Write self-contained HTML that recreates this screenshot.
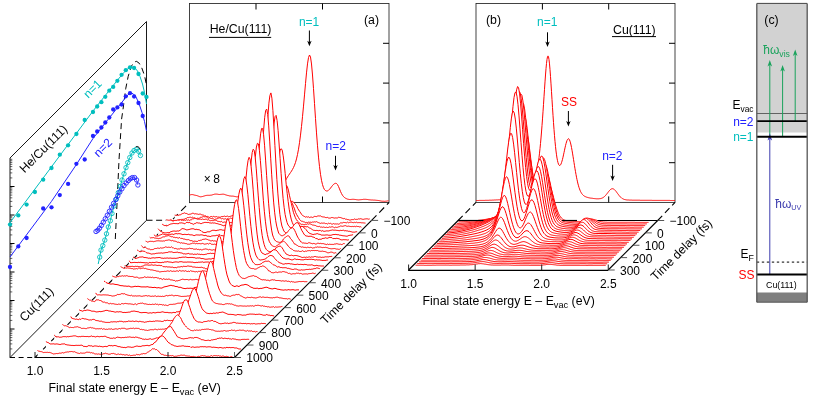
<!DOCTYPE html>
<html><head><meta charset="utf-8"><title>2PPE He/Cu(111)</title>
<style>html,body{margin:0;padding:0;background:#fff;}svg{display:block;will-change:transform;}text{font-family:"Liberation Sans",sans-serif;}</style></head>
<body>
<svg width="815" height="399" viewBox="0 0 815 399" font-family="'Liberation Sans', sans-serif">
<path d="M10 357.5 10 158 146.5 21.5 146.5 220.3 10 357.5 Z" stroke="#1a1a1a" stroke-width="1.0" fill="none"/>
<line x1="10" y1="177.92" x2="12.3" y2="177.92" stroke="#222" stroke-width="0.7"/>
<line x1="10" y1="172.9" x2="12.3" y2="172.9" stroke="#222" stroke-width="0.7"/>
<line x1="10" y1="169.34" x2="12.3" y2="169.34" stroke="#222" stroke-width="0.7"/>
<line x1="10" y1="166.58" x2="12.3" y2="166.58" stroke="#222" stroke-width="0.7"/>
<line x1="10" y1="164.32" x2="12.3" y2="164.32" stroke="#222" stroke-width="0.7"/>
<line x1="10" y1="162.41" x2="12.3" y2="162.41" stroke="#222" stroke-width="0.7"/>
<line x1="10" y1="160.76" x2="12.3" y2="160.76" stroke="#222" stroke-width="0.7"/>
<line x1="10" y1="159.3" x2="12.3" y2="159.3" stroke="#222" stroke-width="0.7"/>
<line x1="10" y1="186.5" x2="14.5" y2="186.5" stroke="#000" stroke-width="1"/>
<line x1="10" y1="206.42" x2="12.3" y2="206.42" stroke="#222" stroke-width="0.7"/>
<line x1="10" y1="201.4" x2="12.3" y2="201.4" stroke="#222" stroke-width="0.7"/>
<line x1="10" y1="197.84" x2="12.3" y2="197.84" stroke="#222" stroke-width="0.7"/>
<line x1="10" y1="195.08" x2="12.3" y2="195.08" stroke="#222" stroke-width="0.7"/>
<line x1="10" y1="192.82" x2="12.3" y2="192.82" stroke="#222" stroke-width="0.7"/>
<line x1="10" y1="190.91" x2="12.3" y2="190.91" stroke="#222" stroke-width="0.7"/>
<line x1="10" y1="189.26" x2="12.3" y2="189.26" stroke="#222" stroke-width="0.7"/>
<line x1="10" y1="187.8" x2="12.3" y2="187.8" stroke="#222" stroke-width="0.7"/>
<line x1="10" y1="215" x2="14.5" y2="215" stroke="#000" stroke-width="1"/>
<line x1="10" y1="234.92" x2="12.3" y2="234.92" stroke="#222" stroke-width="0.7"/>
<line x1="10" y1="229.9" x2="12.3" y2="229.9" stroke="#222" stroke-width="0.7"/>
<line x1="10" y1="226.34" x2="12.3" y2="226.34" stroke="#222" stroke-width="0.7"/>
<line x1="10" y1="223.58" x2="12.3" y2="223.58" stroke="#222" stroke-width="0.7"/>
<line x1="10" y1="221.32" x2="12.3" y2="221.32" stroke="#222" stroke-width="0.7"/>
<line x1="10" y1="219.41" x2="12.3" y2="219.41" stroke="#222" stroke-width="0.7"/>
<line x1="10" y1="217.76" x2="12.3" y2="217.76" stroke="#222" stroke-width="0.7"/>
<line x1="10" y1="216.3" x2="12.3" y2="216.3" stroke="#222" stroke-width="0.7"/>
<line x1="10" y1="243.5" x2="14.5" y2="243.5" stroke="#000" stroke-width="1"/>
<line x1="10" y1="263.42" x2="12.3" y2="263.42" stroke="#222" stroke-width="0.7"/>
<line x1="10" y1="258.4" x2="12.3" y2="258.4" stroke="#222" stroke-width="0.7"/>
<line x1="10" y1="254.84" x2="12.3" y2="254.84" stroke="#222" stroke-width="0.7"/>
<line x1="10" y1="252.08" x2="12.3" y2="252.08" stroke="#222" stroke-width="0.7"/>
<line x1="10" y1="249.82" x2="12.3" y2="249.82" stroke="#222" stroke-width="0.7"/>
<line x1="10" y1="247.91" x2="12.3" y2="247.91" stroke="#222" stroke-width="0.7"/>
<line x1="10" y1="246.26" x2="12.3" y2="246.26" stroke="#222" stroke-width="0.7"/>
<line x1="10" y1="244.8" x2="12.3" y2="244.8" stroke="#222" stroke-width="0.7"/>
<line x1="10" y1="272" x2="14.5" y2="272" stroke="#000" stroke-width="1"/>
<line x1="10" y1="291.92" x2="12.3" y2="291.92" stroke="#222" stroke-width="0.7"/>
<line x1="10" y1="286.9" x2="12.3" y2="286.9" stroke="#222" stroke-width="0.7"/>
<line x1="10" y1="283.34" x2="12.3" y2="283.34" stroke="#222" stroke-width="0.7"/>
<line x1="10" y1="280.58" x2="12.3" y2="280.58" stroke="#222" stroke-width="0.7"/>
<line x1="10" y1="278.32" x2="12.3" y2="278.32" stroke="#222" stroke-width="0.7"/>
<line x1="10" y1="276.41" x2="12.3" y2="276.41" stroke="#222" stroke-width="0.7"/>
<line x1="10" y1="274.76" x2="12.3" y2="274.76" stroke="#222" stroke-width="0.7"/>
<line x1="10" y1="273.3" x2="12.3" y2="273.3" stroke="#222" stroke-width="0.7"/>
<line x1="10" y1="300.5" x2="14.5" y2="300.5" stroke="#000" stroke-width="1"/>
<line x1="10" y1="320.42" x2="12.3" y2="320.42" stroke="#222" stroke-width="0.7"/>
<line x1="10" y1="315.4" x2="12.3" y2="315.4" stroke="#222" stroke-width="0.7"/>
<line x1="10" y1="311.84" x2="12.3" y2="311.84" stroke="#222" stroke-width="0.7"/>
<line x1="10" y1="309.08" x2="12.3" y2="309.08" stroke="#222" stroke-width="0.7"/>
<line x1="10" y1="306.82" x2="12.3" y2="306.82" stroke="#222" stroke-width="0.7"/>
<line x1="10" y1="304.91" x2="12.3" y2="304.91" stroke="#222" stroke-width="0.7"/>
<line x1="10" y1="303.26" x2="12.3" y2="303.26" stroke="#222" stroke-width="0.7"/>
<line x1="10" y1="301.8" x2="12.3" y2="301.8" stroke="#222" stroke-width="0.7"/>
<line x1="10" y1="329" x2="14.5" y2="329" stroke="#000" stroke-width="1"/>
<line x1="10" y1="348.92" x2="12.3" y2="348.92" stroke="#222" stroke-width="0.7"/>
<line x1="10" y1="343.9" x2="12.3" y2="343.9" stroke="#222" stroke-width="0.7"/>
<line x1="10" y1="340.34" x2="12.3" y2="340.34" stroke="#222" stroke-width="0.7"/>
<line x1="10" y1="337.58" x2="12.3" y2="337.58" stroke="#222" stroke-width="0.7"/>
<line x1="10" y1="335.32" x2="12.3" y2="335.32" stroke="#222" stroke-width="0.7"/>
<line x1="10" y1="333.41" x2="12.3" y2="333.41" stroke="#222" stroke-width="0.7"/>
<line x1="10" y1="331.76" x2="12.3" y2="331.76" stroke="#222" stroke-width="0.7"/>
<line x1="10" y1="330.3" x2="12.3" y2="330.3" stroke="#222" stroke-width="0.7"/>
<path d="M115.3 239 117.2 200 119 160 121.6 119 123.2 108 125.7 88.8 128.2 76.3 131.3 66.3 134 62.3 136.3 61.3 138.8 62.8 141.4 66.8 144.5 75.5 146.5 85" stroke="#000" stroke-width="1" fill="none" stroke-dasharray="6 4" stroke-linejoin="round"/>
<path d="M10 222.6 93 111 110 89.5 118 79.5 123 73.5 127 69.5 130 67.6 132.5 67 135 68 137.5 71 140 76.5 142.5 84 144.5 92.5 146.5 104" stroke="#00bebe" stroke-width="1" fill="none" stroke-linejoin="round"/>
<circle cx="10" cy="224.6" r="2.15" fill="#00bebe"/>
<circle cx="18.3" cy="215.4" r="2.15" fill="#00bebe"/>
<circle cx="26.6" cy="204.6" r="2.15" fill="#00bebe"/>
<circle cx="34.9" cy="192" r="2.15" fill="#00bebe"/>
<circle cx="43.2" cy="179.7" r="2.15" fill="#00bebe"/>
<circle cx="51.5" cy="168" r="2.15" fill="#00bebe"/>
<circle cx="59.8" cy="154.7" r="2.15" fill="#00bebe"/>
<circle cx="68.1" cy="145.3" r="2.15" fill="#00bebe"/>
<circle cx="76.4" cy="134" r="2.15" fill="#00bebe"/>
<circle cx="84.7" cy="120" r="2.15" fill="#00bebe"/>
<circle cx="93" cy="112" r="2.15" fill="#00bebe"/>
<circle cx="97.2" cy="106.5" r="2.15" fill="#00bebe"/>
<circle cx="101.4" cy="102.2" r="2.15" fill="#00bebe"/>
<circle cx="105.3" cy="96.8" r="2.15" fill="#00bebe"/>
<circle cx="109.3" cy="90.7" r="2.15" fill="#00bebe"/>
<circle cx="113.2" cy="86.9" r="2.15" fill="#00bebe"/>
<circle cx="117.4" cy="80.8" r="2.15" fill="#00bebe"/>
<circle cx="121.6" cy="74.8" r="2.15" fill="#00bebe"/>
<circle cx="125.8" cy="70.2" r="2.15" fill="#00bebe"/>
<circle cx="130" cy="67.3" r="2.15" fill="#00bebe"/>
<circle cx="134.1" cy="68" r="2.15" fill="#00bebe"/>
<circle cx="138.5" cy="74" r="2.15" fill="#00bebe"/>
<circle cx="142.7" cy="93.5" r="2.15" fill="#00bebe"/>
<circle cx="146.5" cy="97" r="2.15" fill="#00bebe"/>
<path d="M10 257 51.4 201.5 75.4 166 93 138.5 108 119.5 116 109.5 121 103.5 125 98.3 128 94.8 130.5 93.2 133 93.6 136 97 139 103.5 142 112.5 144.5 121.5 146.5 131" stroke="#2222ff" stroke-width="1" fill="none" stroke-linejoin="round"/>
<circle cx="10" cy="267" r="2.15" fill="#2222ff"/>
<circle cx="18.3" cy="246.4" r="2.15" fill="#2222ff"/>
<circle cx="26.6" cy="238" r="2.15" fill="#2222ff"/>
<circle cx="43.2" cy="208.5" r="2.15" fill="#2222ff"/>
<circle cx="51.5" cy="207.3" r="2.15" fill="#2222ff"/>
<circle cx="59.8" cy="195.1" r="2.15" fill="#2222ff"/>
<circle cx="68.1" cy="183.9" r="2.15" fill="#2222ff"/>
<circle cx="76.4" cy="163.8" r="2.15" fill="#2222ff"/>
<circle cx="84.7" cy="159.5" r="2.15" fill="#2222ff"/>
<circle cx="93" cy="136" r="2.15" fill="#2222ff"/>
<circle cx="97.2" cy="131.5" r="2.15" fill="#2222ff"/>
<circle cx="101.4" cy="127.5" r="2.15" fill="#2222ff"/>
<circle cx="105.3" cy="122.5" r="2.15" fill="#2222ff"/>
<circle cx="109.3" cy="117.5" r="2.15" fill="#2222ff"/>
<circle cx="113.2" cy="109.5" r="2.15" fill="#2222ff"/>
<circle cx="117.4" cy="107.4" r="2.15" fill="#2222ff"/>
<circle cx="121.6" cy="104.5" r="2.15" fill="#2222ff"/>
<circle cx="125.8" cy="96.3" r="2.15" fill="#2222ff"/>
<circle cx="130" cy="93.2" r="2.15" fill="#2222ff"/>
<circle cx="134.1" cy="96.5" r="2.15" fill="#2222ff"/>
<circle cx="138.5" cy="103" r="2.15" fill="#2222ff"/>
<circle cx="142.7" cy="116" r="2.15" fill="#2222ff"/>
<path d="M98.2 264 99.7 257.1 101 250.1 102.8 245.6 104.8 240.1 106.5 233.8 108.3 227 110.3 220.8 112 213.5 114 206 116.3 199 118.3 192.6 120.3 186.4 122 180 124 173.8 126 167.6 127.8 162.6 129.8 157.5 132 153 134 150.5 136.3 149.3 138.6 151.3 140.4 155.5" stroke="#00bebe" stroke-width="1" fill="none"/>
<circle cx="99.7" cy="257.1" r="2.2" fill="none" stroke="#00bebe" stroke-width="0.9"/>
<circle cx="101" cy="250.1" r="2.2" fill="none" stroke="#00bebe" stroke-width="0.9"/>
<circle cx="102.8" cy="245.6" r="2.2" fill="none" stroke="#00bebe" stroke-width="0.9"/>
<circle cx="104.8" cy="240.1" r="2.2" fill="none" stroke="#00bebe" stroke-width="0.9"/>
<circle cx="106.5" cy="233.8" r="2.2" fill="none" stroke="#00bebe" stroke-width="0.9"/>
<circle cx="108.3" cy="227" r="2.2" fill="none" stroke="#00bebe" stroke-width="0.9"/>
<circle cx="110.3" cy="220.8" r="2.2" fill="none" stroke="#00bebe" stroke-width="0.9"/>
<circle cx="112" cy="213.5" r="2.2" fill="none" stroke="#00bebe" stroke-width="0.9"/>
<circle cx="114" cy="206" r="2.2" fill="none" stroke="#00bebe" stroke-width="0.9"/>
<circle cx="116.3" cy="199" r="2.2" fill="none" stroke="#00bebe" stroke-width="0.9"/>
<circle cx="118.3" cy="192.6" r="2.2" fill="none" stroke="#00bebe" stroke-width="0.9"/>
<circle cx="120.3" cy="186.4" r="2.2" fill="none" stroke="#00bebe" stroke-width="0.9"/>
<circle cx="122" cy="180" r="2.2" fill="none" stroke="#00bebe" stroke-width="0.9"/>
<circle cx="124" cy="173.8" r="2.2" fill="none" stroke="#00bebe" stroke-width="0.9"/>
<circle cx="126" cy="167.6" r="2.2" fill="none" stroke="#00bebe" stroke-width="0.9"/>
<circle cx="127.8" cy="162.6" r="2.2" fill="none" stroke="#00bebe" stroke-width="0.9"/>
<circle cx="129.8" cy="157.5" r="2.2" fill="none" stroke="#00bebe" stroke-width="0.9"/>
<circle cx="132" cy="153" r="2.2" fill="none" stroke="#00bebe" stroke-width="0.9"/>
<circle cx="134" cy="150.5" r="2.2" fill="none" stroke="#00bebe" stroke-width="0.9"/>
<circle cx="136.3" cy="149.3" r="2.2" fill="none" stroke="#00bebe" stroke-width="0.9"/>
<circle cx="138.6" cy="151.3" r="2.2" fill="none" stroke="#00bebe" stroke-width="0.9"/>
<circle cx="140.4" cy="155.5" r="2.2" fill="none" stroke="#00bebe" stroke-width="0.9"/>
<path d="M96 231.5 97.8 230.2 99.5 228.2 101.4 225.4 103.3 222.2 105.3 218.8 107.3 215.2 109.4 211.3 111.5 207.2 113.6 203.4 115.8 199.6 117.8 195.8 119.8 192.1 121.9 188.8 124 185.6 126.2 183 128.3 180.6 130.3 178.8 132.3 177.6 134.6 177.6 136.6 180 137.9 185" stroke="#2222ff" stroke-width="0.8" fill="none"/>
<circle cx="96" cy="231.5" r="2.2" fill="none" stroke="#2222ff" stroke-width="0.9"/>
<circle cx="97.8" cy="230.2" r="2.2" fill="none" stroke="#2222ff" stroke-width="0.9"/>
<circle cx="99.5" cy="228.2" r="2.2" fill="none" stroke="#2222ff" stroke-width="0.9"/>
<circle cx="101.4" cy="225.4" r="2.2" fill="none" stroke="#2222ff" stroke-width="0.9"/>
<circle cx="103.3" cy="222.2" r="2.2" fill="none" stroke="#2222ff" stroke-width="0.9"/>
<circle cx="105.3" cy="218.8" r="2.2" fill="none" stroke="#2222ff" stroke-width="0.9"/>
<circle cx="107.3" cy="215.2" r="2.2" fill="none" stroke="#2222ff" stroke-width="0.9"/>
<circle cx="109.4" cy="211.3" r="2.2" fill="none" stroke="#2222ff" stroke-width="0.9"/>
<circle cx="111.5" cy="207.2" r="2.2" fill="none" stroke="#2222ff" stroke-width="0.9"/>
<circle cx="113.6" cy="203.4" r="2.2" fill="none" stroke="#2222ff" stroke-width="0.9"/>
<circle cx="115.8" cy="199.6" r="2.2" fill="none" stroke="#2222ff" stroke-width="0.9"/>
<circle cx="117.8" cy="195.8" r="2.2" fill="none" stroke="#2222ff" stroke-width="0.9"/>
<circle cx="119.8" cy="192.1" r="2.2" fill="none" stroke="#2222ff" stroke-width="0.9"/>
<circle cx="121.9" cy="188.8" r="2.2" fill="none" stroke="#2222ff" stroke-width="0.9"/>
<circle cx="124" cy="185.6" r="2.2" fill="none" stroke="#2222ff" stroke-width="0.9"/>
<circle cx="126.2" cy="183" r="2.2" fill="none" stroke="#2222ff" stroke-width="0.9"/>
<circle cx="128.3" cy="180.6" r="2.2" fill="none" stroke="#2222ff" stroke-width="0.9"/>
<circle cx="130.3" cy="178.8" r="2.2" fill="none" stroke="#2222ff" stroke-width="0.9"/>
<circle cx="132.3" cy="177.6" r="2.2" fill="none" stroke="#2222ff" stroke-width="0.9"/>
<circle cx="134.6" cy="177.6" r="2.2" fill="none" stroke="#2222ff" stroke-width="0.9"/>
<circle cx="136.6" cy="180" r="2.2" fill="none" stroke="#2222ff" stroke-width="0.9"/>
<circle cx="137.9" cy="185" r="2.2" fill="none" stroke="#2222ff" stroke-width="0.9"/>
<path d="M135.8 146.9 137.6 146.5 139.2 147.6 140.3 149.6" stroke="#000" stroke-width="1" fill="none"/>
<text x="24.5" y="173.5" font-size="12.3" fill="#000" text-anchor="start" transform="rotate(-45 24.5 173.5)">He/Cu(111)</text>
<text x="24.4" y="322.3" font-size="12.3" fill="#000" text-anchor="start" transform="rotate(-45 24.4 322.3)">Cu(111)</text>
<text x="88.2" y="98.8" font-size="12.0" fill="#00bebe" text-anchor="start" transform="rotate(-45 88.2 98.8)">n=1</text>
<text x="98.5" y="157.7" font-size="12.0" fill="#2222ff" text-anchor="start" transform="rotate(-45 98.5 157.7)">n=2</text>
<rect x="189.5" y="3.5" width="199.5" height="199.0" fill="none" stroke="#222" stroke-width="0.85"/>
<line x1="256" y1="3.5" x2="256" y2="9.5" stroke="#000" stroke-width="1"/>
<line x1="256" y1="202.5" x2="256" y2="196.5" stroke="#000" stroke-width="1"/>
<line x1="322.5" y1="3.5" x2="322.5" y2="9.5" stroke="#000" stroke-width="1"/>
<line x1="322.5" y1="202.5" x2="322.5" y2="196.5" stroke="#000" stroke-width="1"/>
<line x1="383" y1="43.3" x2="389" y2="43.3" stroke="#000" stroke-width="1"/>
<line x1="383" y1="83.1" x2="389" y2="83.1" stroke="#000" stroke-width="1"/>
<line x1="383" y1="122.9" x2="389" y2="122.9" stroke="#000" stroke-width="1"/>
<line x1="383" y1="162.7" x2="389" y2="162.7" stroke="#000" stroke-width="1"/>
<text x="209.7" y="33.2" font-size="12.3" fill="#000" text-anchor="start">He/Cu(111)</text>
<line x1="209" y1="37.4" x2="271.2" y2="37.4" stroke="#000" stroke-width="1"/>
<text x="298.9" y="25.6" font-size="12.0" fill="#00bebe" text-anchor="start">n=1</text>
<line x1="309.4" y1="30.5" x2="309.4" y2="43" stroke="#000" stroke-width="1"/>
<path d="M307.2 40.8 309.4 46.3 311.6 40.8 309.4 42.3 Z" stroke="none" stroke-width="1" fill="#000"/>
<text x="364" y="24.2" font-size="12.3" fill="#000" text-anchor="start">(a)</text>
<text x="325.6" y="150.2" font-size="12.0" fill="#2222ff" text-anchor="start">n=2</text>
<line x1="335.5" y1="155.8" x2="335.5" y2="167.2" stroke="#000" stroke-width="1"/>
<path d="M333.3 165 335.5 170.5 337.7 165 335.5 166.5 Z" stroke="none" stroke-width="1" fill="#000"/>
<text x="203.8" y="183.3" font-size="12" fill="#000" text-anchor="start">×</text>
<text x="213.3" y="183.3" font-size="12" fill="#000" text-anchor="start">8</text>
<path d="M189.5 194.8l1 0 1-.2 1 0 1 .2 1 .3 1 .2 1 .2 1 .3 1 .4 1 .4 1 .2 1-.1 1-.2 1-.3 1-.3 1-.3 1-.2 1-.1 1 0 1 0 1-.1 1-.1 1-.3 1-.3 1-.3 1-.1 1 0 1 .1 1 .2 1 .1 1-.1 1-.1 1-.1 1 0 1 .2 1 .4 1 .3 1 .3 1 .2 1 .3 1 .1 1 .1 1 0 1 .1 1 .2 1 .2 1 .2 1 0 1-.1 1-.3 1-.2 1-.1 1 .2 1 .3 1 .3 1 .2 1 .1 1 0 1 0 1-.1 1 0 1-.1 1-.1 1-.1 1-.2 1-.1 1 0 1 0 1 0 1-.1 1-.1 1-.1 1-.1 1 0 1 0 1 0 1-.1 1-.1 1-.1 1-.3 1-.3 1-.4 1-.5 1-.5 1-.4 1-.5 1-.6 1-.8 1-1 1-1.3 1-1.3 1-1.3 1-1.5 1-1.5 1-1.6 1-1.6 1-1.7 1-1.7 1-1.5 1-1.5 1-1.4 1-1.5 1-1.7 1-1.9 1-2.3 1-2.8 1-3.5 1-4.4 1-5.3 1-6.5 1-7.6 1-8.7 1-9.7 1-10.6 1-11.2 1-11.3 1-10.7 1-9 1-6.3 1-2.6 1 2 1 7 1 11 1 13.6 1 14.9 1 15.1 1 14.3 1 12.9 1 11.3 1 9.5 1 7.7 1 6 1 4.3 1 3.1 1 1.9 1 1 1 .4 1-.1 1-.6 1-1 1-1.2 1-1.3 1-1.3 1-1.1 1-.7 1-.4 1 .2 1 1.1 1 1.9 1 2.4 1 2.5 1 2.2 1 1.7 1 1.3 1 .9 1 .7 1 .5 1 .4 1 .2 1 .2 1 0 1-.1 1-.1 1 0 1 .1 1 .1 1 .2 1 .1 1 .1 1-.1 1-.1 1-.1 1-.1 1-.2 1 0 1 0 1 .1 1 .1 1 .2 1 .1 1 .1 1 .1 1 0 1 .1 1 0 1 .1 1 .1 1 .1 1 .1 1 .2 1 .2 1 .2 1 .1 1 0 1 .1 1-.1 1-.1 1-.2 1-.1" stroke="#ff0000" stroke-width="1" fill="none" stroke-linejoin="round"/>
<line x1="10" y1="357.5" x2="35" y2="357.5" stroke="#000" stroke-width="1.1" stroke-dasharray="5 3.6"/>
<line x1="35" y1="357.5" x2="189.5" y2="202.5" stroke="#000" stroke-width="1.1" stroke-dasharray="7 4.5"/>
<line x1="146.5" y1="220.3" x2="166.5" y2="220.3" stroke="#000" stroke-width="1.1" stroke-dasharray="6 3.6"/>
<path d="M174.7 220.4l0-5.3 1 .2 1 0 1-.1 1 .2 1-.6 1-.1 1-.7 1-.5 1-.2 1-.5 1 .7 1 0 1 .6 1 .4 1-.3 1-.1 1-.4 1-.5 1 .2 1 .6 1-.3 1 .3 1 .1 1 .3 1-.3 1 .1 1 .6 1 .2 1 .2 1 .8 1-.2 1 .9 1-.3 1 .6 1 .4 1-.9 1 0 1 .5 1-.7 1 .6 1-.1 1-.2 1 .6 1-.2 1 .2 1-.1 1-.6 1 0 1-.1 1-.3 1 .5 1-.3 1-.2 1 .7 1-.3 1-.3 1-.3 1-.4 1 .3 1 .4 1-.2 1 .1 1 .1 1-.3 1-.1 1 .3 1 0 1-.1 1 .2 1 .1 1-.5 1 .4 1 .2 1 .2 1-.6 1-.1 1 .1 1-.2 1-.3 1-.9 1 .3 1 .5 1-.1 1-.1 1 .1 1-.4 1 .6 1-.6 1 .6 1-.4 1-.4 1 0 1-.1 1-.2 1-.6 1-.3 1-.1 1-.2 1 0 1-.2 1 .1 1-.1 1-.1 1-.4 1 0 1-.6 1-1.1 1-.1 1-1.7 1-.8 1-1.5 1-1 1-1 1-1.1 1-.6 1-1.2 1-.1 1-.3 1 .9 1 1.2 1 1.2 1 1.4 1 2.3 1 1.6 1 1.5 1 1.4 1 1.7 1 .9 1 .6 1 .5 1 .6 1-.5 1 .5 1-.4 1 .8 1-.5 1 0 1 .4 1-.6 1-.6 1 .2 1 .1 1-.6 1-.1 1 .1 1-.1 1 .8 1 .2 1 .1 1 .1 1 .5 1 0 1-.2 1 .7 1 0 1-.1 1-.5 1 .1 1 .3 1 .2 1-.2 1 .1 1-.1 1-.7 1 .3 1 .1 1 .4 1 .4 1 .3 1-.2 1 .8 1-.1 1 .4 1 .1 1 .4 1-.1 1-.4 1 0 1 0 1-.7 1 .6 1-.2 1 0 1-.5 1 .2 1-.3 1 .3 1 .3 1 0 1-.3 1-.1 1-.1 1 .1 1 .3 1-.3 0 1.5" stroke="none" stroke-width="1" fill="#fff"/>
<path d="M174.7 215.1l1 .2 1 0 1-.1 1 .2 1-.6 1-.1 1-.7 1-.5 1-.2 1-.5 1 .7 1 0 1 .6 1 .4 1-.3 1-.1 1-.4 1-.5 1 .2 1 .6 1-.3 1 .3 1 .1 1 .3 1-.3 1 .1 1 .6 1 .2 1 .2 1 .8 1-.2 1 .9 1-.3 1 .6 1 .4 1-.9 1 0 1 .5 1-.7 1 .6 1-.1 1-.2 1 .6 1-.2 1 .2 1-.1 1-.6 1 0 1-.1 1-.3 1 .5 1-.3 1-.2 1 .7 1-.3 1-.3 1-.3 1-.4 1 .3 1 .4 1-.2 1 .1 1 .1 1-.3 1-.1 1 .3 1 0 1-.1 1 .2 1 .1 1-.5 1 .4 1 .2 1 .2 1-.6 1-.1 1 .1 1-.2 1-.3 1-.9 1 .3 1 .5 1-.1 1-.1 1 .1 1-.4 1 .6 1-.6 1 .6 1-.4 1-.4 1 0 1-.1 1-.2 1-.6 1-.3 1-.1 1-.2 1 0 1-.2 1 .1 1-.1 1-.1 1-.4 1 0 1-.6 1-1.1 1-.1 1-1.7 1-.8 1-1.5 1-1 1-1 1-1.1 1-.6 1-1.2 1-.1 1-.3 1 .9 1 1.2 1 1.2 1 1.4 1 2.3 1 1.6 1 1.5 1 1.4 1 1.7 1 .9 1 .6 1 .5 1 .6 1-.5 1 .5 1-.4 1 .8 1-.5 1 0 1 .4 1-.6 1-.6 1 .2 1 .1 1-.6 1-.1 1 .1 1-.1 1 .8 1 .2 1 .1 1 .1 1 .5 1 0 1-.2 1 .7 1 0 1-.1 1-.5 1 .1 1 .3 1 .2 1-.2 1 .1 1-.1 1-.7 1 .3 1 .1 1 .4 1 .4 1 .3 1-.2 1 .8 1-.1 1 .4 1 .1 1 .4 1-.1 1-.4 1 0 1 0 1-.7 1 .6 1-.2 1 0 1-.5 1 .2 1-.3 1 .3 1 .3 1 0 1-.3 1-.1 1-.1 1 .1 1 .3 1-.3" stroke="#ff0000" stroke-width="1" fill="none" stroke-linejoin="round"/>
<path d="M170.5 224.6l0-5.2 1 .6 1 .5 1 0 1 .1 1 .3 1-.4 1-.2 1-.4 1-.3 1 .5 1-.7 1 0 1-.1 1-.2 1-.6 1-.2 1-.8 1 .1 1-.3 1-.1 1 .5 1-.5 1 .7 1-.1 1 .5 1 .3 1-.4 1 .2 1-.3 1-.8 1 0 1-.4 1-.3 1 .2 1-.1 1 .2 1 .8 1 .6 1-.5 1 .5 1 .2 1 .2 1 .2 1 .8 1-.6 1-.2 1-.3 1-.5 1-.3 1 .3 1 .7 1-.4 1 .6 1 0 1-.3 1 .6 1-.4 1 .1 1-.1 1-.8 1 .3 1 .1 1 .6 1 0 1 .5 1 0 1 .6 1 .2 1 .2 1 0 1 .2 1-.2 1 0 1 .1 1 .4 1-.3 1-.2 1-.4 1-.2 1-.1 1 0 1 .1 1-.1 1-.3 1 0 1-.6 1 .2 1-.2 1 0 1-.2 1 .5 1-.8 1 .1 1 .2 1-.3 1 0 1 .2 1-.2 1 .3 1-.3 1-.3 1 .1 1-.4 1-.6 1-.4 1-1 1-.6 1-.5 1-1.6 1-.9 1-1.1 1-1.6 1-2.2 1-1.8 1-1.4 1-2 1-1.4 1-.4 1-.4 1 .3 1 1.5 1 2.1 1 2.6 1 2.4 1 3.4 1 2 1 1.7 1 1.6 1 1.8 1 1.1 1 .7 1 .1 1 .5 1 .2 1 .6 1-.2 1 .2 1-.5 1 .2 1-.1 1 .2 1-.4 1 .1 1-.3 1 .2 1-.4 1 .6 1 .4 1 .4 1 .4 1-.4 1 .2 1-.1 1 0 1 .5 1-.1 1 .5 1-.8 1 .4 1-.3 1 .7 1 .1 1-.5 1 .4 1-.1 1 .1 1-.1 1 .3 1-.4 1-.9 1 0 1 0 1-.5 1 .1 1 .1 1 .2 1-.7 1 .7 1-.4 1-.2 1 0 1 .3 1 .2 1-.4 1 .3 1-.4 1 .5 1-.1 1 0 1 0 1 .2 1 0 1 .1 1 .1 1 .1 0 1.5" stroke="none" stroke-width="1" fill="#fff"/>
<path d="M170.5 219.4l1 .6 1 .5 1 0 1 .1 1 .3 1-.4 1-.2 1-.4 1-.3 1 .5 1-.7 1 0 1-.1 1-.2 1-.6 1-.2 1-.8 1 .1 1-.3 1-.1 1 .5 1-.5 1 .7 1-.1 1 .5 1 .3 1-.4 1 .2 1-.3 1-.8 1 0 1-.4 1-.3 1 .2 1-.1 1 .2 1 .8 1 .6 1-.5 1 .5 1 .2 1 .2 1 .2 1 .8 1-.6 1-.2 1-.3 1-.5 1-.3 1 .3 1 .7 1-.4 1 .6 1 0 1-.3 1 .6 1-.4 1 .1 1-.1 1-.8 1 .3 1 .1 1 .6 1 0 1 .5 1 0 1 .6 1 .2 1 .2 1 0 1 .2 1-.2 1 0 1 .1 1 .4 1-.3 1-.2 1-.4 1-.2 1-.1 1 0 1 .1 1-.1 1-.3 1 0 1-.6 1 .2 1-.2 1 0 1-.2 1 .5 1-.8 1 .1 1 .2 1-.3 1 0 1 .2 1-.2 1 .3 1-.3 1-.3 1 .1 1-.4 1-.6 1-.4 1-1 1-.6 1-.5 1-1.6 1-.9 1-1.1 1-1.6 1-2.2 1-1.8 1-1.4 1-2 1-1.4 1-.4 1-.4 1 .3 1 1.5 1 2.1 1 2.6 1 2.4 1 3.4 1 2 1 1.7 1 1.6 1 1.8 1 1.1 1 .7 1 .1 1 .5 1 .2 1 .6 1-.2 1 .2 1-.5 1 .2 1-.1 1 .2 1-.4 1 .1 1-.3 1 .2 1-.4 1 .6 1 .4 1 .4 1 .4 1-.4 1 .2 1-.1 1 0 1 .5 1-.1 1 .5 1-.8 1 .4 1-.3 1 .7 1 .1 1-.5 1 .4 1-.1 1 .1 1-.1 1 .3 1-.4 1-.9 1 0 1 0 1-.5 1 .1 1 .1 1 .2 1-.7 1 .7 1-.4 1-.2 1 0 1 .3 1 .2 1-.4 1 .3 1-.4 1 .5 1-.1 1 0 1 0 1 .2 1 0 1 .1 1 .1 1 .1" stroke="#ff0000" stroke-width="1" fill="none" stroke-linejoin="round"/>
<path d="M166.4 228.7l0-8.9 1 .2 1 .2 1 0 1 0 1 .3 1 .4 1 .1 1-.5 1-.1 1 0 1-.3 1 .1 1 0 1-.5 1 .7 1-.3 1 .4 1-.4 1 .3 1-.6 1 .4 1-.4 1 .6 1-.5 1-.1 1-.9 1-.1 1-.4 1 .1 1 .2 1 .5 1 0 1 0 1-.1 1 .4 1-.5 1 .4 1 .1 1-.3 1 0 1 .8 1-.3 1 .6 1 .4 1-.2 1 .1 1 0 1-.4 1 0 1 .3 1 .7 1 .2 1 .1 1 .3 1-.5 1 1 1 0 1-.3 1 .2 1-.1 1 .2 1 .4 1 0 1-.2 1 0 1 .4 1 .1 1-.4 1 0 1-.5 1 .4 1-.1 1 .1 1-.2 1 .3 1 0 1-.5 1-.1 1-.5 1 .2 1-.6 1-.1 1-.5 1 .5 1-.3 1 .6 1 .3 1 .5 1-.5 1-.2 1-.2 1-.2 1-.9 1-.5 1-.7 1 .3 1-.6 1 .1 1-.3 1-.6 1 0 1-.1 1 .3 1-.7 1-.5 1-.4 1-1 1-.4 1-1.6 1-1.6 1-1.9 1-2.6 1-3.6 1-3.6 1-3.8 1-4.2 1-3.2 1-2.9 1-1.6 1 .7 1 1.7 1 3.3 1 5.1 1 4.2 1 4.3 1 4.2 1 4.4 1 2.7 1 2.7 1 1.9 1 1.4 1 .8 1 1.1 1 1.1 1 .4 1-.1 1 .3 1 0 1-.3 1 .1 1-.6 1 .4 1-.4 1 .2 1 .4 1 .6 1 .1 1 .2 1 .2 1 .6 1 .3 1 .2 1-.3 1 .8 1-.1 1 .3 1-.3 1 .3 1 .2 1-.3 1 .3 1-.1 1-.5 1 .3 1-.3 1-.1 1 .1 1 1 1-.7 1 .2 1-.1 1-.4 1-.2 1-.7 1 .1 1 .2 1-.2 1-.3 1-.2 1 .5 1 .2 1-.2 1 .2 1 .2 1 .1 1-.2 1 .2 1-.3 1 .4 1-.5 1 .3 1 0 1 .4 1-.2 1 .5 0 1.5" stroke="none" stroke-width="1" fill="#fff"/>
<path d="M166.4 219.8l1 .2 1 .2 1 0 1 0 1 .3 1 .4 1 .1 1-.5 1-.1 1 0 1-.3 1 .1 1 0 1-.5 1 .7 1-.3 1 .4 1-.4 1 .3 1-.6 1 .4 1-.4 1 .6 1-.5 1-.1 1-.9 1-.1 1-.4 1 .1 1 .2 1 .5 1 0 1 0 1-.1 1 .4 1-.5 1 .4 1 .1 1-.3 1 0 1 .8 1-.3 1 .6 1 .4 1-.2 1 .1 1 0 1-.4 1 0 1 .3 1 .7 1 .2 1 .1 1 .3 1-.5 1 1 1 0 1-.3 1 .2 1-.1 1 .2 1 .4 1 0 1-.2 1 0 1 .4 1 .1 1-.4 1 0 1-.5 1 .4 1-.1 1 .1 1-.2 1 .3 1 0 1-.5 1-.1 1-.5 1 .2 1-.6 1-.1 1-.5 1 .5 1-.3 1 .6 1 .3 1 .5 1-.5 1-.2 1-.2 1-.2 1-.9 1-.5 1-.7 1 .3 1-.6 1 .1 1-.3 1-.6 1 0 1-.1 1 .3 1-.7 1-.5 1-.4 1-1 1-.4 1-1.6 1-1.6 1-1.9 1-2.6 1-3.6 1-3.6 1-3.8 1-4.2 1-3.2 1-2.9 1-1.6 1 .7 1 1.7 1 3.3 1 5.1 1 4.2 1 4.3 1 4.2 1 4.4 1 2.7 1 2.7 1 1.9 1 1.4 1 .8 1 1.1 1 1.1 1 .4 1-.1 1 .3 1 0 1-.3 1 .1 1-.6 1 .4 1-.4 1 .2 1 .4 1 .6 1 .1 1 .2 1 .2 1 .6 1 .3 1 .2 1-.3 1 .8 1-.1 1 .3 1-.3 1 .3 1 .2 1-.3 1 .3 1-.1 1-.5 1 .3 1-.3 1-.1 1 .1 1 1 1-.7 1 .2 1-.1 1-.4 1-.2 1-.7 1 .1 1 .2 1-.2 1-.3 1-.2 1 .5 1 .2 1-.2 1 .2 1 .2 1 .1 1-.2 1 .2 1-.3 1 .4 1-.5 1 .3 1 0 1 .4 1-.2 1 .5" stroke="#ff0000" stroke-width="1" fill="none" stroke-linejoin="round"/>
<path d="M162.2 232.9l0-8.7 1 .6 1 .7 1-.1 1 .5 1-.2 1-.4 1-.6 1-.5 1-.3 1-.1 1-.4 1 .1 1 .1 1 0 1 0 1 .4 1-1.1 1 .1 1-.2 1 .2 1 .1 1 .6 1-.1 1-1.1 1-.2 1 .5 1-.7 1 1 1 .3 1 .2 1 .9 1-.8 1-.1 1-.8 1-.1 1 .4 1-.2 1 .6 1 .2 1-.6 1-.2 1-.4 1-.1 1 0 1 .2 1-.2 1 .4 1 .1 1 .3 1-.4 1 .3 1-.2 1 .2 1 .4 1 .1 1 .3 1 .4 1 .1 1 .4 1 .4 1 .6 1-.4 1 .1 1-.2 1-.4 1 .4 1-.1 1 .6 1-.3 1 0 1 .3 1 .7 1 .1 1-.2 1-.4 1-.3 1 .6 1-.5 1 .2 1 .2 1 .2 1 .1 1 .1 1-.4 1 .1 1-.8 1 .1 1-.7 1 0 1-.1 1 0 1 .1 1-.2 1 .5 1-1 1 0 1-.9 1-.4 1-.5 1-.5 1-.5 1-.7 1-.7 1-1 1-.9 1-1.5 1-1.6 1-2.3 1-2.6 1-4.3 1-5 1-5.9 1-7.8 1-8.2 1-9 1-8 1-7.3 1-4.6 1-1.3 1 1.4 1 5.7 1 8 1 9.8 1 10.7 1 9.1 1 8.1 1 7.7 1 5.4 1 4.5 1 3.2 1 2.2 1 1.5 1 1 1-.2 1 .3 1-.3 1-.3 1 0 1 .1 1 0 1 .2 1-.4 1 .1 1 .4 1-.4 1 .5 1 .9 1 .2 1 .7 1 .7 1 .7 1 .1 1 .3 1-.2 1 0 1 .4 1-.3 1-.2 1 1 1-.8 1 .6 1 .2 1-.1 1-.3 1 0 1 .1 1-.2 1-.4 1-.1 1-.4 1 .2 1 .1 1-.1 1 .2 1 .1 1 .1 1 .3 1-.5 1 .2 1 0 1-.5 1 .8 1-.2 1 .3 1-.1 1 .5 1-.1 1 .3 1 .2 1 .4 1 0 1 .1 1-.2 1-.3 1 .2 0 1" stroke="none" stroke-width="1" fill="#fff"/>
<path d="M162.2 224.2l1 .6 1 .7 1-.1 1 .5 1-.2 1-.4 1-.6 1-.5 1-.3 1-.1 1-.4 1 .1 1 .1 1 0 1 0 1 .4 1-1.1 1 .1 1-.2 1 .2 1 .1 1 .6 1-.1 1-1.1 1-.2 1 .5 1-.7 1 1 1 .3 1 .2 1 .9 1-.8 1-.1 1-.8 1-.1 1 .4 1-.2 1 .6 1 .2 1-.6 1-.2 1-.4 1-.1 1 0 1 .2 1-.2 1 .4 1 .1 1 .3 1-.4 1 .3 1-.2 1 .2 1 .4 1 .1 1 .3 1 .4 1 .1 1 .4 1 .4 1 .6 1-.4 1 .1 1-.2 1-.4 1 .4 1-.1 1 .6 1-.3 1 0 1 .3 1 .7 1 .1 1-.2 1-.4 1-.3 1 .6 1-.5 1 .2 1 .2 1 .2 1 .1 1 .1 1-.4 1 .1 1-.8 1 .1 1-.7 1 0 1-.1 1 0 1 .1 1-.2 1 .5 1-1 1 0 1-.9 1-.4 1-.5 1-.5 1-.5 1-.7 1-.7 1-1 1-.9 1-1.5 1-1.6 1-2.3 1-2.6 1-4.3 1-5 1-5.9 1-7.8 1-8.2 1-9 1-8 1-7.3 1-4.6 1-1.3 1 1.4 1 5.7 1 8 1 9.8 1 10.7 1 9.1 1 8.1 1 7.7 1 5.4 1 4.5 1 3.2 1 2.2 1 1.5 1 1 1-.2 1 .3 1-.3 1-.3 1 0 1 .1 1 0 1 .2 1-.4 1 .1 1 .4 1-.4 1 .5 1 .9 1 .2 1 .7 1 .7 1 .7 1 .1 1 .3 1-.2 1 0 1 .4 1-.3 1-.2 1 1 1-.8 1 .6 1 .2 1-.1 1-.3 1 0 1 .1 1-.2 1-.4 1-.1 1-.4 1 .2 1 .1 1-.1 1 .2 1 .1 1 .1 1 .3 1-.5 1 .2 1 0 1-.5 1 .8 1-.2 1 .3 1-.1 1 .5 1-.1 1 .3 1 .2 1 .4 1 0 1 .1 1-.2 1-.3 1 .2" stroke="#ff0000" stroke-width="1" fill="none" stroke-linejoin="round"/>
<path d="M158.1 237l0-8.3 1 1.1 1 1.1 1 .5 1 .7 1 .3 1 .4 1 .1 1 0 1-.2 1-.1 1 .2 1-.8 1-.3 1-.4 1-.2 1-.1 1 .1 1 .2 1-.5 1 .4 1-.4 1-.5 1-.9 1-.8 1 .1 1 .2 1 .3 1 .6 1 .1 1-.2 1-.2 1-.3 1-.3 1-.1 1-.1 1 .3 1 .6 1-.4 1 .3 1 .2 1-.1 1 .8 1 .3 1 1 1 .6 1 .2 1 .1 1-.2 1-.5 1-.2 1 .3 1-.6 1-.4 1-.7 1 0 1-.1 1 .3 1 .2 1-.5 1 .1 1-.5 1 0 1-.2 1 .5 1 0 1 .2 1-.1 1 .2 1 .3 1 0 1-1 1 .3 1-.5 1 .2 1 .1 1-.1 1-.1 1-.3 1 .4 1 0 1 .3 1 .3 1-.4 1 .4 1-.5 1 .2 1 .4 1 .1 1 .3 1-.2 1-.3 1 0 1 0 1-.4 1-.5 1-.2 1-.6 1-.6 1-.2 1-.9 1-.4 1-1.1 1-.8 1-1.1 1-1.5 1-2 1-2.8 1-4 1-6.2 1-8.2 1-10.5 1-12.3 1-14 1-14.8 1-13.2 1-11 1-6.5 1-1.1 1 5.1 1 9.9 1 13.6 1 14.6 1 14.8 1 13.6 1 11.5 1 8.8 1 7.1 1 4.5 1 3.7 1 2.5 1 1 1 1.7 1-.2 1 .8 1 .2 1 .1 1 0 1-.6 1-.4 1-.4 1-.5 1-.4 1 0 1-.1 1 .6 1 1 1 .6 1 1.1 1 1.5 1 1.1 1 .8 1 .5 1 .4 1 .3 1 .4 1-.4 1 0 1-.2 1-.5 1 .5 1 .3 1 0 1 .7 1 .1 1-.1 1 .2 1-.2 1 0 1-.2 1 .4 1 0 1 .1 1-.1 1-.3 1-.4 1 .1 1-.2 1 0 1 .4 1-.3 1 .6 1 .1 1 .1 1 .3 1 .2 1 0 1 .2 1 .1 1 .2 1-.6 1-.2 1-.3 1 0 1-.3 1-.2 0 2.3" stroke="none" stroke-width="1" fill="#fff"/>
<path d="M158.1 228.7l1 1.1 1 1.1 1 .5 1 .7 1 .3 1 .4 1 .1 1 0 1-.2 1-.1 1 .2 1-.8 1-.3 1-.4 1-.2 1-.1 1 .1 1 .2 1-.5 1 .4 1-.4 1-.5 1-.9 1-.8 1 .1 1 .2 1 .3 1 .6 1 .1 1-.2 1-.2 1-.3 1-.3 1-.1 1-.1 1 .3 1 .6 1-.4 1 .3 1 .2 1-.1 1 .8 1 .3 1 1 1 .6 1 .2 1 .1 1-.2 1-.5 1-.2 1 .3 1-.6 1-.4 1-.7 1 0 1-.1 1 .3 1 .2 1-.5 1 .1 1-.5 1 0 1-.2 1 .5 1 0 1 .2 1-.1 1 .2 1 .3 1 0 1-1 1 .3 1-.5 1 .2 1 .1 1-.1 1-.1 1-.3 1 .4 1 0 1 .3 1 .3 1-.4 1 .4 1-.5 1 .2 1 .4 1 .1 1 .3 1-.2 1-.3 1 0 1 0 1-.4 1-.5 1-.2 1-.6 1-.6 1-.2 1-.9 1-.4 1-1.1 1-.8 1-1.1 1-1.5 1-2 1-2.8 1-4 1-6.2 1-8.2 1-10.5 1-12.3 1-14 1-14.8 1-13.2 1-11 1-6.5 1-1.1 1 5.1 1 9.9 1 13.6 1 14.6 1 14.8 1 13.6 1 11.5 1 8.8 1 7.1 1 4.5 1 3.7 1 2.5 1 1 1 1.7 1-.2 1 .8 1 .2 1 .1 1 0 1-.6 1-.4 1-.4 1-.5 1-.4 1 0 1-.1 1 .6 1 1 1 .6 1 1.1 1 1.5 1 1.1 1 .8 1 .5 1 .4 1 .3 1 .4 1-.4 1 0 1-.2 1-.5 1 .5 1 .3 1 0 1 .7 1 .1 1-.1 1 .2 1-.2 1 0 1-.2 1 .4 1 0 1 .1 1-.1 1-.3 1-.4 1 .1 1-.2 1 0 1 .4 1-.3 1 .6 1 .1 1 .1 1 .3 1 .2 1 0 1 .2 1 .1 1 .2 1-.6 1-.2 1-.3 1 0 1-.3 1-.2" stroke="#ff0000" stroke-width="1" fill="none" stroke-linejoin="round"/>
<path d="M153.9 241.2l0-6.5 1 .9 1 .7 1-.4 1 .2 1-.5 1-.6 1-.2 1-.5 1-.6 1 .7 1 0 1 .6 1-.4 1 .1 1-.6 1 .2 1 .1 1-.4 1 .2 1 .4 1-.9 1 0 1-.1 1 .4 1-.5 1 .3 1 .1 1 .4 1 .4 1-.3 1-.1 1 .2 1 .1 1-.1 1-.3 1 .8 1-.2 1 .1 1 .2 1 .5 1-.1 1-.6 1 0 1 .1 1 0 1 .1 1-.3 1 .1 1 .2 1 .4 1 .1 1-.3 1 .7 1 .3 1-.2 1 .4 1 0 1-.7 1 .1 1-.2 1 .1 1-.2 1-.4 1 .2 1-.5 1-.3 1 1 1 0 1 .2 1 .2 1-.3 1 .3 1-.5 1 .2 1-.6 1 0 1-.3 1 .3 1-.6 1-.3 1 .6 1-.9 1-.1 1 .3 1-.3 1 0 1 .1 1-.1 1-.9 1-.7 1-.7 1-.9 1-.3 1-1.8 1-.8 1-.8 1-.5 1-1 1-.8 1-.7 1-.6 1-.6 1-.9 1-.7 1-1.6 1-2.9 1-4.5 1-7.5 1-9.5 1-12.6 1-15.2 1-17 1-17.5 1-16.7 1-12.9 1-7.7 1-2.6 1 5.2 1 12.3 1 16.5 1 18.4 1 17.8 1 16.6 1 14.2 1 11.4 1 9.2 1 6.6 1 4.9 1 2.7 1 2.3 1 1.3 1 .7 1 .2 1-.9 1-.4 1-.8 1-1.6 1-1.8 1-1.2 1-1.5 1-1.2 1-.7 1-.5 1 .2 1 1.4 1 2 1 2.3 1 2.2 1 1.5 1 1.8 1 1.2 1 .7 1 .2 1 .1 1 .3 1-.3 1 .1 1 .1 1 .8 1 0 1 .5 1 1 1-.2 1 .6 1 .6 1-.7 1 .4 1-.5 1-.6 1 .1 1-.3 1-.4 1 .7 1-.3 1-.5 1-.3 1 .3 1 0 1 1.1 1-.2 1 0 1 .1 1-.4 1 .4 1 .1 1 .5 1 .6 1 .1 1-.1 1-.2 1 .2 1-.1 1 .2 1 .2 1-.4 0 1.5" stroke="none" stroke-width="1" fill="#fff"/>
<path d="M153.9 234.7l1 .9 1 .7 1-.4 1 .2 1-.5 1-.6 1-.2 1-.5 1-.6 1 .7 1 0 1 .6 1-.4 1 .1 1-.6 1 .2 1 .1 1-.4 1 .2 1 .4 1-.9 1 0 1-.1 1 .4 1-.5 1 .3 1 .1 1 .4 1 .4 1-.3 1-.1 1 .2 1 .1 1-.1 1-.3 1 .8 1-.2 1 .1 1 .2 1 .5 1-.1 1-.6 1 0 1 .1 1 0 1 .1 1-.3 1 .1 1 .2 1 .4 1 .1 1-.3 1 .7 1 .3 1-.2 1 .4 1 0 1-.7 1 .1 1-.2 1 .1 1-.2 1-.4 1 .2 1-.5 1-.3 1 1 1 0 1 .2 1 .2 1-.3 1 .3 1-.5 1 .2 1-.6 1 0 1-.3 1 .3 1-.6 1-.3 1 .6 1-.9 1-.1 1 .3 1-.3 1 0 1 .1 1-.1 1-.9 1-.7 1-.7 1-.9 1-.3 1-1.8 1-.8 1-.8 1-.5 1-1 1-.8 1-.7 1-.6 1-.6 1-.9 1-.7 1-1.6 1-2.9 1-4.5 1-7.5 1-9.5 1-12.6 1-15.2 1-17 1-17.5 1-16.7 1-12.9 1-7.7 1-2.6 1 5.2 1 12.3 1 16.5 1 18.4 1 17.8 1 16.6 1 14.2 1 11.4 1 9.2 1 6.6 1 4.9 1 2.7 1 2.3 1 1.3 1 .7 1 .2 1-.9 1-.4 1-.8 1-1.6 1-1.8 1-1.2 1-1.5 1-1.2 1-.7 1-.5 1 .2 1 1.4 1 2 1 2.3 1 2.2 1 1.5 1 1.8 1 1.2 1 .7 1 .2 1 .1 1 .3 1-.3 1 .1 1 .1 1 .8 1 0 1 .5 1 1 1-.2 1 .6 1 .6 1-.7 1 .4 1-.5 1-.6 1 .1 1-.3 1-.4 1 .7 1-.3 1-.5 1-.3 1 .3 1 0 1 1.1 1-.2 1 0 1 .1 1-.4 1 .4 1 .1 1 .5 1 .6 1 .1 1-.1 1-.2 1 .2 1-.1 1 .2 1 .2 1-.4" stroke="#ff0000" stroke-width="1" fill="none" stroke-linejoin="round"/>
<path d="M149.7 245.4l0-8.2 1 .8 1-.3 1 0 1-.1 1 .5 1 0 1 .2 1 .1 1 .3 1-.4 1-.1 1-.5 1-.7 1-.2 1 0 1-.7 1-.1 1-.2 1-.2 1 .4 1 .4 1 .4 1-.1 1 .7 1-.1 1 .4 1-.2 1 .4 1 .2 1-.6 1 1 1-.1 1 .2 1 .5 1 0 1 .4 1 .2 1 0 1-.1 1 .7 1 .4 1-.1 1 .5 1 .3 1-.3 1 .2 1 .1 1 0 1-1 1 .2 1-.4 1-.1 1-.7 1-.1 1-.1 1-.3 1 .4 1 .3 1 .5 1 .2 1 .6 1-.1 1-.3 1 .6 1-.3 1 .3 1 .4 1 .5 1 .2 1 .1 1 .4 1-.3 1-.8 1 .1 1-.4 1 .2 1-.4 1 .2 1-.7 1 0 1-.4 1 0 1 .6 1 .7 1-.3 1-.2 1-.3 1 0 1-.4 1-.6 1-.7 1-.7 1 0 1-.9 1-.9 1-.5 1-.7 1-1.3 1-.4 1-1.3 1-.5 1-.4 1-1.6 1-.5 1-1.7 1-3.2 1-5.3 1-7 1-9.9 1-11.7 1-14.6 1-16.1 1-15.9 1-14.7 1-11.9 1-7 1-1.2 1 5.4 1 11.4 1 15.2 1 17.1 1 16.6 1 15 1 13.1 1 9.9 1 7.9 1 5.4 1 3.8 1 3.3 1 1 1 1.2 1 .3 1 0 1-.6 1-.4 1-1.4 1-.4 1-1.1 1-1.4 1-1 1-1 1-.4 1-.3 1 1 1 1.7 1 2.1 1 2.5 1 2.1 1 1.6 1 1.5 1 1.6 1 .4 1 .9 1-.2 1 .3 1 0 1 .2 1 0 1-.7 1 .1 1 .4 1 .3 1 .3 1-.4 1 .3 1 .4 1-.3 1-.6 1 .1 1 .3 1-.3 1 .4 1-.1 1 .1 1 .4 1 .2 1 .3 1-.6 1 .6 1-.4 1 .2 1 0 1 0 1 0 1-.4 1 0 1-.3 1 .2 1 .3 1 .1 1-.1 1 .4 1-.4 1-.7 1 .2 0 1.7" stroke="none" stroke-width="1" fill="#fff"/>
<path d="M149.7 237.2l1 .8 1-.3 1 0 1-.1 1 .5 1 0 1 .2 1 .1 1 .3 1-.4 1-.1 1-.5 1-.7 1-.2 1 0 1-.7 1-.1 1-.2 1-.2 1 .4 1 .4 1 .4 1-.1 1 .7 1-.1 1 .4 1-.2 1 .4 1 .2 1-.6 1 1 1-.1 1 .2 1 .5 1 0 1 .4 1 .2 1 0 1-.1 1 .7 1 .4 1-.1 1 .5 1 .3 1-.3 1 .2 1 .1 1 0 1-1 1 .2 1-.4 1-.1 1-.7 1-.1 1-.1 1-.3 1 .4 1 .3 1 .5 1 .2 1 .6 1-.1 1-.3 1 .6 1-.3 1 .3 1 .4 1 .5 1 .2 1 .1 1 .4 1-.3 1-.8 1 .1 1-.4 1 .2 1-.4 1 .2 1-.7 1 0 1-.4 1 0 1 .6 1 .7 1-.3 1-.2 1-.3 1 0 1-.4 1-.6 1-.7 1-.7 1 0 1-.9 1-.9 1-.5 1-.7 1-1.3 1-.4 1-1.3 1-.5 1-.4 1-1.6 1-.5 1-1.7 1-3.2 1-5.3 1-7 1-9.9 1-11.7 1-14.6 1-16.1 1-15.9 1-14.7 1-11.9 1-7 1-1.2 1 5.4 1 11.4 1 15.2 1 17.1 1 16.6 1 15 1 13.1 1 9.9 1 7.9 1 5.4 1 3.8 1 3.3 1 1 1 1.2 1 .3 1 0 1-.6 1-.4 1-1.4 1-.4 1-1.1 1-1.4 1-1 1-1 1-.4 1-.3 1 1 1 1.7 1 2.1 1 2.5 1 2.1 1 1.6 1 1.5 1 1.6 1 .4 1 .9 1-.2 1 .3 1 0 1 .2 1 0 1-.7 1 .1 1 .4 1 .3 1 .3 1-.4 1 .3 1 .4 1-.3 1-.6 1 .1 1 .3 1-.3 1 .4 1-.1 1 .1 1 .4 1 .2 1 .3 1-.6 1 .6 1-.4 1 .2 1 0 1 0 1 0 1-.4 1 0 1-.3 1 .2 1 .3 1 .1 1-.1 1 .4 1-.4 1-.7 1 .2" stroke="#ff0000" stroke-width="1" fill="none" stroke-linejoin="round"/>
<path d="M145.6 249.5l0-8.4 1 .4 1 .6 1-.3 1-.4 1-.1 1 .1 1 0 1 .3 1-.3 1-.2 1-.3 1-.1 1 0 1 .1 1 .1 1 0 1 .1 1-.2 1 .1 1-.6 1-.1 1-.1 1-.3 1 .1 1 .4 1 .4 1-.4 1 .6 1 .1 1 .2 1 .4 1 .6 1-.1 1 .4 1 .5 1-.4 1 .5 1-.1 1 .2 1 .3 1 .1 1 .5 1 0 1 0 1-.4 1-.2 1-.5 1 .2 1-.1 1 .6 1-.4 1 .3 1-.1 1 0 1 .2 1-.1 1-.3 1 .4 1 .4 1-.2 1-.2 1-.3 1 .6 1-.8 1 .3 1 .7 1 0 1 .1 1-.3 1 .3 1-.2 1 0 1-.7 1 .4 1-.5 1-.6 1 .3 1-.3 1 0 1-.4 1 .2 1 .3 1-.4 1 .3 1 .7 1 0 1-.2 1 .3 1-.4 1-.1 1-.8 1-.5 1-.2 1-1 1 .2 1-.7 1-.7 1-.5 1-.5 1-.9 1-1 1-.7 1-.3 1-2.3 1-1.4 1-3.2 1-5.3 1-6.6 1-8.5 1-11.1 1-12.8 1-14.1 1-13.4 1-13.5 1-9.5 1-5.4 1 .1 1 6.1 1 11.2 1 14.3 1 15.2 1 14.6 1 13.3 1 11.5 1 8.3 1 7.1 1 4.9 1 2.7 1 2.1 1 1.1 1 .7 1 .3 1 .3 1 .2 1-.2 1-.5 1-1.4 1-1.5 1-.9 1-.7 1-.8 1-.6 1 0 1 1.2 1 1.7 1 1 1 1.5 1 1.4 1 1.6 1-.1 1 1.2 1 .3 1 .8 1 .1 1 .2 1 .5 1-.3 1 .4 1 .1 1 0 1 .3 1-.5 1 .2 1 .2 1-.3 1 .2 1 .6 1-.3 1 .1 1-1 1 .4 1-.4 1 .3 1-.1 1 0 1 .3 1 .2 1-.2 1 .1 1-.2 1 .3 1 .2 1 .5 1 .2 1 .2 1 .1 1-.1 1-.1 1-.1 1 .3 1 .3 1 0 1 .2 1 0 1-1 0 1.2" stroke="none" stroke-width="1" fill="#fff"/>
<path d="M145.6 241.1l1 .4 1 .6 1-.3 1-.4 1-.1 1 .1 1 0 1 .3 1-.3 1-.2 1-.3 1-.1 1 0 1 .1 1 .1 1 0 1 .1 1-.2 1 .1 1-.6 1-.1 1-.1 1-.3 1 .1 1 .4 1 .4 1-.4 1 .6 1 .1 1 .2 1 .4 1 .6 1-.1 1 .4 1 .5 1-.4 1 .5 1-.1 1 .2 1 .3 1 .1 1 .5 1 0 1 0 1-.4 1-.2 1-.5 1 .2 1-.1 1 .6 1-.4 1 .3 1-.1 1 0 1 .2 1-.1 1-.3 1 .4 1 .4 1-.2 1-.2 1-.3 1 .6 1-.8 1 .3 1 .7 1 0 1 .1 1-.3 1 .3 1-.2 1 0 1-.7 1 .4 1-.5 1-.6 1 .3 1-.3 1 0 1-.4 1 .2 1 .3 1-.4 1 .3 1 .7 1 0 1-.2 1 .3 1-.4 1-.1 1-.8 1-.5 1-.2 1-1 1 .2 1-.7 1-.7 1-.5 1-.5 1-.9 1-1 1-.7 1-.3 1-2.3 1-1.4 1-3.2 1-5.3 1-6.6 1-8.5 1-11.1 1-12.8 1-14.1 1-13.4 1-13.5 1-9.5 1-5.4 1 .1 1 6.1 1 11.2 1 14.3 1 15.2 1 14.6 1 13.3 1 11.5 1 8.3 1 7.1 1 4.9 1 2.7 1 2.1 1 1.1 1 .7 1 .3 1 .3 1 .2 1-.2 1-.5 1-1.4 1-1.5 1-.9 1-.7 1-.8 1-.6 1 0 1 1.2 1 1.7 1 1 1 1.5 1 1.4 1 1.6 1-.1 1 1.2 1 .3 1 .8 1 .1 1 .2 1 .5 1-.3 1 .4 1 .1 1 0 1 .3 1-.5 1 .2 1 .2 1-.3 1 .2 1 .6 1-.3 1 .1 1-1 1 .4 1-.4 1 .3 1-.1 1 0 1 .3 1 .2 1-.2 1 .1 1-.2 1 .3 1 .2 1 .5 1 .2 1 .2 1 .1 1-.1 1-.1 1-.1 1 .3 1 .3 1 0 1 .2 1 0 1-1" stroke="#ff0000" stroke-width="1" fill="none" stroke-linejoin="round"/>
<path d="M141.4 253.7l0-8.2 1 1.1 1 1.2 1-.4 1-.1 1 .8 1 .6 1 .3 1 0 1 .7 1-.1 1 0 1-.2 1-.7 1-.2 1 0 1-.4 1 .1 1 .2 1-.6 1 .3 1-.1 1-.2 1-.3 1-.6 1 .2 1 .3 1-.2 1 .1 1 .2 1-.7 1 .9 1 0 1 1 1-.3 1 .3 1 .4 1-.2 1 .1 1-.7 1 .2 1 .3 1 .2 1-.1 1 .1 1-.1 1-.1 1-.2 1-.4 1 .3 1 .1 1-.1 1 .6 1 .1 1 0 1-.3 1 .6 1-.2 1 .5 1-.4 1 .5 1-.1 1-.5 1-.1 1-.3 1 .2 1 .2 1 .6 1-.5 1 .3 1 .3 1 .1 1-.4 1 .2 1 .2 1-.4 1 .2 1-.1 1 .1 1 .2 1 .2 1-.5 1-.1 1-.5 1-.1 1-.7 1 .4 1-.1 1-.6 1 .2 1-.7 1-.3 1-.3 1-1 1-.5 1-.4 1-1.1 1-.7 1-.4 1-.6 1-.1 1-.1 1-.1 1-.6 1-.5 1-2.3 1-3.1 1-4.6 1-6.4 1-8.3 1-10.7 1-12 1-12.8 1-13.1 1-11.4 1-9.2 1-3.7 1 .5 1 6.5 1 10.4 1 12.8 1 13.5 1 13.7 1 11.1 1 9.4 1 7.8 1 5.6 1 4.2 1 3 1 1.5 1 1.8 1 .7 1 .5 1 .3 1 .2 1-.9 1-.6 1-.9 1-.4 1-.7 1-1.3 1-.2 1-.6 1 .4 1 1 1 1.1 1 1.3 1 1.3 1 1 1 1.2 1 .4 1 .5 1 1 1 .3 1 .3 1 0 1 .2 1-.3 1 .5 1 .1 1-.1 1-.7 1 .6 1 .3 1-.5 1 .2 1-.5 1-.1 1-.1 1 .4 1-.5 1 .1 1-.1 1 .1 1-.1 1 .1 1-.1 1 .5 1 .2 1 .1 1 0 1-.2 1 .3 1 .1 1 .2 1 .4 1 .6 1 .1 1-.2 1-.4 1-.1 1 .2 1 .6 1 .2 1-.4 1 .4 0 .6" stroke="none" stroke-width="1" fill="#fff"/>
<path d="M141.4 245.5l1 1.1 1 1.2 1-.4 1-.1 1 .8 1 .6 1 .3 1 0 1 .7 1-.1 1 0 1-.2 1-.7 1-.2 1 0 1-.4 1 .1 1 .2 1-.6 1 .3 1-.1 1-.2 1-.3 1-.6 1 .2 1 .3 1-.2 1 .1 1 .2 1-.7 1 .9 1 0 1 1 1-.3 1 .3 1 .4 1-.2 1 .1 1-.7 1 .2 1 .3 1 .2 1-.1 1 .1 1-.1 1-.1 1-.2 1-.4 1 .3 1 .1 1-.1 1 .6 1 .1 1 0 1-.3 1 .6 1-.2 1 .5 1-.4 1 .5 1-.1 1-.5 1-.1 1-.3 1 .2 1 .2 1 .6 1-.5 1 .3 1 .3 1 .1 1-.4 1 .2 1 .2 1-.4 1 .2 1-.1 1 .1 1 .2 1 .2 1-.5 1-.1 1-.5 1-.1 1-.7 1 .4 1-.1 1-.6 1 .2 1-.7 1-.3 1-.3 1-1 1-.5 1-.4 1-1.1 1-.7 1-.4 1-.6 1-.1 1-.1 1-.1 1-.6 1-.5 1-2.3 1-3.1 1-4.6 1-6.4 1-8.3 1-10.7 1-12 1-12.8 1-13.1 1-11.4 1-9.2 1-3.7 1 .5 1 6.5 1 10.4 1 12.8 1 13.5 1 13.7 1 11.1 1 9.4 1 7.8 1 5.6 1 4.2 1 3 1 1.5 1 1.8 1 .7 1 .5 1 .3 1 .2 1-.9 1-.6 1-.9 1-.4 1-.7 1-1.3 1-.2 1-.6 1 .4 1 1 1 1.1 1 1.3 1 1.3 1 1 1 1.2 1 .4 1 .5 1 1 1 .3 1 .3 1 0 1 .2 1-.3 1 .5 1 .1 1-.1 1-.7 1 .6 1 .3 1-.5 1 .2 1-.5 1-.1 1-.1 1 .4 1-.5 1 .1 1-.1 1 .1 1-.1 1 .1 1-.1 1 .5 1 .2 1 .1 1 0 1-.2 1 .3 1 .1 1 .2 1 .4 1 .6 1 .1 1-.2 1-.4 1-.1 1 .2 1 .6 1 .2 1-.4 1 .4" stroke="#ff0000" stroke-width="1" fill="none" stroke-linejoin="round"/>
<path d="M137.2 257.9l0-7.9 1 .5 1 1 1 .2 1-.2 1-.5 1 .2 1 .1 1 .3 1 1 1 .4 1 0 1 .3 1 .3 1 .5 1-.1 1-.2 1 .1 1-.3 1-.3 1 0 1-.2 1 0 1 0 1-.3 1 .4 1-.2 1-.1 1-.2 1-.2 1 .1 1-.5 1-.3 1 .2 1-.2 1 .2 1 .5 1 0 1-.1 1 0 1-.4 1 .6 1-.1 1 .3 1 .1 1 .2 1 .8 1-.2 1 .3 1-.1 1-.1 1-.5 1 .6 1 .1 1 .1 1-.3 1 .7 1-.3 1 0 1 .3 1-.7 1 .5 1-.2 1 .5 1-.3 1 .2 1 .1 1 0 1-.3 1 0 1-.6 1-.1 1 0 1-.5 1 .4 1-.1 1-.1 1 .6 1-.6 1 .1 1-.5 1 .3 1 .1 1 .1 1-.8 1 .2 1 0 1 0 1-.1 1-.5 1-.2 1 0 1-.6 1-.3 1-.8 1-.6 1-1 1-.1 1-.5 1-.4 1-.6 1-.2 1-.5 1-.6 1-1.7 1-2.2 1-3 1-4.7 1-6.5 1-8.6 1-9.7 1-11.9 1-13 1-12.9 1-10.6 1-8.5 1-3.3 1 1.2 1 6.9 1 10.8 1 13.3 1 13.7 1 12.4 1 11.5 1 9.3 1 7.2 1 5.2 1 4 1 2.8 1 1.8 1 1.1 1 .7 1 .5 1 .1 1-.3 1-.5 1-.4 1-.7 1-.9 1-1.1 1-.6 1-.7 1-.2 1-.2 1 .6 1 1.2 1 1.6 1 2 1 1.1 1 1.5 1 .4 1 .4 1 .6 1 .1 1-.5 1 .3 1 .4 1-.2 1-.1 1 0 1 .2 1 .3 1 .4 1 .2 1 .5 1 .4 1-.1 1-.3 1 .4 1-.5 1 .4 1-.2 1-.5 1 .8 1-.6 1 .1 1 .1 1-.5 1-.2 1 .5 1 0 1 .3 1-.1 1-.1 1 .5 1-.3 1 .1 1-.1 1-.4 1 .1 1-.1 1 .2 1-.4 1 0 1-.2 1 0 0 1.5" stroke="none" stroke-width="1" fill="#fff"/>
<path d="M137.2 250l1 .5 1 1 1 .2 1-.2 1-.5 1 .2 1 .1 1 .3 1 1 1 .4 1 0 1 .3 1 .3 1 .5 1-.1 1-.2 1 .1 1-.3 1-.3 1 0 1-.2 1 0 1 0 1-.3 1 .4 1-.2 1-.1 1-.2 1-.2 1 .1 1-.5 1-.3 1 .2 1-.2 1 .2 1 .5 1 0 1-.1 1 0 1-.4 1 .6 1-.1 1 .3 1 .1 1 .2 1 .8 1-.2 1 .3 1-.1 1-.1 1-.5 1 .6 1 .1 1 .1 1-.3 1 .7 1-.3 1 0 1 .3 1-.7 1 .5 1-.2 1 .5 1-.3 1 .2 1 .1 1 0 1-.3 1 0 1-.6 1-.1 1 0 1-.5 1 .4 1-.1 1-.1 1 .6 1-.6 1 .1 1-.5 1 .3 1 .1 1 .1 1-.8 1 .2 1 0 1 0 1-.1 1-.5 1-.2 1 0 1-.6 1-.3 1-.8 1-.6 1-1 1-.1 1-.5 1-.4 1-.6 1-.2 1-.5 1-.6 1-1.7 1-2.2 1-3 1-4.7 1-6.5 1-8.6 1-9.7 1-11.9 1-13 1-12.9 1-10.6 1-8.5 1-3.3 1 1.2 1 6.9 1 10.8 1 13.3 1 13.7 1 12.4 1 11.5 1 9.3 1 7.2 1 5.2 1 4 1 2.8 1 1.8 1 1.1 1 .7 1 .5 1 .1 1-.3 1-.5 1-.4 1-.7 1-.9 1-1.1 1-.6 1-.7 1-.2 1-.2 1 .6 1 1.2 1 1.6 1 2 1 1.1 1 1.5 1 .4 1 .4 1 .6 1 .1 1-.5 1 .3 1 .4 1-.2 1-.1 1 0 1 .2 1 .3 1 .4 1 .2 1 .5 1 .4 1-.1 1-.3 1 .4 1-.5 1 .4 1-.2 1-.5 1 .8 1-.6 1 .1 1 .1 1-.5 1-.2 1 .5 1 0 1 .3 1-.1 1-.1 1 .5 1-.3 1 .1 1-.1 1-.4 1 .1 1-.1 1 .2 1-.4 1 0 1-.2 1 0" stroke="#ff0000" stroke-width="1" fill="none" stroke-linejoin="round"/>
<path d="M133.1 262l0-4.9 1 .4 1 1 1 0 1-.6 1 0 1-.7 1-.2 1 .1 1-.3 1 .2 1 .6 1-.2 1 .4 1-.2 1 .8 1-.5 1 .6 1-.4 1-.1 1-.3 1 .3 1 0 1-.3 1 0 1-.1 1-.1 1 0 1 .7 1-.2 1 .5 1-.4 1 .1 1 0 1-.3 1 .3 1 0 1-.2 1 .2 1 .1 1 0 1-.1 1 .1 1 .1 1-.4 1 .2 1-.8 1 .3 1-.3 1-.1 1-.3 1 .4 1-.5 1 .3 1 .2 1 .2 1-.1 1-.1 1 .1 1-.2 1 .4 1-.2 1 .4 1 .4 1-.4 1 .2 1-.2 1 .1 1 .6 1-.1 1 .1 1 .3 1 .3 1 0 1 0 1-.2 1-.1 1 0 1 .3 1-.8 1 .1 1 .1 1 0 1-.4 1-.3 1-.3 1 .2 1-.7 1-.1 1 .1 1-.2 1 .2 1-.9 1-.9 1-.2 1 0 1-1.5 1-.3 1-.4 1-.8 1-.6 1-.6 1-.9 1-.7 1-1.7 1-2.1 1-3.5 1-3.8 1-6.5 1-8.8 1-9.5 1-12.1 1-12.1 1-12.1 1-10 1-6.8 1-3 1 1.8 1 7.3 1 10.3 1 12.5 1 13.3 1 12.1 1 10.6 1 8.9 1 7.1 1 4.6 1 3.6 1 2.2 1 1.5 1 .5 1 .4 1 .8 1-.8 1 0 1-.4 1-.7 1-.3 1-.9 1-.7 1-1.2 1 0 1 0 1 .3 1 1 1 1.3 1 1.4 1 1 1 1.4 1 .8 1 1.2 1-.1 1 .7 1 .2 1 0 1-.3 1 .4 1 .2 1 .5 1 .1 1-.2 1-.7 1-.2 1 .8 1-.4 1 .4 1-.2 1 .3 1 .1 1 0 1 .1 1-.2 1-.4 1-.1 1 .3 1 0 1-.3 1 .3 1-.4 1 .4 1-.1 1 .2 1 .6 1-.6 1 .3 1 .1 1-.2 1 .3 1 0 1 .4 1-.1 1 0 1 0 1 0 1-.7 1 .8 0 1.5" stroke="none" stroke-width="1" fill="#fff"/>
<path d="M133.1 257.1l1 .4 1 1 1 0 1-.6 1 0 1-.7 1-.2 1 .1 1-.3 1 .2 1 .6 1-.2 1 .4 1-.2 1 .8 1-.5 1 .6 1-.4 1-.1 1-.3 1 .3 1 0 1-.3 1 0 1-.1 1-.1 1 0 1 .7 1-.2 1 .5 1-.4 1 .1 1 0 1-.3 1 .3 1 0 1-.2 1 .2 1 .1 1 0 1-.1 1 .1 1 .1 1-.4 1 .2 1-.8 1 .3 1-.3 1-.1 1-.3 1 .4 1-.5 1 .3 1 .2 1 .2 1-.1 1-.1 1 .1 1-.2 1 .4 1-.2 1 .4 1 .4 1-.4 1 .2 1-.2 1 .1 1 .6 1-.1 1 .1 1 .3 1 .3 1 0 1 0 1-.2 1-.1 1 0 1 .3 1-.8 1 .1 1 .1 1 0 1-.4 1-.3 1-.3 1 .2 1-.7 1-.1 1 .1 1-.2 1 .2 1-.9 1-.9 1-.2 1 0 1-1.5 1-.3 1-.4 1-.8 1-.6 1-.6 1-.9 1-.7 1-1.7 1-2.1 1-3.5 1-3.8 1-6.5 1-8.8 1-9.5 1-12.1 1-12.1 1-12.1 1-10 1-6.8 1-3 1 1.8 1 7.3 1 10.3 1 12.5 1 13.3 1 12.1 1 10.6 1 8.9 1 7.1 1 4.6 1 3.6 1 2.2 1 1.5 1 .5 1 .4 1 .8 1-.8 1 0 1-.4 1-.7 1-.3 1-.9 1-.7 1-1.2 1 0 1 0 1 .3 1 1 1 1.3 1 1.4 1 1 1 1.4 1 .8 1 1.2 1-.1 1 .7 1 .2 1 0 1-.3 1 .4 1 .2 1 .5 1 .1 1-.2 1-.7 1-.2 1 .8 1-.4 1 .4 1-.2 1 .3 1 .1 1 0 1 .1 1-.2 1-.4 1-.1 1 .3 1 0 1-.3 1 .3 1-.4 1 .4 1-.1 1 .2 1 .6 1-.6 1 .3 1 .1 1-.2 1 .3 1 0 1 .4 1-.1 1 0 1 0 1 0 1-.7 1 .8" stroke="#ff0000" stroke-width="1" fill="none" stroke-linejoin="round"/>
<path d="M128.9 266.2l0-5.5 1 .9 1 1.4 1-.5 1 .1 1-.2 1 0 1 .1 1 0 1 .1 1-.4 1 .4 1-.4 1 .4 1-.1 1 .2 1 0 1 .2 1-.2 1 .4 1 0 1-.9 1 .6 1-.1 1-.4 1 .3 1-.1 1-.3 1-.1 1 .3 1 .2 1-.1 1 .2 1-.2 1-.3 1 .3 1-.8 1 .4 1-.3 1-.2 1 .5 1-.1 1 .2 1 .1 1 .4 1-.7 1 .1 1-.3 1 .2 1 .1 1 .1 1-.6 1 .2 1-.1 1 .4 1 .1 1-.1 1 0 1 .1 1-.3 1 .2 1-.1 1 .1 1 .1 1-.1 1 .5 1 0 1-.1 1-.2 1 .2 1-.5 1 .3 1-.3 1 .1 1-.3 1 .8 1-.6 1 .1 1-.1 1 0 1 .1 1 .2 1-.5 1 .3 1-.9 1 .1 1-.6 1-.3 1 .1 1 .2 1-.1 1 0 1-.4 1-.2 1-.5 1-.3 1-.9 1-.7 1-.4 1-.5 1-1 1-.4 1-.7 1-.8 1 .1 1-2.2 1-2.7 1-3.7 1-5.4 1-7.6 1-8.4 1-9.8 1-10.5 1-10.6 1-8.2 1-6.1 1-2.1 1 2.6 1 6.7 1 8.8 1 11.1 1 10.8 1 9.8 1 8.7 1 7.1 1 5.6 1 4.1 1 3.3 1 1.8 1 1.5 1 1 1 .4 1 .2 1-.4 1 0 1-.4 1-.1 1-.7 1-.7 1-1 1-.7 1-.5 1-.2 1 .3 1 .3 1 1.3 1 1.4 1 1.1 1 .8 1 1 1 .8 1 .5 1 .3 1 .3 1 .7 1-.1 1-.2 1-.4 1 .4 1-.4 1 .1 1 .1 1 .4 1-.3 1 .5 1 0 1 .3 1-.1 1-.2 1-.2 1 .5 1-.2 1-.1 1 .2 1 0 1 .2 1-.5 1 .5 1-.1 1 .6 1-.3 1 .1 1 0 1-.3 1 .5 1 .4 1 .2 1-.3 1-.2 1 .4 1 .2 1-.1 1 .2 1 0 1 0 1 0 0 .2" stroke="none" stroke-width="1" fill="#fff"/>
<path d="M128.9 260.7l1 .9 1 1.4 1-.5 1 .1 1-.2 1 0 1 .1 1 0 1 .1 1-.4 1 .4 1-.4 1 .4 1-.1 1 .2 1 0 1 .2 1-.2 1 .4 1 0 1-.9 1 .6 1-.1 1-.4 1 .3 1-.1 1-.3 1-.1 1 .3 1 .2 1-.1 1 .2 1-.2 1-.3 1 .3 1-.8 1 .4 1-.3 1-.2 1 .5 1-.1 1 .2 1 .1 1 .4 1-.7 1 .1 1-.3 1 .2 1 .1 1 .1 1-.6 1 .2 1-.1 1 .4 1 .1 1-.1 1 0 1 .1 1-.3 1 .2 1-.1 1 .1 1 .1 1-.1 1 .5 1 0 1-.1 1-.2 1 .2 1-.5 1 .3 1-.3 1 .1 1-.3 1 .8 1-.6 1 .1 1-.1 1 0 1 .1 1 .2 1-.5 1 .3 1-.9 1 .1 1-.6 1-.3 1 .1 1 .2 1-.1 1 0 1-.4 1-.2 1-.5 1-.3 1-.9 1-.7 1-.4 1-.5 1-1 1-.4 1-.7 1-.8 1 .1 1-2.2 1-2.7 1-3.7 1-5.4 1-7.6 1-8.4 1-9.8 1-10.5 1-10.6 1-8.2 1-6.1 1-2.1 1 2.6 1 6.7 1 8.8 1 11.1 1 10.8 1 9.8 1 8.7 1 7.1 1 5.6 1 4.1 1 3.3 1 1.8 1 1.5 1 1 1 .4 1 .2 1-.4 1 0 1-.4 1-.1 1-.7 1-.7 1-1 1-.7 1-.5 1-.2 1 .3 1 .3 1 1.3 1 1.4 1 1.1 1 .8 1 1 1 .8 1 .5 1 .3 1 .3 1 .7 1-.1 1-.2 1-.4 1 .4 1-.4 1 .1 1 .1 1 .4 1-.3 1 .5 1 0 1 .3 1-.1 1-.2 1-.2 1 .5 1-.2 1-.1 1 .2 1 0 1 .2 1-.5 1 .5 1-.1 1 .6 1-.3 1 .1 1 0 1-.3 1 .5 1 .4 1 .2 1-.3 1-.2 1 .4 1 .2 1-.1 1 .2 1 0 1 0 1 0" stroke="#ff0000" stroke-width="1" fill="none" stroke-linejoin="round"/>
<path d="M124.8 270.3l0-5.1 1 1 1 .3 1-.1 1 0 1 0 1 0 1 0 1-.1 1 .4 1-.1 1-.4 1 .3 1-.2 1 .4 1 0 1 .2 1-.7 1-.1 1-.4 1-.7 1 0 1-.1 1 .1 1 .2 1-.1 1 0 1-.3 1 .3 1 .2 1-.3 1 .1 1 .3 1 .1 1-.2 1 .1 1 .3 1-.2 1 1 1 .2 1 0 1 .2 1-.3 1 .5 1-.2 1 .1 1 .2 1 0 1-.1 1 .6 1-.1 1-.1 1 .3 1-.9 1 .1 1 0 1-.3 1-.2 1 .4 1-.8 1 .4 1-.1 1 0 1-.5 1 .2 1 .2 1 0 1 .1 1 .7 1-.1 1 0 1 .3 1 .1 1-.1 1 .2 1-.1 1 0 1-.2 1 .5 1 .4 1-.1 1 .9 1-.2 1 .3 1 .2 1-.2 1 0 1 0 1 .3 1-1.3 1-.1 1-1.1 1-.5 1-.6 1-.3 1-.5 1-.8 1 .2 1-1.3 1-.5 1-.7 1-.8 1-.9 1-1 1-1.2 1-2 1-2.5 1-3.7 1-5.6 1-6.5 1-8.5 1-9 1-9.3 1-9.1 1-7.2 1-4.5 1-1.9 1 2.5 1 6.5 1 8.7 1 9.7 1 10.2 1 9.2 1 7.8 1 6.2 1 5.3 1 3.5 1 2.3 1 2 1 1.1 1 .9 1 .7 1-.1 1 .1 1-.2 1-.1 1-.5 1-.5 1-1.1 1-.3 1-.5 1-.4 1 .2 1-.1 1-.1 1 .8 1 .8 1 .8 1 1 1 .5 1 .2 1 .6 1 .8 1 .6 1-.6 1 .6 1 .4 1-.1 1 .3 1-.1 1 0 1 0 1 .3 1 .5 1-.2 1 .5 1 .2 1 .3 1 .2 1-.1 1-.5 1 .2 1 .1 1 .6 1 .3 1 0 1 0 1-.4 1 .4 1-.2 1 0 1-.3 1-.2 1 .1 1-.1 1-.2 1 .3 1-.4 1 0 1-.4 1-.1 1-.1 1-.7 1 .3 1 .3 1 .3 0 1.6" stroke="none" stroke-width="1" fill="#fff"/>
<path d="M124.8 265.2l1 1 1 .3 1-.1 1 0 1 0 1 0 1 0 1-.1 1 .4 1-.1 1-.4 1 .3 1-.2 1 .4 1 0 1 .2 1-.7 1-.1 1-.4 1-.7 1 0 1-.1 1 .1 1 .2 1-.1 1 0 1-.3 1 .3 1 .2 1-.3 1 .1 1 .3 1 .1 1-.2 1 .1 1 .3 1-.2 1 1 1 .2 1 0 1 .2 1-.3 1 .5 1-.2 1 .1 1 .2 1 0 1-.1 1 .6 1-.1 1-.1 1 .3 1-.9 1 .1 1 0 1-.3 1-.2 1 .4 1-.8 1 .4 1-.1 1 0 1-.5 1 .2 1 .2 1 0 1 .1 1 .7 1-.1 1 0 1 .3 1 .1 1-.1 1 .2 1-.1 1 0 1-.2 1 .5 1 .4 1-.1 1 .9 1-.2 1 .3 1 .2 1-.2 1 0 1 0 1 .3 1-1.3 1-.1 1-1.1 1-.5 1-.6 1-.3 1-.5 1-.8 1 .2 1-1.3 1-.5 1-.7 1-.8 1-.9 1-1 1-1.2 1-2 1-2.5 1-3.7 1-5.6 1-6.5 1-8.5 1-9 1-9.3 1-9.1 1-7.2 1-4.5 1-1.9 1 2.5 1 6.5 1 8.7 1 9.7 1 10.2 1 9.2 1 7.8 1 6.2 1 5.3 1 3.5 1 2.3 1 2 1 1.1 1 .9 1 .7 1-.1 1 .1 1-.2 1-.1 1-.5 1-.5 1-1.1 1-.3 1-.5 1-.4 1 .2 1-.1 1-.1 1 .8 1 .8 1 .8 1 1 1 .5 1 .2 1 .6 1 .8 1 .6 1-.6 1 .6 1 .4 1-.1 1 .3 1-.1 1 0 1 0 1 .3 1 .5 1-.2 1 .5 1 .2 1 .3 1 .2 1-.1 1-.5 1 .2 1 .1 1 .6 1 .3 1 0 1 0 1-.4 1 .4 1-.2 1 0 1-.3 1-.2 1 .1 1-.1 1-.2 1 .3 1-.4 1 0 1-.4 1-.1 1-.1 1-.7 1 .3 1 .3 1 .3" stroke="#ff0000" stroke-width="1" fill="none" stroke-linejoin="round"/>
<path d="M120.6 274.5l0-7.9 1 .6 1 .5 1 .5 1 .2 1-.5 1 .2 1-.2 1 .2 1 .1 1 .1 1 .3 1 0 1 .5 1-.2 1-.1 1-.2 1 .3 1-.8 1 .1 1 .5 1-.4 1-.1 1-.1 1 .5 1-.2 1 .5 1 .3 1 .2 1 .1 1 .4 1 0 1 .1 1 .3 1 .2 1 .2 1 .4 1 .1 1 .1 1 .6 1-.1 1-.2 1-.1 1 0 1-.2 1 .1 1-.2 1-.3 1 .2 1 .2 1-.6 1 .5 1 .2 1-.3 1 .2 1 0 1-.4 1 0 1 .5 1-1.1 1 .6 1 .2 1-.3 1 .1 1 .3 1-.5 1 .6 1 .2 1-.3 1 .4 1-1 1 .6 1 .1 1 .1 1 .3 1 .1 1-.3 1 .5 1-.7 1 .1 1-.1 1 0 1-.2 1-.2 1 0 1 .3 1 .3 1-.3 1 .3 1-.1 1 .2 1-.5 1-.6 1-.2 1-.7 1-.5 1-.3 1-.5 1-.8 1-.2 1-.3 1-.6 1-.5 1-1 1-.8 1-1.9 1-2.8 1-3.2 1-5.5 1-6.3 1-7.9 1-8.1 1-9.4 1-8.1 1-6.5 1-3.9 1-.7 1 2.8 1 6 1 8.3 1 9.4 1 9.2 1 8.3 1 6.7 1 5.3 1 4.7 1 2.9 1 1.6 1 1.5 1 1.3 1 .4 1 .3 1 .1 1 0 1 .5 1 0 1-.3 1-.7 1-.5 1-.5 1-.6 1 0 1-.6 1 .3 1 .5 1 .6 1 1 1 1.1 1 1.5 1 0 1 1.1 1 .6 1 .1 1 .1 1-.3 1-.4 1 .1 1 .4 1-.5 1-.1 1 0 1 .1 1-.5 1 0 1 .2 1 .4 1 .1 1 .6 1 .6 1-.2 1 .6 1 .3 1-.4 1-.1 1 .1 1-.1 1-.6 1 .2 1-.1 1 .5 1-.3 1 .3 1 .5 1-.2 1-.1 1 0 1 0 1 .2 1-.4 1-.1 1-.1 1-.1 1-.3 1 .2 1 .3 1-.4 0 1.3" stroke="none" stroke-width="1" fill="#fff"/>
<path d="M120.6 266.6l1 .6 1 .5 1 .5 1 .2 1-.5 1 .2 1-.2 1 .2 1 .1 1 .1 1 .3 1 0 1 .5 1-.2 1-.1 1-.2 1 .3 1-.8 1 .1 1 .5 1-.4 1-.1 1-.1 1 .5 1-.2 1 .5 1 .3 1 .2 1 .1 1 .4 1 0 1 .1 1 .3 1 .2 1 .2 1 .4 1 .1 1 .1 1 .6 1-.1 1-.2 1-.1 1 0 1-.2 1 .1 1-.2 1-.3 1 .2 1 .2 1-.6 1 .5 1 .2 1-.3 1 .2 1 0 1-.4 1 0 1 .5 1-1.1 1 .6 1 .2 1-.3 1 .1 1 .3 1-.5 1 .6 1 .2 1-.3 1 .4 1-1 1 .6 1 .1 1 .1 1 .3 1 .1 1-.3 1 .5 1-.7 1 .1 1-.1 1 0 1-.2 1-.2 1 0 1 .3 1 .3 1-.3 1 .3 1-.1 1 .2 1-.5 1-.6 1-.2 1-.7 1-.5 1-.3 1-.5 1-.8 1-.2 1-.3 1-.6 1-.5 1-1 1-.8 1-1.9 1-2.8 1-3.2 1-5.5 1-6.3 1-7.9 1-8.1 1-9.4 1-8.1 1-6.5 1-3.9 1-.7 1 2.8 1 6 1 8.3 1 9.4 1 9.2 1 8.3 1 6.7 1 5.3 1 4.7 1 2.9 1 1.6 1 1.5 1 1.3 1 .4 1 .3 1 .1 1 0 1 .5 1 0 1-.3 1-.7 1-.5 1-.5 1-.6 1 0 1-.6 1 .3 1 .5 1 .6 1 1 1 1.1 1 1.5 1 0 1 1.1 1 .6 1 .1 1 .1 1-.3 1-.4 1 .1 1 .4 1-.5 1-.1 1 0 1 .1 1-.5 1 0 1 .2 1 .4 1 .1 1 .6 1 .6 1-.2 1 .6 1 .3 1-.4 1-.1 1 .1 1-.1 1-.6 1 .2 1-.1 1 .5 1-.3 1 .3 1 .5 1-.2 1-.1 1 0 1 0 1 .2 1-.4 1-.1 1-.1 1-.1 1-.3 1 .2 1 .3 1-.4" stroke="#ff0000" stroke-width="1" fill="none" stroke-linejoin="round"/>
<path d="M112.3 282.8l0-6.8 1 .5 1 .3 1 .3 1 0 1-.5 1 .1 1-.6 1 .1 1-.1 1-.4 1 .5 1-.4 1 .3 1-.4 1 .1 1 .5 1 0 1 .2 1 0 1-.1 1 .4 1 .4 1 .1 1-.2 1 .1 1 .7 1 .2 1-.2 1-.1 1-.1 1-.1 1-.8 1 .3 1 .4 1-.4 1 .1 1 .1 1-.1 1 .4 1-.5 1 .6 1 0 1-.2 1 0 1 .5 1-.1 1 .9 1-.3 1 .3 1 .8 1-.9 1 .4 1 .3 1-.3 1 .3 1-.3 1 0 1 .7 1 .1 1 .1 1 .4 1-.1 1 .9 1-.4 1 .1 1-.3 1-.2 1-.4 1-.4 1-.4 1 .1 1 .3 1 0 1-.1 1 0 1 .4 1-.1 1-.5 1 .4 1 .1 1-.1 1 0 1-.3 1 0 1 .3 1 0 1-.1 1 .2 1-.3 1-.1 1-.9 1-.6 1-.3 1-.7 1-.4 1-.2 1-.5 1-.2 1 0 1-.3 1 .6 1-1.2 1-.6 1-1.1 1-1.5 1-3 1-3.3 1-4.8 1-5.3 1-7 1-7.4 1-6.6 1-7.2 1-5 1-2.9 1 .2 1 2.6 1 5.6 1 7 1 8.1 1 7.8 1 6.6 1 5.5 1 5.1 1 3.6 1 2.5 1 2 1 1.1 1 .8 1 .7 1 .1 1 .3 1-.3 1-.4 1-.5 1-.6 1-.2 1-.3 1-.2 1-.2 1-.4 1 .6 1 .2 1 .2 1 .5 1 1 1 .4 1 .7 1 .4 1 .4 1-.2 1 .2 1-.1 1 .5 1-.1 1 0 1 .6 1-.5 1-.3 1-.3 1 .3 1-.2 1 .5 1 .2 1 0 1 0 1 .1 1 .1 1 .4 1-.3 1 .1 1 .3 1-.3 1 0 1 .5 1-.2 1 .2 1 .7 1-.7 1 .5 1-.1 1 .4 1 0 1-.2 1-.1 1-.2 1-.2 1 .1 1 0 1-.1 1-.1 1 .3 1 0 1 0 1-.1 0 1.2" stroke="none" stroke-width="1" fill="#fff"/>
<path d="M112.3 276l1 .5 1 .3 1 .3 1 0 1-.5 1 .1 1-.6 1 .1 1-.1 1-.4 1 .5 1-.4 1 .3 1-.4 1 .1 1 .5 1 0 1 .2 1 0 1-.1 1 .4 1 .4 1 .1 1-.2 1 .1 1 .7 1 .2 1-.2 1-.1 1-.1 1-.1 1-.8 1 .3 1 .4 1-.4 1 .1 1 .1 1-.1 1 .4 1-.5 1 .6 1 0 1-.2 1 0 1 .5 1-.1 1 .9 1-.3 1 .3 1 .8 1-.9 1 .4 1 .3 1-.3 1 .3 1-.3 1 0 1 .7 1 .1 1 .1 1 .4 1-.1 1 .9 1-.4 1 .1 1-.3 1-.2 1-.4 1-.4 1-.4 1 .1 1 .3 1 0 1-.1 1 0 1 .4 1-.1 1-.5 1 .4 1 .1 1-.1 1 0 1-.3 1 0 1 .3 1 0 1-.1 1 .2 1-.3 1-.1 1-.9 1-.6 1-.3 1-.7 1-.4 1-.2 1-.5 1-.2 1 0 1-.3 1 .6 1-1.2 1-.6 1-1.1 1-1.5 1-3 1-3.3 1-4.8 1-5.3 1-7 1-7.4 1-6.6 1-7.2 1-5 1-2.9 1 .2 1 2.6 1 5.6 1 7 1 8.1 1 7.8 1 6.6 1 5.5 1 5.1 1 3.6 1 2.5 1 2 1 1.1 1 .8 1 .7 1 .1 1 .3 1-.3 1-.4 1-.5 1-.6 1-.2 1-.3 1-.2 1-.2 1-.4 1 .6 1 .2 1 .2 1 .5 1 1 1 .4 1 .7 1 .4 1 .4 1-.2 1 .2 1-.1 1 .5 1-.1 1 0 1 .6 1-.5 1-.3 1-.3 1 .3 1-.2 1 .5 1 .2 1 0 1 0 1 .1 1 .1 1 .4 1-.3 1 .1 1 .3 1-.3 1 0 1 .5 1-.2 1 .2 1 .7 1-.7 1 .5 1-.1 1 .4 1 0 1-.2 1-.1 1-.2 1-.2 1 .1 1 0 1-.1 1-.1 1 .3 1 0 1 0 1-.1" stroke="#ff0000" stroke-width="1" fill="none" stroke-linejoin="round"/>
<path d="M104 291.1l0-9.9 1 .3 1 1 1 .5 1 .4 1 .2 1 .3 1 .3 1-.3 1 0 1 .2 1 .3 1 .1 1 .1 1 .2 1 .3 1 .4 1 .2 1 0 1 .1 1 .3 1-.1 1 .1 1 .2 1-.1 1-.2 1 .6 1 .4 1-.1 1-.1 1-.2 1-.4 1 .2 1 .2 1-.5 1 .5 1-.1 1 .5 1-.2 1 .2 1-.2 1 .2 1-.1 1-.1 1-.1 1 .6 1-.2 1 .2 1 0 1 .4 1-.4 1 .1 1 .2 1 .4 1-.4 1 .1 1 .3 1 0 1 .1 1-.7 1-.4 1-.3 1-.1 1-.3 1-.2 1-.4 1-.1 1-.5 1 .6 1 .1 1 0 1 .6 1 .1 1 .1 1 .3 1 .6 1-.4 1 .4 1 .4 1 .4 1 .1 1 .2 1 0 1-.5 1 .2 1 0 1-.1 1 0 1 .2 1-.1 1-.3 1-.8 1 .4 1-.7 1-.3 1-.4 1 .2 1-.2 1-.5 1-.4 1-.8 1-.3 1-1.2 1-.8 1-1.4 1-1.8 1-1.8 1-2.6 1-4.3 1-4.8 1-6.1 1-6.7 1-5.8 1-5.6 1-3.8 1-1.9 1 .8 1 3 1 4.9 1 7.1 1 6.9 1 6.4 1 5.6 1 4.6 1 3 1 3.1 1 2.1 1 1.2 1 1.2 1 .2 1 .7 1 .1 1-.4 1-.4 1 .6 1 .2 1-.7 1-.5 1-.3 1 0 1-.2 1-.4 1 .1 1 .3 1 .3 1 .7 1 .8 1 .6 1 .3 1 .4 1 .6 1-.4 1 .5 1-.7 1 .6 1 .3 1-.5 1 .1 1 0 1-.5 1 0 1-.6 1 .1 1-.3 1 .8 1 .2 1 .4 1 .2 1 .2 1 0 1-.5 1 0 1 .2 1 .4 1 .3 1 0 1 .3 1 .3 1 0 1 .2 1 0 1-.3 1 .1 1 .3 1-.6 1 .1 1 .3 1-.2 1 0 1-.2 1 .3 1 .2 1 0 1-.4 1 .3 1-.3 0 1.4" stroke="none" stroke-width="1" fill="#fff"/>
<path d="M104 281.2l1 .3 1 1 1 .5 1 .4 1 .2 1 .3 1 .3 1-.3 1 0 1 .2 1 .3 1 .1 1 .1 1 .2 1 .3 1 .4 1 .2 1 0 1 .1 1 .3 1-.1 1 .1 1 .2 1-.1 1-.2 1 .6 1 .4 1-.1 1-.1 1-.2 1-.4 1 .2 1 .2 1-.5 1 .5 1-.1 1 .5 1-.2 1 .2 1-.2 1 .2 1-.1 1-.1 1-.1 1 .6 1-.2 1 .2 1 0 1 .4 1-.4 1 .1 1 .2 1 .4 1-.4 1 .1 1 .3 1 0 1 .1 1-.7 1-.4 1-.3 1-.1 1-.3 1-.2 1-.4 1-.1 1-.5 1 .6 1 .1 1 0 1 .6 1 .1 1 .1 1 .3 1 .6 1-.4 1 .4 1 .4 1 .4 1 .1 1 .2 1 0 1-.5 1 .2 1 0 1-.1 1 0 1 .2 1-.1 1-.3 1-.8 1 .4 1-.7 1-.3 1-.4 1 .2 1-.2 1-.5 1-.4 1-.8 1-.3 1-1.2 1-.8 1-1.4 1-1.8 1-1.8 1-2.6 1-4.3 1-4.8 1-6.1 1-6.7 1-5.8 1-5.6 1-3.8 1-1.9 1 .8 1 3 1 4.9 1 7.1 1 6.9 1 6.4 1 5.6 1 4.6 1 3 1 3.1 1 2.1 1 1.2 1 1.2 1 .2 1 .7 1 .1 1-.4 1-.4 1 .6 1 .2 1-.7 1-.5 1-.3 1 0 1-.2 1-.4 1 .1 1 .3 1 .3 1 .7 1 .8 1 .6 1 .3 1 .4 1 .6 1-.4 1 .5 1-.7 1 .6 1 .3 1-.5 1 .1 1 0 1-.5 1 0 1-.6 1 .1 1-.3 1 .8 1 .2 1 .4 1 .2 1 .2 1 0 1-.5 1 0 1 .2 1 .4 1 .3 1 0 1 .3 1 .3 1 0 1 .2 1 0 1-.3 1 .1 1 .3 1-.6 1 .1 1 .3 1-.2 1 0 1-.2 1 .3 1 .2 1 0 1-.4 1 .3 1-.3" stroke="#ff0000" stroke-width="1" fill="none" stroke-linejoin="round"/>
<path d="M95.7 299.4l0-6.5 1 1.6 1 .5 1-.2 1 0 1 .2 1 0 1-.1 1-.1 1 .1 1 0 1 .1 1 0 1 .2 1 .3 1 0 1 .4 1 .2 1-.2 1-.1 1-.4 1-.3 1-.8 1 .3 1-.2 1-.2 1-.6 1 .1 1 .2 1-.2 1 .8 1 .2 1 .4 1 .2 1 .2 1 .2 1-.5 1 .9 1-.2 1 .1 1-.2 1 .3 1-.2 1 0 1-.1 1 .3 1 .2 1-.1 1-.3 1 0 1-.3 1 .1 1 .4 1-.4 1 .3 1 .3 1 0 1-.2 1 .2 1-.3 1-.1 1 .7 1-.4 1 0 1 .2 1-.1 1 .2 1-.3 1 .3 1-.3 1-.4 1-.4 1 .5 1-.3 1-.3 1 .1 1-.3 1 .2 1 .6 1-.2 1-.3 1 .2 1-.1 1 .4 1 .2 1 .2 1 .2 1-.1 1 0 1-.1 1 0 1-.1 1-.3 1 .1 1-.2 1 .6 1-.5 1 0 1-.1 1-.4 1-.7 1 0 1-.6 1-1.1 1-1 1-.8 1-1.7 1-2 1-2.9 1-3 1-4 1-5 1-3.9 1-4 1-2.3 1-1.1 1 .8 1 2 1 4.5 1 4.2 1 4.3 1 3.7 1 4.2 1 3 1 2.4 1 1.6 1 1.6 1 .8 1 .7 1 .3 1-.2 1 .5 1 .2 1 0 1 .4 1 0 1-.7 1-.3 1-.2 1 .1 1-.5 1-.3 1 .3 1-.3 1 .6 1 .9 1 .3 1 .6 1 .6 1 .3 1 .4 1-.4 1-.5 1 .3 1 0 1 .1 1-.4 1 .3 1 .3 1 0 1 .2 1-.2 1-.3 1-.3 1-.3 1 0 1 .6 1-.5 1 .1 1 .3 1 0 1-.1 1 0 1 .3 1 .1 1 .1 1 0 1 .1 1-.4 1 .2 1-.4 1-.1 1 0 1 .4 1 .3 1 0 1 .2 1 .2 1 .3 1 0 1 .1 1 0 1 .4 1-.5 1 .2 1 .4 0 .2" stroke="none" stroke-width="1" fill="#fff"/>
<path d="M95.7 292.9l1 1.6 1 .5 1-.2 1 0 1 .2 1 0 1-.1 1-.1 1 .1 1 0 1 .1 1 0 1 .2 1 .3 1 0 1 .4 1 .2 1-.2 1-.1 1-.4 1-.3 1-.8 1 .3 1-.2 1-.2 1-.6 1 .1 1 .2 1-.2 1 .8 1 .2 1 .4 1 .2 1 .2 1 .2 1-.5 1 .9 1-.2 1 .1 1-.2 1 .3 1-.2 1 0 1-.1 1 .3 1 .2 1-.1 1-.3 1 0 1-.3 1 .1 1 .4 1-.4 1 .3 1 .3 1 0 1-.2 1 .2 1-.3 1-.1 1 .7 1-.4 1 0 1 .2 1-.1 1 .2 1-.3 1 .3 1-.3 1-.4 1-.4 1 .5 1-.3 1-.3 1 .1 1-.3 1 .2 1 .6 1-.2 1-.3 1 .2 1-.1 1 .4 1 .2 1 .2 1 .2 1-.1 1 0 1-.1 1 0 1-.1 1-.3 1 .1 1-.2 1 .6 1-.5 1 0 1-.1 1-.4 1-.7 1 0 1-.6 1-1.1 1-1 1-.8 1-1.7 1-2 1-2.9 1-3 1-4 1-5 1-3.9 1-4 1-2.3 1-1.1 1 .8 1 2 1 4.5 1 4.2 1 4.3 1 3.7 1 4.2 1 3 1 2.4 1 1.6 1 1.6 1 .8 1 .7 1 .3 1-.2 1 .5 1 .2 1 0 1 .4 1 0 1-.7 1-.3 1-.2 1 .1 1-.5 1-.3 1 .3 1-.3 1 .6 1 .9 1 .3 1 .6 1 .6 1 .3 1 .4 1-.4 1-.5 1 .3 1 0 1 .1 1-.4 1 .3 1 .3 1 0 1 .2 1-.2 1-.3 1-.3 1-.3 1 0 1 .6 1-.5 1 .1 1 .3 1 0 1-.1 1 0 1 .3 1 .1 1 .1 1 0 1 .1 1-.4 1 .2 1-.4 1-.1 1 0 1 .4 1 .3 1 0 1 .2 1 .2 1 .3 1 0 1 .1 1 0 1 .4 1-.5 1 .2 1 .4" stroke="#ff0000" stroke-width="1" fill="none" stroke-linejoin="round"/>
<path d="M87.4 307.7l0-9.1 1 .6 1 1 1-.1 1 .9 1 .1 1 .2 1 .3 1-.5 1-1.4 1 .2 1-.1 1 .6 1 .1 1 .2 1 1.3 1 .2 1-.2 1 .7 1 .1 1 0 1 .8 1 .2 1-.5 1 .5 1-.1 1 0 1 .3 1 .2 1 .1 1 .2 1-.4 1 .1 1 .3 1-.8 1-.1 1 .3 1-.3 1-.2 1 .2 1 .1 1 .2 1-.1 1 .1 1 .2 1 .1 1 .4 1-.4 1-.4 1 .9 1-.6 1-.5 1-.1 1-.3 1 .1 1-.3 1 .5 1 .4 1-.1 1 .3 1 .2 1 .2 1-.2 1 .2 1 0 1-.3 1 .2 1 0 1-.5 1 .5 1-.2 1 .7 1-.5 1 .1 1 0 1 .5 1-.3 1 .6 1-.3 1 .3 1 .3 1-.4 1-.6 1-.2 1 0 1 0 1-.2 1 0 1-.2 1-.3 1-.4 1-.1 1 0 1-.1 1-.1 1-.5 1 0 1 .1 1-.1 1-.1 1 .2 1 0 1-.3 1-.3 1-1.3 1-.7 1-1.4 1-2.1 1-2.8 1-3.7 1-4.2 1-4.3 1-4.1 1-3.5 1-1.9 1-1.4 1 1 1 2.4 1 3.7 1 3.8 1 4.4 1 3.8 1 3.5 1 2.7 1 2.9 1 2.1 1 .9 1 .8 1 .5 1 .4 1 .1 1 .3 1 .1 1 .1 1 0 1 .4 1 .1 1-.2 1-.5 1-.1 1-.2 1 .3 1-.2 1 .4 1-.2 1 .4 1 .4 1 .5 1 0 1 .6 1 .1 1 .2 1-.2 1-.1 1 .1 1 .1 1 .1 1-.1 1 .1 1 .1 1-.3 1 .1 1 0 1-.2 1 .2 1-.3 1 .5 1-.2 1-.6 1 .1 1-.2 1 0 1 .2 1 .3 1 .2 1-.4 1 .6 1-.1 1 .4 1 0 1 .4 1-.2 1 .4 1 .1 1-.2 1 0 1-.4 1 .9 1-.6 1 .2 1 0 1-.1 1-.1 1 0 1-.3 1-.2 0 1.3" stroke="none" stroke-width="1" fill="#fff"/>
<path d="M87.4 298.6l1 .6 1 1 1-.1 1 .9 1 .1 1 .2 1 .3 1-.5 1-1.4 1 .2 1-.1 1 .6 1 .1 1 .2 1 1.3 1 .2 1-.2 1 .7 1 .1 1 0 1 .8 1 .2 1-.5 1 .5 1-.1 1 0 1 .3 1 .2 1 .1 1 .2 1-.4 1 .1 1 .3 1-.8 1-.1 1 .3 1-.3 1-.2 1 .2 1 .1 1 .2 1-.1 1 .1 1 .2 1 .1 1 .4 1-.4 1-.4 1 .9 1-.6 1-.5 1-.1 1-.3 1 .1 1-.3 1 .5 1 .4 1-.1 1 .3 1 .2 1 .2 1-.2 1 .2 1 0 1-.3 1 .2 1 0 1-.5 1 .5 1-.2 1 .7 1-.5 1 .1 1 0 1 .5 1-.3 1 .6 1-.3 1 .3 1 .3 1-.4 1-.6 1-.2 1 0 1 0 1-.2 1 0 1-.2 1-.3 1-.4 1-.1 1 0 1-.1 1-.1 1-.5 1 0 1 .1 1-.1 1-.1 1 .2 1 0 1-.3 1-.3 1-1.3 1-.7 1-1.4 1-2.1 1-2.8 1-3.7 1-4.2 1-4.3 1-4.1 1-3.5 1-1.9 1-1.4 1 1 1 2.4 1 3.7 1 3.8 1 4.4 1 3.8 1 3.5 1 2.7 1 2.9 1 2.1 1 .9 1 .8 1 .5 1 .4 1 .1 1 .3 1 .1 1 .1 1 0 1 .4 1 .1 1-.2 1-.5 1-.1 1-.2 1 .3 1-.2 1 .4 1-.2 1 .4 1 .4 1 .5 1 0 1 .6 1 .1 1 .2 1-.2 1-.1 1 .1 1 .1 1 .1 1-.1 1 .1 1 .1 1-.3 1 .1 1 0 1-.2 1 .2 1-.3 1 .5 1-.2 1-.6 1 .1 1-.2 1 0 1 .2 1 .3 1 .2 1-.4 1 .6 1-.1 1 .4 1 0 1 .4 1-.2 1 .4 1 .1 1-.2 1 0 1-.4 1 .9 1-.6 1 .2 1 0 1-.1 1-.1 1 0 1-.3 1-.2" stroke="#ff0000" stroke-width="1" fill="none" stroke-linejoin="round"/>
<path d="M79.1 316l0-6.3 1 .8 1 0 1 .7 1-.1 1-.9 1 .4 1-.3 1-.3 1 .1 1 .2 1 .1 1 .6 1 .2 1 0 1 0 1 .3 1 .5 1-.2 1 .1 1-.5 1 .3 1-.1 1-.1 1-.4 1 0 1-.6 1-.1 1-.1 1 .4 1 .4 1-.2 1 .5 1 0 1 .2 1 .2 1 .4 1-.2 1-.4 1 .5 1-.4 1 .1 1 0 1 .4 1 .4 1-.3 1 .3 1-.2 1 0 1-.2 1-.1 1 .1 1-.9 1 0 1-.1 1-.2 1 .3 1 .1 1 .3 1-.1 1 .6 1 .3 1 .2 1 0 1-.2 1 0 1 0 1 0 1 .3 1 .3 1 0 1-.4 1 .4 1-.1 1-.5 1 .2 1 .2 1-.2 1-.3 1-.1 1 .1 1 0 1-.2 1-.4 1 .1 1 .4 1 .1 1 .1 1-.2 1 .3 1 .2 1-.2 1 .3 1-.1 1-.3 1-.2 1 .6 1-1 1-.1 1 .1 1-.4 1-.3 1-.1 1-.5 1-.7 1-.5 1-1.1 1-1.6 1-2.2 1-2.2 1-2.9 1-2.8 1-2.9 1-2.9 1-1.6 1-.6 1 0 1 2.3 1 2.3 1 3.2 1 3.1 1 3.9 1 2.8 1 2.4 1 1.5 1 .9 1 .9 1 .9 1 .5 1 0 1 .5 1-.5 1 .2 1 .2 1-.6 1 0 1 .4 1-.7 1 .1 1 .3 1-.7 1-.1 1 0 1-.4 1 .1 1 .5 1 .4 1 .4 1 .5 1 .4 1 .1 1-.1 1 .1 1 .1 1 0 1 .3 1 .2 1 .2 1-.6 1-.1 1 .2 1 0 1 .1 1 .4 1 0 1-.2 1 .2 1-.2 1-.6 1 0 1-.2 1-.2 1 .2 1-.2 1 .3 1-.3 1 .6 1-.3 1 .1 1-.1 1-.2 1 .2 1 .2 1 .2 1 .6 1-.3 1 .5 1-.9 1 0 1 .7 1-.4 1 .8 1-.2 1 0 1 .3 1 0 0 .2" stroke="none" stroke-width="1" fill="#fff"/>
<path d="M79.1 309.7l1 .8 1 0 1 .7 1-.1 1-.9 1 .4 1-.3 1-.3 1 .1 1 .2 1 .1 1 .6 1 .2 1 0 1 0 1 .3 1 .5 1-.2 1 .1 1-.5 1 .3 1-.1 1-.1 1-.4 1 0 1-.6 1-.1 1-.1 1 .4 1 .4 1-.2 1 .5 1 0 1 .2 1 .2 1 .4 1-.2 1-.4 1 .5 1-.4 1 .1 1 0 1 .4 1 .4 1-.3 1 .3 1-.2 1 0 1-.2 1-.1 1 .1 1-.9 1 0 1-.1 1-.2 1 .3 1 .1 1 .3 1-.1 1 .6 1 .3 1 .2 1 0 1-.2 1 0 1 0 1 0 1 .3 1 .3 1 0 1-.4 1 .4 1-.1 1-.5 1 .2 1 .2 1-.2 1-.3 1-.1 1 .1 1 0 1-.2 1-.4 1 .1 1 .4 1 .1 1 .1 1-.2 1 .3 1 .2 1-.2 1 .3 1-.1 1-.3 1-.2 1 .6 1-1 1-.1 1 .1 1-.4 1-.3 1-.1 1-.5 1-.7 1-.5 1-1.1 1-1.6 1-2.2 1-2.2 1-2.9 1-2.8 1-2.9 1-2.9 1-1.6 1-.6 1 0 1 2.3 1 2.3 1 3.2 1 3.1 1 3.9 1 2.8 1 2.4 1 1.5 1 .9 1 .9 1 .9 1 .5 1 0 1 .5 1-.5 1 .2 1 .2 1-.6 1 0 1 .4 1-.7 1 .1 1 .3 1-.7 1-.1 1 0 1-.4 1 .1 1 .5 1 .4 1 .4 1 .5 1 .4 1 .1 1-.1 1 .1 1 .1 1 0 1 .3 1 .2 1 .2 1-.6 1-.1 1 .2 1 0 1 .1 1 .4 1 0 1-.2 1 .2 1-.2 1-.6 1 0 1-.2 1-.2 1 .2 1-.2 1 .3 1-.3 1 .6 1-.3 1 .1 1-.1 1-.2 1 .2 1 .2 1 .2 1 .6 1-.3 1 .5 1-.9 1 0 1 .7 1-.4 1 .8 1-.2 1 0 1 .3 1 0" stroke="#ff0000" stroke-width="1" fill="none" stroke-linejoin="round"/>
<path d="M70.8 324.3l0-7.8 1 1.8 1 .2 1 .3 1 .2 1 .4 1-.4 1 .5 1 .1 1-.8 1 .7 1-1 1-.1 1 .3 1 .3 1-.1 1 .4 1 .2 1 .5 1 0 1-.2 1 .2 1-.7 1 .1 1 .3 1 .8 1 .1 1 .1 1 .2 1 .4 1-.1 1 0 1 .8 1-.1 1 .3 1 .2 1 0 1 0 1 0 1 0 1-.5 1-.1 1 .2 1-.3 1 .1 1 0 1 .2 1-.5 1 .2 1-.6 1 .3 1-.1 1 .4 1 .3 1-.4 1 .2 1-.3 1 0 1-.6 1 .4 1 0 1 0 1-.3 1 .4 1 .1 1-.4 1 .1 1 .3 1 .3 1-.6 1 .3 1 .3 1 0 1 .2 1 .4 1-.5 1 0 1-.4 1 .1 1-.4 1 .2 1 .1 1-.1 1-.2 1 .2 1-.6 1 .2 1-.1 1 .2 1 0 1 .1 1 .3 1-.1 1-.4 1-.8 1 .6 1-.5 1-.1 1 .4 1-.1 1 .3 1-.4 1 .1 1 .1 1-.9 1-.6 1-1.2 1-1.2 1-1.6 1-2.8 1-2.5 1-3 1-3 1-2.4 1-1.4 1-.1 1 0 1 1.9 1 3 1 2.7 1 3.3 1 2.9 1 2 1 2.4 1 1.4 1 1.3 1 .3 1 1 1-.1 1 0 1 .2 1 .2 1 0 1-.8 1 0 1-.1 1-.1 1-.4 1-.2 1 .4 1-.4 1-.3 1 0 1 1.1 1-.3 1 .3 1 .8 1 .2 1 .8 1 .2 1 .2 1-.1 1-.3 1 0 1-.4 1 .1 1 .3 1-.4 1 .7 1-.5 1-.1 1-.1 1-.4 1-.3 1 .2 1 .3 1 .5 1-.3 1 .3 1 0 1-.1 1 .3 1 .1 1-.2 1 .2 1-.2 1 .5 1-.4 1 .1 1 .1 1 .3 1-.4 1 .3 1-.4 1 .2 1 .4 1-.2 1-.1 1-.1 1 .1 1-.1 1-.5 1 .4 1-.2 1 .1 1 .2 0 .6" stroke="none" stroke-width="1" fill="#fff"/>
<path d="M70.8 316.5l1 1.8 1 .2 1 .3 1 .2 1 .4 1-.4 1 .5 1 .1 1-.8 1 .7 1-1 1-.1 1 .3 1 .3 1-.1 1 .4 1 .2 1 .5 1 0 1-.2 1 .2 1-.7 1 .1 1 .3 1 .8 1 .1 1 .1 1 .2 1 .4 1-.1 1 0 1 .8 1-.1 1 .3 1 .2 1 0 1 0 1 0 1 0 1-.5 1-.1 1 .2 1-.3 1 .1 1 0 1 .2 1-.5 1 .2 1-.6 1 .3 1-.1 1 .4 1 .3 1-.4 1 .2 1-.3 1 0 1-.6 1 .4 1 0 1 0 1-.3 1 .4 1 .1 1-.4 1 .1 1 .3 1 .3 1-.6 1 .3 1 .3 1 0 1 .2 1 .4 1-.5 1 0 1-.4 1 .1 1-.4 1 .2 1 .1 1-.1 1-.2 1 .2 1-.6 1 .2 1-.1 1 .2 1 0 1 .1 1 .3 1-.1 1-.4 1-.8 1 .6 1-.5 1-.1 1 .4 1-.1 1 .3 1-.4 1 .1 1 .1 1-.9 1-.6 1-1.2 1-1.2 1-1.6 1-2.8 1-2.5 1-3 1-3 1-2.4 1-1.4 1-.1 1 0 1 1.9 1 3 1 2.7 1 3.3 1 2.9 1 2 1 2.4 1 1.4 1 1.3 1 .3 1 1 1-.1 1 0 1 .2 1 .2 1 0 1-.8 1 0 1-.1 1-.1 1-.4 1-.2 1 .4 1-.4 1-.3 1 0 1 1.1 1-.3 1 .3 1 .8 1 .2 1 .8 1 .2 1 .2 1-.1 1-.3 1 0 1-.4 1 .1 1 .3 1-.4 1 .7 1-.5 1-.1 1-.1 1-.4 1-.3 1 .2 1 .3 1 .5 1-.3 1 .3 1 0 1-.1 1 .3 1 .1 1-.2 1 .2 1-.2 1 .5 1-.4 1 .1 1 .1 1 .3 1-.4 1 .3 1-.4 1 .2 1 .4 1-.2 1-.1 1-.1 1 .1 1-.1 1-.5 1 .4 1-.2 1 .1 1 .2" stroke="#ff0000" stroke-width="1" fill="none" stroke-linejoin="round"/>
<path d="M62.5 332.6l0-8.3 1 1 1 .5 1-.1 1 .3 1 .4 1 .6 1 .6 1-.3 1 .2 1 0 1 .1 1-.5 1-.1 1-.1 1-.2 1 .5 1 .2 1 .3 1 .7 1 0 1-.1 1 .1 1 .2 1 0 1-.6 1-.1 1-.2 1-.3 1 .5 1-.1 1 .4 1 .1 1 .5 1 0 1-.1 1 .1 1-.1 1 .1 1-.4 1 .9 1-.5 1 .2 1 .4 1-.2 1 .2 1-.4 1 0 1 .1 1-.3 1 .6 1-.1 1-.2 1-.3 1 .1 1 .3 1-.4 1-.3 1 .4 1-.6 1 0 1 0 1 0 1 .4 1 .4 1-.1 1-.2 1-.2 1-.3 1 .1 1 0 1-.3 1 .6 1-.4 1 0 1 .1 1 0 1 .5 1 .6 1-.2 1 .4 1-.1 1 .4 1 .2 1 0 1 .3 1-.3 1-.2 1-.3 1 0 1 0 1 .1 1-.5 1-.1 1 .4 1 .2 1-.6 1 .2 1-.2 1 .1 1-.2 1 .1 1-.1 1-.5 1-.1 1-.8 1-.9 1-1 1-1.5 1-1.4 1-1.3 1-2.5 1-1.3 1-1.5 1-.8 1-.7 1 .4 1 1.4 1 1 1 1.9 1 2.5 1 1.1 1 1.9 1 .9 1 1.2 1 .9 1 1 1 .4 1 .8 1 .3 1 .2 1 0 1-.7 1 .4 1-.4 1 .2 1 .1 1-.3 1 .2 1-.5 1-.3 1 .1 1-.2 1 0 1-.2 1 0 1 0 1 .4 1 0 1 .4 1 0 1 .3 1 .5 1 .4 1 .1 1 .1 1-.1 1 .1 1-.1 1-.2 1 .1 1-.3 1-.3 1 .4 1 .2 1-.2 1 0 1-.4 1 0 1-.5 1 .3 1 .1 1-.2 1 .7 1-.2 1-.3 1 0 1-.3 1 .1 1 .1 1-.1 1 0 1 .5 1 .3 1 .1 1-.7 1 .7 1-.2 1 .2 1-.3 1 .7 1 .1 1-.2 1 .6 1-.4 1 0 0 1" stroke="none" stroke-width="1" fill="#fff"/>
<path d="M62.5 324.3l1 1 1 .5 1-.1 1 .3 1 .4 1 .6 1 .6 1-.3 1 .2 1 0 1 .1 1-.5 1-.1 1-.1 1-.2 1 .5 1 .2 1 .3 1 .7 1 0 1-.1 1 .1 1 .2 1 0 1-.6 1-.1 1-.2 1-.3 1 .5 1-.1 1 .4 1 .1 1 .5 1 0 1-.1 1 .1 1-.1 1 .1 1-.4 1 .9 1-.5 1 .2 1 .4 1-.2 1 .2 1-.4 1 0 1 .1 1-.3 1 .6 1-.1 1-.2 1-.3 1 .1 1 .3 1-.4 1-.3 1 .4 1-.6 1 0 1 0 1 0 1 .4 1 .4 1-.1 1-.2 1-.2 1-.3 1 .1 1 0 1-.3 1 .6 1-.4 1 0 1 .1 1 0 1 .5 1 .6 1-.2 1 .4 1-.1 1 .4 1 .2 1 0 1 .3 1-.3 1-.2 1-.3 1 0 1 0 1 .1 1-.5 1-.1 1 .4 1 .2 1-.6 1 .2 1-.2 1 .1 1-.2 1 .1 1-.1 1-.5 1-.1 1-.8 1-.9 1-1 1-1.5 1-1.4 1-1.3 1-2.5 1-1.3 1-1.5 1-.8 1-.7 1 .4 1 1.4 1 1 1 1.9 1 2.5 1 1.1 1 1.9 1 .9 1 1.2 1 .9 1 1 1 .4 1 .8 1 .3 1 .2 1 0 1-.7 1 .4 1-.4 1 .2 1 .1 1-.3 1 .2 1-.5 1-.3 1 .1 1-.2 1 0 1-.2 1 0 1 0 1 .4 1 0 1 .4 1 0 1 .3 1 .5 1 .4 1 .1 1 .1 1-.1 1 .1 1-.1 1-.2 1 .1 1-.3 1-.3 1 .4 1 .2 1-.2 1 0 1-.4 1 0 1-.5 1 .3 1 .1 1-.2 1 .7 1-.2 1-.3 1 0 1-.3 1 .1 1 .1 1-.1 1 0 1 .5 1 .3 1 .1 1-.7 1 .7 1-.2 1 .2 1-.3 1 .7 1 .1 1-.2 1 .6 1-.4 1 0" stroke="#ff0000" stroke-width="1" fill="none" stroke-linejoin="round"/>
<path d="M54.2 340.9l0-5.8 1 .8 1 1.1 1-.1 1-.2 1 .5 1 0 1 0 1-.3 1-.3 1 .1 1-.2 1 .5 1-.5 1 .3 1-.2 1-.2 1-.1 1-.1 1-.3 1 0 1-.1 1 .4 1 .3 1 .3 1-.3 1 .3 1-.4 1 0 1-.1 1 .2 1 0 1 .1 1-.2 1 .3 1-.1 1 0 1-.8 1 .7 1-.1 1 .1 1 .5 1-.3 1-.4 1 .2 1 .3 1-.2 1-.2 1 .2 1-.1 1-.2 1-.1 1 .6 1 .5 1 .2 1 .3 1 .5 1-.1 1 .3 1-.6 1 .2 1 .2 1-.6 1-.6 1 .2 1 .1 1 .2 1 .2 1-.3 1 .1 1 0 1-.4 1 .3 1-.4 1 .1 1-.3 1 .1 1 .3 1 .1 1-.3 1 .6 1-.7 1 .2 1 0 1 .6 1 0 1 .5 1 0 1 .8 1-.1 1 .5 1-.5 1 .3 1 .1 1-.1 1-.3 1-.4 1 .7 1 0 1-.2 1-.3 1-.3 1-.6 1 .1 1-.1 1-.9 1-.4 1-.9 1-1 1-1.5 1-1.2 1-1.2 1-1.3 1-1.5 1-.8 1-.4 1-.3 1 .3 1 1.6 1 1.6 1 1.4 1 1.8 1 1.6 1 1.8 1 .6 1 .3 1 .4 1 .6 1 .1 1 .3 1-.1 1-.2 1-.2 1 .1 1-.5 1-.1 1-.4 1 .4 1-.2 1 .6 1-.7 1-.1 1-.1 1 .2 1 .3 1 .6 1 .2 1 .9 1 .1 1 .1 1 .4 1 .3 1 0 1-.1 1-.3 1 .4 1 .2 1-.8 1 .1 1-.3 1-.1 1-.3 1 .1 1-.9 1 .1 1-.6 1 .4 1-.6 1 .3 1 .6 1-.5 1 .1 1 .1 1 .4 1-.6 1 .7 1-.2 1 .7 1-.7 1 .1 1 .3 1-.1 1 .6 1 0 1 .2 1 0 1 .2 1-.4 1-.2 1 0 1-.1 1 .1 1 0 1-.1 1-.1 1 .4 0 1.3" stroke="none" stroke-width="1" fill="#fff"/>
<path d="M54.2 335.1l1 .8 1 1.1 1-.1 1-.2 1 .5 1 0 1 0 1-.3 1-.3 1 .1 1-.2 1 .5 1-.5 1 .3 1-.2 1-.2 1-.1 1-.1 1-.3 1 0 1-.1 1 .4 1 .3 1 .3 1-.3 1 .3 1-.4 1 0 1-.1 1 .2 1 0 1 .1 1-.2 1 .3 1-.1 1 0 1-.8 1 .7 1-.1 1 .1 1 .5 1-.3 1-.4 1 .2 1 .3 1-.2 1-.2 1 .2 1-.1 1-.2 1-.1 1 .6 1 .5 1 .2 1 .3 1 .5 1-.1 1 .3 1-.6 1 .2 1 .2 1-.6 1-.6 1 .2 1 .1 1 .2 1 .2 1-.3 1 .1 1 0 1-.4 1 .3 1-.4 1 .1 1-.3 1 .1 1 .3 1 .1 1-.3 1 .6 1-.7 1 .2 1 0 1 .6 1 0 1 .5 1 0 1 .8 1-.1 1 .5 1-.5 1 .3 1 .1 1-.1 1-.3 1-.4 1 .7 1 0 1-.2 1-.3 1-.3 1-.6 1 .1 1-.1 1-.9 1-.4 1-.9 1-1 1-1.5 1-1.2 1-1.2 1-1.3 1-1.5 1-.8 1-.4 1-.3 1 .3 1 1.6 1 1.6 1 1.4 1 1.8 1 1.6 1 1.8 1 .6 1 .3 1 .4 1 .6 1 .1 1 .3 1-.1 1-.2 1-.2 1 .1 1-.5 1-.1 1-.4 1 .4 1-.2 1 .6 1-.7 1-.1 1-.1 1 .2 1 .3 1 .6 1 .2 1 .9 1 .1 1 .1 1 .4 1 .3 1 0 1-.1 1-.3 1 .4 1 .2 1-.8 1 .1 1-.3 1-.1 1-.3 1 .1 1-.9 1 .1 1-.6 1 .4 1-.6 1 .3 1 .6 1-.5 1 .1 1 .1 1 .4 1-.6 1 .7 1-.2 1 .7 1-.7 1 .1 1 .3 1-.1 1 .6 1 0 1 .2 1 0 1 .2 1-.4 1-.2 1 0 1-.1 1 .1 1 0 1-.1 1-.1 1 .4" stroke="#ff0000" stroke-width="1" fill="none" stroke-linejoin="round"/>
<path d="M45.9 349.2l0-7.6 1 .5 1 .5 1 .3 1 1 1 .1 1-.1 1 0 1-.1 1 .4 1-.2 1-.1 1 .2 1 .2 1 .2 1-.1 1-.5 1 .1 1-.1 1 0 1 .9 1-.1 1 .4 1-.1 1 .3 1 0 1 .2 1-.1 1 .2 1-.1 1-.2 1 0 1 .1 1-.1 1 .1 1-.2 1 0 1 .6 1 .8 1-.3 1 .3 1 0 1-.5 1-.7 1 .5 1 0 1-.1 1 .8 1-.5 1-.2 1 .1 1 .1 1 .2 1 .2 1-.5 1 .7 1-.2 1 .5 1-.4 1-.2 1 0 1 .3 1-.6 1-.7 1 .1 1 .3 1-.3 1 .6 1-.6 1 0 1 .2 1 .3 1 .5 1 .2 1-.1 1 .5 1 .2 1 0 1 .3 1-.3 1 .5 1-.7 1-.2 1 0 1 .2 1 0 1 .4 1-.4 1 0 1-.6 1-.2 1-.3 1 .2 1 .3 1-.2 1 .2 1-.5 1-.3 1 .1 1-.1 1-.2 1-.1 1 0 1 .4 1-.3 1-.6 1-.4 1 0 1-1.5 1-.7 1-.5 1-1.6 1-.9 1-1.3 1-.8 1-.9 1-.4 1 .1 1 .9 1 .9 1 1.5 1 1.4 1 1.3 1 .9 1 .3 1 1.2 1 .4 1 .2 1 .5 1 .6 1-.1 1 .5 1-.1 1-.2 1-.1 1 .1 1-.3 1-.1 1 .1 1 .5 1-.2 1 .3 1-.2 1 .3 1-.1 1 1 1-.4 1-.3 1 .4 1 .2 1-.3 1 0 1-.1 1 .2 1-.3 1-.3 1 .2 1-.2 1 .3 1-.3 1 .3 1 .2 1-.3 1 0 1 0 1 .1 1 .4 1 0 1-.2 1 .3 1 0 1 .2 1 .1 1 .2 1-.5 1 .2 1 .2 1 .3 1-.2 1-.3 1 .5 1-1 1 .6 1-.1 1-.2 1 .4 1-.3 1 .1 1 0 1 .5 1-.2 1 .1 1 .6 1 .4 1 0 1 0 0 .2" stroke="none" stroke-width="1" fill="#fff"/>
<path d="M45.9 341.6l1 .5 1 .5 1 .3 1 1 1 .1 1-.1 1 0 1-.1 1 .4 1-.2 1-.1 1 .2 1 .2 1 .2 1-.1 1-.5 1 .1 1-.1 1 0 1 .9 1-.1 1 .4 1-.1 1 .3 1 0 1 .2 1-.1 1 .2 1-.1 1-.2 1 0 1 .1 1-.1 1 .1 1-.2 1 0 1 .6 1 .8 1-.3 1 .3 1 0 1-.5 1-.7 1 .5 1 0 1-.1 1 .8 1-.5 1-.2 1 .1 1 .1 1 .2 1 .2 1-.5 1 .7 1-.2 1 .5 1-.4 1-.2 1 0 1 .3 1-.6 1-.7 1 .1 1 .3 1-.3 1 .6 1-.6 1 0 1 .2 1 .3 1 .5 1 .2 1-.1 1 .5 1 .2 1 0 1 .3 1-.3 1 .5 1-.7 1-.2 1 0 1 .2 1 0 1 .4 1-.4 1 0 1-.6 1-.2 1-.3 1 .2 1 .3 1-.2 1 .2 1-.5 1-.3 1 .1 1-.1 1-.2 1-.1 1 0 1 .4 1-.3 1-.6 1-.4 1 0 1-1.5 1-.7 1-.5 1-1.6 1-.9 1-1.3 1-.8 1-.9 1-.4 1 .1 1 .9 1 .9 1 1.5 1 1.4 1 1.3 1 .9 1 .3 1 1.2 1 .4 1 .2 1 .5 1 .6 1-.1 1 .5 1-.1 1-.2 1-.1 1 .1 1-.3 1-.1 1 .1 1 .5 1-.2 1 .3 1-.2 1 .3 1-.1 1 1 1-.4 1-.3 1 .4 1 .2 1-.3 1 0 1-.1 1 .2 1-.3 1-.3 1 .2 1-.2 1 .3 1-.3 1 .3 1 .2 1-.3 1 0 1 0 1 .1 1 .4 1 0 1-.2 1 .3 1 0 1 .2 1 .1 1 .2 1-.5 1 .2 1 .2 1 .3 1-.2 1-.3 1 .5 1-1 1 .6 1-.1 1-.2 1 .4 1-.3 1 .1 1 0 1 .5 1-.2 1 .1 1 .6 1 .4 1 0 1 0" stroke="#ff0000" stroke-width="1" fill="none" stroke-linejoin="round"/>
<path d="M37.6 357.5l0-7.3 1 1.1 1 0 1 .3 1 .1 1 .4 1 .5 1-.2 1 0 1 0 1-.1 1 .2 1-.1 1 .3 1 .4 1 .5 1 .4 1-.2 1-.1 1-.2 1 .1 1-.2 1-.3 1 .1 1-.2 1-.4 1 .4 1-.4 1-.4 1-.1 1-.2 1 .1 1-.4 1 0 1-.1 1 .2 1 .2 1-.2 1 .6 1 .4 1 .4 1 .2 1 .2 1-.6 1 .2 1 .1 1-.1 1 0 1-.4 1-.5 1 0 1 .1 1 0 1 .6 1-.3 1 .5 1 0 1 .7 1 .2 1-.1 1 .3 1-.3 1 .3 1 .1 1-.1 1-.1 1-.4 1-.1 1-.4 1 .5 1 .1 1 .4 1 0 1-.2 1-.5 1 .1 1-.2 1 .5 1 .2 1 .5 1-.4 1-.2 1 .5 1-.3 1 .2 1 .4 1-.2 1 .4 1 0 1-.3 1 .3 1 .4 1-.4 1 .7 1-.2 1-.1 1-.2 1 0 1 0 1-.9 1 .4 1-.1 1 .3 1-.6 1-.4 1 0 1-.4 1 .2 1-.1 1-.5 1-.9 1-.4 1-.8 1-.5 1-.9 1-.9 1 .2 1-.1 1 .9 1-.2 1 1 1 .7 1 1.3 1 1.2 1 .7 1 0 1 .5 1 .4 1 0 1 .2 1-.2 1 .2 1 .3 1-.2 1 .2 1-.3 1 .6 1 .3 1-.2 1 0 1-.3 1-.2 1 0 1-.5 1-.1 1 .2 1-.1 1 0 1 .6 1 .1 1 .1 1 .1 1 0 1 .6 1-.2 1 .1 1-.2 1 .4 1 .1 1 .2 1-.5 1-.3 1 .2 1-.5 1-.2 1-.2 1 .3 1-.1 1 .3 1 .3 1-.1 1 0 1 .2 1-.5 1-.4 1 .7 1-.6 1-.1 1 .1 1 0 1 .2 1-.3 1 .5 1-.1 1 .4 1-.4 1 .1 1 .5 1 0 1-.3 1 .3 1 .3 1 .4 1-.5 1-.2 1 .5 0 .4" stroke="none" stroke-width="1" fill="#fff"/>
<path d="M37.6 350.2l1 1.1 1 0 1 .3 1 .1 1 .4 1 .5 1-.2 1 0 1 0 1-.1 1 .2 1-.1 1 .3 1 .4 1 .5 1 .4 1-.2 1-.1 1-.2 1 .1 1-.2 1-.3 1 .1 1-.2 1-.4 1 .4 1-.4 1-.4 1-.1 1-.2 1 .1 1-.4 1 0 1-.1 1 .2 1 .2 1-.2 1 .6 1 .4 1 .4 1 .2 1 .2 1-.6 1 .2 1 .1 1-.1 1 0 1-.4 1-.5 1 0 1 .1 1 0 1 .6 1-.3 1 .5 1 0 1 .7 1 .2 1-.1 1 .3 1-.3 1 .3 1 .1 1-.1 1-.1 1-.4 1-.1 1-.4 1 .5 1 .1 1 .4 1 0 1-.2 1-.5 1 .1 1-.2 1 .5 1 .2 1 .5 1-.4 1-.2 1 .5 1-.3 1 .2 1 .4 1-.2 1 .4 1 0 1-.3 1 .3 1 .4 1-.4 1 .7 1-.2 1-.1 1-.2 1 0 1 0 1-.9 1 .4 1-.1 1 .3 1-.6 1-.4 1 0 1-.4 1 .2 1-.1 1-.5 1-.9 1-.4 1-.8 1-.5 1-.9 1-.9 1 .2 1-.1 1 .9 1-.2 1 1 1 .7 1 1.3 1 1.2 1 .7 1 0 1 .5 1 .4 1 0 1 .2 1-.2 1 .2 1 .3 1-.2 1 .2 1-.3 1 .6 1 .3 1-.2 1 0 1-.3 1-.2 1 0 1-.5 1-.1 1 .2 1-.1 1 0 1 .6 1 .1 1 .1 1 .1 1 0 1 .6 1-.2 1 .1 1-.2 1 .4 1 .1 1 .2 1-.5 1-.3 1 .2 1-.5 1-.2 1-.2 1 .3 1-.1 1 .3 1 .3 1-.1 1 0 1 .2 1-.5 1-.4 1 .7 1-.6 1-.1 1 .1 1 0 1 .2 1-.3 1 .5 1-.1 1 .4 1-.4 1 .1 1 .5 1 0 1-.3 1 .3 1 .3 1 .4 1-.5 1-.2 1 .5" stroke="#ff0000" stroke-width="1" fill="none" stroke-linejoin="round"/>
<line x1="34.5" y1="357.5" x2="234.5" y2="357.5" stroke="#000" stroke-width="1.2"/>
<line x1="35" y1="357.5" x2="35" y2="352" stroke="#222" stroke-width="1"/>
<text x="35" y="374.7" font-size="12" fill="#000" text-anchor="middle">1.0</text>
<line x1="101.5" y1="357.5" x2="101.5" y2="352" stroke="#222" stroke-width="1"/>
<text x="101.5" y="374.7" font-size="12" fill="#000" text-anchor="middle">1.5</text>
<line x1="168" y1="357.5" x2="168" y2="352" stroke="#222" stroke-width="1"/>
<text x="168" y="374.7" font-size="12" fill="#000" text-anchor="middle">2.0</text>
<line x1="234.5" y1="357.5" x2="234.5" y2="352" stroke="#666" stroke-width="1"/>
<text x="234.5" y="374.7" font-size="12" fill="#000" text-anchor="middle">2.5</text>
<text x="48.6" y="392" font-size="12.3">Final state energy E – E<tspan dy="2.6" font-size="9.2">vac</tspan><tspan dy="-2.6"> (eV)</tspan></text>
<line x1="234.5" y1="357.5" x2="371.6" y2="220.4" stroke="#000" stroke-width="1.1"/>
<line x1="371.6" y1="220.4" x2="389" y2="202.5" stroke="#000" stroke-width="1.1" stroke-dasharray="7 4"/>
<line x1="234.5" y1="357.5" x2="241" y2="357.5" stroke="#444" stroke-width="0.9"/>
<text x="246.3" y="362.4" font-size="12" fill="#000" text-anchor="start">1000</text>
<line x1="246.96" y1="345.04" x2="253.46" y2="345.04" stroke="#444" stroke-width="0.9"/>
<text x="258.76" y="349.94" font-size="12" fill="#000" text-anchor="start">900</text>
<line x1="259.43" y1="332.57" x2="265.93" y2="332.57" stroke="#444" stroke-width="0.9"/>
<text x="271.23" y="337.47" font-size="12" fill="#000" text-anchor="start">800</text>
<line x1="271.89" y1="320.11" x2="278.39" y2="320.11" stroke="#444" stroke-width="0.9"/>
<text x="283.69" y="325.01" font-size="12" fill="#000" text-anchor="start">700</text>
<line x1="284.35" y1="307.65" x2="290.85" y2="307.65" stroke="#444" stroke-width="0.9"/>
<text x="296.15" y="312.55" font-size="12" fill="#000" text-anchor="start">600</text>
<line x1="296.82" y1="295.18" x2="303.32" y2="295.18" stroke="#444" stroke-width="0.9"/>
<text x="308.62" y="300.08" font-size="12" fill="#000" text-anchor="start">500</text>
<line x1="309.28" y1="282.72" x2="315.78" y2="282.72" stroke="#444" stroke-width="0.9"/>
<text x="321.08" y="287.62" font-size="12" fill="#000" text-anchor="start">400</text>
<line x1="321.75" y1="270.25" x2="328.25" y2="270.25" stroke="#444" stroke-width="0.9"/>
<text x="333.55" y="275.15" font-size="12" fill="#000" text-anchor="start">300</text>
<line x1="334.21" y1="257.79" x2="340.71" y2="257.79" stroke="#444" stroke-width="0.9"/>
<text x="346.01" y="262.69" font-size="12" fill="#000" text-anchor="start">200</text>
<line x1="346.67" y1="245.33" x2="353.17" y2="245.33" stroke="#444" stroke-width="0.9"/>
<text x="358.47" y="250.23" font-size="12" fill="#000" text-anchor="start">100</text>
<line x1="359.14" y1="232.86" x2="365.64" y2="232.86" stroke="#444" stroke-width="0.9"/>
<text x="370.94" y="237.76" font-size="12" fill="#000" text-anchor="start">0</text>
<line x1="371.6" y1="220.4" x2="378.1" y2="220.4" stroke="#444" stroke-width="0.9"/>
<text x="383.4" y="225.3" font-size="12" fill="#000" text-anchor="start">−100</text>
<text x="325.5" y="325" font-size="12.3" fill="#000" text-anchor="start" transform="rotate(-45 325.5 325)">Time delay (fs)</text>
<rect x="476.0" y="3.5" width="199.0" height="198.9" fill="none" stroke="#222" stroke-width="0.85"/>
<line x1="542.4" y1="3.5" x2="542.4" y2="9.5" stroke="#000" stroke-width="1"/>
<line x1="542.4" y1="202.4" x2="542.4" y2="196.4" stroke="#000" stroke-width="1"/>
<line x1="608.7" y1="3.5" x2="608.7" y2="9.5" stroke="#000" stroke-width="1"/>
<line x1="608.7" y1="202.4" x2="608.7" y2="196.4" stroke="#000" stroke-width="1"/>
<line x1="669" y1="43.3" x2="675" y2="43.3" stroke="#000" stroke-width="1"/>
<line x1="669" y1="83.1" x2="675" y2="83.1" stroke="#000" stroke-width="1"/>
<line x1="669" y1="122.9" x2="675" y2="122.9" stroke="#000" stroke-width="1"/>
<line x1="669" y1="162.7" x2="675" y2="162.7" stroke="#000" stroke-width="1"/>
<text x="486" y="24.3" font-size="12.3" fill="#000" text-anchor="start">(b)</text>
<text x="537.1" y="25.9" font-size="12.0" fill="#00bebe" text-anchor="start">n=1</text>
<line x1="547.5" y1="32.3" x2="547.5" y2="43.7" stroke="#000" stroke-width="1"/>
<path d="M545.3 41.5 547.5 47 549.7 41.5 547.5 43 Z" stroke="none" stroke-width="1" fill="#000"/>
<text x="613" y="34.2" font-size="12.3" fill="#000" text-anchor="start">Cu(111)</text>
<line x1="612" y1="36.6" x2="656" y2="36.6" stroke="#000" stroke-width="1"/>
<text x="561" y="106" font-size="12" fill="#ff0000" text-anchor="start">SS</text>
<line x1="568.4" y1="111" x2="568.4" y2="123.2" stroke="#000" stroke-width="1"/>
<path d="M566.2 121 568.4 126.5 570.6 121 568.4 122.5 Z" stroke="none" stroke-width="1" fill="#000"/>
<text x="602.2" y="159.5" font-size="12.0" fill="#2222ff" text-anchor="start">n=2</text>
<line x1="612.6" y1="164.8" x2="612.6" y2="177.7" stroke="#000" stroke-width="1"/>
<path d="M610.4 175.5 612.6 181 614.8 175.5 612.6 177 Z" stroke="none" stroke-width="1" fill="#000"/>
<path d="M476 200.5l.5 0 .5 0 .5 0 .5 0 .5 0 .5 0 .5-.1 .5 0 .5 0 .5 0 .5 0 .5 0 .5 0 .5 0 .5 0 .5 0 .5 0 .5-.1 .5 0 .5 0 .5 0 .5 0 .5 0 .5 0 .5 0 .5-.1 .5 0 .5 0 .5 0 .5 0 .5 0 .5-.1 .5 0 .5 0 .5 0 .5 0 .5-.1 .5 0 .5 0 .5 0 .5-.1 .5 0 .5 0 .5 0 .5-.1 .5 0 .5 0 .5-.1 .5 0 .5 0 .5-.1 .5 0 .5 0 .5-.1 .5 0 .5-.1 .5 0 .5 0 .5-.1 .5 0 .5-.1 .5 0 .5-.1 .5-.1 .5 0 .5-.1 .5 0 .5-.1 .5-.1 .5-.1 .5 0 .5-.1 .5-.1 .5-.1 .5-.1 .5-.1 .5-.1 .5-.1 .5-.1 .5-.1 .5-.1 .5-.2 .5-.1 .5-.1 .5-.2 .5-.1 .5-.2 .5-.2 .5-.1 .5-.2 .5-.2 .5-.2 .5-.3 .5-.2 .5-.3 .5-.2 .5-.3 .5-.3 .5-.3 .5-.4 .5-.3 .5-.4 .5-.4 .5-.4 .5-.5 .5-.5 .5-.6 .5-.6 .5-.6 .5-.7 .5-.8 .5-.9 .5-.9 .5-1.1 .5-1.1 .5-1.3 .5-1.5 .5-1.6 .5-1.8 .5-2 .5-2.2 .5-2.6 .5-2.8 .5-3.1 .5-3.5 .5-3.8 .5-4.3 .5-4.6 .5-5.1 .5-5.5 .5-6 .5-6.4 .5-6.7 .5-7.1 .5-7.4 .5-7.6 .5-7.5 .5-7.4 .5-6.9 .5-6.3 .5-5.3 .5-4 .5-2.6 .5-.9 .5 .9 .5 2.8 .5 4.3 .5 5.7 .5 6.8 .5 7.5 .5 7.8 .5 8 .5 7.9 .5 7.7 .5 7.3 .5 6.8 .5 6.3 .5 5.7 .5 5.1 .5 4.5 .5 3.8 .5 3.3 .5 2.6 .5 2 .5 1.5 .5 .9 .5 .4 .5 0 .5-.6 .5-.9 .5-1.3 .5-1.6 .5-1.8 .5-2.1 .5-2.3 .5-2.3 .5-2.4 .5-2.3 .5-2.2 .5-2 .5-1.7 .5-1.5 .5-1 .5-.6 .5-.2 .5 .4 .5 .8 .5 1.3 .5 1.7 .5 2.1 .5 2.5 .5 2.7 .5 2.9 .5 3.1 .5 3.1 .5 3.2 .5 3.2 .5 3.1 .5 2.9 .5 2.8 .5 2.7 .5 2.4 .5 2.3 .5 2.1 .5 1.8 .5 1.7 .5 1.4 .5 1.3 .5 1.2 .5 .9 .5 .9 .5 .7 .5 .6 .5 .5 .5 .5 .5 .4 .5 .3 .5 .3 .5 .2 .5 .2 .5 .2 .5 .2 .5 .1 .5 .1 .5 .2 .5 .1 .5 .1 .5 .1 .5 .1 .5 0 .5 .1 .5 .1 .5 0 .5 .1 .5 .1 .5 0 .5 .1 .5 0 .5 .1 .5 0 .5 .1 .5 0 .5 0 .5 0 .5 0 .5 0 .5-.1 .5 0 .5-.1 .5-.1 .5-.2 .5-.2 .5-.2 .5-.3 .5-.3 .5-.4 .5-.4 .5-.5 .5-.5 .5-.6 .5-.6 .5-.6 .5-.7 .5-.6 .5-.7 .5-.6 .5-.6 .5-.5 .5-.5 .5-.3 .5-.3 .5-.1 .5-.1 .5 .1 .5 .2 .5 .3 .5 .4 .5 .5 .5 .5 .5 .6 .5 .7 .5 .7 .5 .7 .5 .6 .5 .7 .5 .7 .5 .6 .5 .6 .5 .5 .5 .4 .5 .5 .5 .3 .5 .3 .5 .3 .5 .2 .5 .2 .5 .2 .5 .1 .5 .1 .5 .1 .5 .1 .5 0 .5 .1 .5 0 .5 0 .5 .1 .5 0 .5 0 .5 0 .5 0 .5 0 .5 0 .5 .1 .5 0 .5 0 .5 0 .5 0 .5 0 .5 0 .5 0 .5 0 .5 0 .5 0 .5 0 .5 0 .5 0 .5 0 .5 0 .5 .1 .5 0 .5 0 .5 0 .5 0 .5 0 .5 0 .5 0 .5 0 .5 0 .5 0 .5 0 .5 0 .5 0 .5 0 .5 0 .5 0 .5 0 .5 0 .5 0 .5 0 .5 0 .5 0 .5 .1 .5 0 .5 0 .5 0 .5 0 .5 0 .5 0 .5 0 .5 0 .5 0 .5 0 .5 0 .5 0 .5 0 .5 0 .5 0 .5 0 .5 0 .5 0 .5 0 .5 0 .5 0 .5 0 .5 0 .5 0 .5 0 .5 0 .5 0 .5 0 .5 0 .5 0 .5 0 .5 0 .5 0 .5 0 .5 0 .5 0 .5 .1 .5 0 .5 0 .5 0 .5 0 .5 0 .5 0 .5 0 .5 0 .5 0" stroke="#ff0000" stroke-width="1" fill="none" stroke-linejoin="round"/>
<line x1="408.6" y1="270" x2="458.1" y2="220.5" stroke="#000" stroke-width="1.2"/>
<line x1="458.1" y1="220.5" x2="476" y2="202.4" stroke="#000" stroke-width="1.1" stroke-dasharray="6.5 4"/>
<path d="M458.5 222.9l0-1 1-.1 1 0 1 0 1-.1 1 0 1-.1 1 0 1-.1 1-.1 1-.1 1 0 1-.1 1-.1 1-.1 1-.1 1-.1 1-.1 1-.1 1-.1 1-.2 1-.1 1-.1 1-.1 1-.2 1-.1 1-.2 1-.1 1-.2 1-.1 1-.2 1-.2 1-.2 1-.2 1-.2 1-.2 1-.2 1-.2 1-.2 1-.3 1-.2 1-.2 1-.3 1-.3 1-.2 1-.4 1-.3 1-.4 1-.4 1-.6 1-.6 1-.7 1-.8 1-1 1-1.3 1-1.4 1-1.9 1-2.2 1-2.7 1-3.2 1-3.7 1-4.4 1-4.9 1-5.5 1-6 1-6.2 1-5.9 1-5.2 1-3.7 1-1.7 1 .7 1 2.9 1 4.8 1 6.1 1 6.6 1 6.6 1 6.2 1 5.4 1 4.3 1 3.2 1 1.9 1 .7 1-.4 1-1.5 1-2.2 1-2.7 1-2.9 1-2.7 1-2.2 1-1.3 1-.2 1 1 1 2 1 2.9 1 3.5 1 3.8 1 3.9 1 3.7 1 3.3 1 2.9 1 2.4 1 2 1 1.5 1 1.2 1 .9 1 .6 1 .5 1 .3 1 .3 1 .2 1 .1 1 .1 1 .1 1 .1 1 0 1 .1 1 0 1 .1 1 0 1 0 1 .1 1 0 1 0 1-.1 1-.1 1-.1 1-.2 1-.3 1-.3 1-.3 1-.3 1-.3 1-.2 1-.2 1 0 1 .2 1 .2 1 .3 1 .3 1 .4 1 .3 1 .3 1 .3 1 .3 1 .1 1 .2 1 0 1 .1 1 0 1 .1 1 0 1 0 1 0 1 0 1 0 1 0 1 0 1 0 1 0 1 0 1 0 1 0 1 0 1 0 1 0 1 0 1 0 1 0 1 0 1 0 1 0 1 0 1 0 1 0 1 0 1 0 1 0 1 .1 1 0 1 0 1 0 1 0 1 0 1 0 1 0 1 0 1 0 1 0 1 0 1 0 1 0 0 .5" stroke="none" stroke-width="1" fill="#fff"/>
<path d="M458.5 221.9l1-.1 1 0 1 0 1-.1 1 0 1-.1 1 0 1-.1 1-.1 1-.1 1 0 1-.1 1-.1 1-.1 1-.1 1-.1 1-.1 1-.1 1-.1 1-.2 1-.1 1-.1 1-.1 1-.2 1-.1 1-.2 1-.1 1-.2 1-.1 1-.2 1-.2 1-.2 1-.2 1-.2 1-.2 1-.2 1-.2 1-.2 1-.3 1-.2 1-.2 1-.3 1-.3 1-.2 1-.4 1-.3 1-.4 1-.4 1-.6 1-.6 1-.7 1-.8 1-1 1-1.3 1-1.4 1-1.9 1-2.2 1-2.7 1-3.2 1-3.7 1-4.4 1-4.9 1-5.5 1-6 1-6.2 1-5.9 1-5.2 1-3.7 1-1.7 1 .7 1 2.9 1 4.8 1 6.1 1 6.6 1 6.6 1 6.2 1 5.4 1 4.3 1 3.2 1 1.9 1 .7 1-.4 1-1.5 1-2.2 1-2.7 1-2.9 1-2.7 1-2.2 1-1.3 1-.2 1 1 1 2 1 2.9 1 3.5 1 3.8 1 3.9 1 3.7 1 3.3 1 2.9 1 2.4 1 2 1 1.5 1 1.2 1 .9 1 .6 1 .5 1 .3 1 .3 1 .2 1 .1 1 .1 1 .1 1 .1 1 0 1 .1 1 0 1 .1 1 0 1 0 1 .1 1 0 1 0 1-.1 1-.1 1-.1 1-.2 1-.3 1-.3 1-.3 1-.3 1-.3 1-.2 1-.2 1 0 1 .2 1 .2 1 .3 1 .3 1 .4 1 .3 1 .3 1 .3 1 .3 1 .1 1 .2 1 0 1 .1 1 0 1 .1 1 0 1 0 1 0 1 0 1 0 1 0 1 0 1 0 1 0 1 0 1 0 1 0 1 0 1 0 1 0 1 0 1 0 1 0 1 0 1 0 1 0 1 0 1 0 1 0 1 0 1 0 1 0 1 .1 1 0 1 0 1 0 1 0 1 0 1 0 1 0 1 0 1 0 1 0 1 0 1 0 1 0" stroke="#ff0000" stroke-width="1.0" fill="none" stroke-linejoin="round"/>
<path d="M456.8 224.6l0-1.1 1-.1 1 0 1-.1 1 0 1-.1 1-.1 1 0 1-.1 1-.1 1-.1 1-.1 1-.1 1-.1 1-.1 1-.2 1-.1 1-.1 1-.2 1-.1 1-.2 1-.2 1-.2 1-.1 1-.2 1-.2 1-.2 1-.3 1-.2 1-.2 1-.2 1-.3 1-.2 1-.2 1-.3 1-.2 1-.3 1-.2 1-.3 1-.3 1-.3 1-.3 1-.3 1-.4 1-.4 1-.4 1-.5 1-.5 1-.6 1-.7 1-.8 1-.9 1-1 1-1.3 1-1.6 1-1.9 1-2.4 1-2.8 1-3.4 1-4.1 1-4.7 1-5.6 1-6.3 1-7.1 1-7.6 1-7.9 1-7.6 1-6.6 1-4.8 1-2.1 1 .9 1 3.8 1 6.1 1 7.7 1 8.4 1 8.5 1 7.8 1 6.9 1 5.5 1 4 1 2.4 1 .8 1-.6 1-2 1-3 1-3.6 1-3.8 1-3.6 1-2.8 1-1.8 1-.3 1 1.3 1 2.6 1 3.9 1 4.6 1 5 1 5.1 1 4.9 1 4.4 1 3.8 1 3.2 1 2.6 1 2 1 1.5 1 1.1 1 .9 1 .5 1 .5 1 .3 1 .2 1 .1 1 .2 1 .1 1 .1 1 .1 1 .1 1 .1 1 .1 1 .1 1 0 1 0 1 0 1 0 1-.2 1-.2 1-.2 1-.4 1-.4 1-.5 1-.6 1-.5 1-.5 1-.3 1-.2 1 0 1 .1 1 .4 1 .5 1 .5 1 .6 1 .6 1 .5 1 .4 1 .4 1 .3 1 .2 1 .1 1 .1 1 .1 1 0 1 0 1 .1 1 0 1 0 1 0 1 0 1 0 1 0 1 0 1 0 1 0 1 0 1 0 1 0 1 0 1 0 1 0 1 0 1 0 1 0 1 0 1 .1 1 0 1 0 1 0 1 0 1 0 1 0 1 0 1 0 1 0 1 0 1 0 1 0 1 0 1 0 1 0 1-.1 1 0 1 0 1 0 0 .7" stroke="none" stroke-width="1" fill="#fff"/>
<path d="M456.8 223.5l1-.1 1 0 1-.1 1 0 1-.1 1-.1 1 0 1-.1 1-.1 1-.1 1-.1 1-.1 1-.1 1-.1 1-.2 1-.1 1-.1 1-.2 1-.1 1-.2 1-.2 1-.2 1-.1 1-.2 1-.2 1-.2 1-.3 1-.2 1-.2 1-.2 1-.3 1-.2 1-.2 1-.3 1-.2 1-.3 1-.2 1-.3 1-.3 1-.3 1-.3 1-.3 1-.4 1-.4 1-.4 1-.5 1-.5 1-.6 1-.7 1-.8 1-.9 1-1 1-1.3 1-1.6 1-1.9 1-2.4 1-2.8 1-3.4 1-4.1 1-4.7 1-5.6 1-6.3 1-7.1 1-7.6 1-7.9 1-7.6 1-6.6 1-4.8 1-2.1 1 .9 1 3.8 1 6.1 1 7.7 1 8.4 1 8.5 1 7.8 1 6.9 1 5.5 1 4 1 2.4 1 .8 1-.6 1-2 1-3 1-3.6 1-3.8 1-3.6 1-2.8 1-1.8 1-.3 1 1.3 1 2.6 1 3.9 1 4.6 1 5 1 5.1 1 4.9 1 4.4 1 3.8 1 3.2 1 2.6 1 2 1 1.5 1 1.1 1 .9 1 .5 1 .5 1 .3 1 .2 1 .1 1 .2 1 .1 1 .1 1 .1 1 .1 1 .1 1 .1 1 .1 1 0 1 0 1 0 1 0 1-.2 1-.2 1-.2 1-.4 1-.4 1-.5 1-.6 1-.5 1-.5 1-.3 1-.2 1 0 1 .1 1 .4 1 .5 1 .5 1 .6 1 .6 1 .5 1 .4 1 .4 1 .3 1 .2 1 .1 1 .1 1 .1 1 0 1 0 1 .1 1 0 1 0 1 0 1 0 1 0 1 0 1 0 1 0 1 0 1 0 1 0 1 0 1 0 1 0 1 0 1 0 1 0 1 0 1 0 1 .1 1 0 1 0 1 0 1 0 1 0 1 0 1 0 1 0 1 0 1 0 1 0 1 0 1 0 1 0 1 0 1-.1 1 0 1 0 1 0" stroke="#ff0000" stroke-width="1.0" fill="none" stroke-linejoin="round"/>
<path d="M455.2 226.2l0-1.3 1 0 1 0 1-.1 1 0 1-.1 1-.1 1-.1 1-.1 1-.1 1-.1 1-.1 1-.1 1-.1 1-.2 1-.1 1-.2 1-.2 1-.2 1-.2 1-.2 1-.2 1-.2 1-.2 1-.2 1-.3 1-.2 1-.3 1-.2 1-.3 1-.3 1-.2 1-.3 1-.3 1-.3 1-.3 1-.3 1-.3 1-.4 1-.3 1-.4 1-.3 1-.4 1-.4 1-.5 1-.5 1-.5 1-.6 1-.7 1-.8 1-.9 1-1.1 1-1.3 1-1.6 1-1.9 1-2.3 1-2.7 1-3.4 1-4.1 1-4.9 1-5.8 1-6.6 1-7.6 1-8.5 1-9.1 1-9.5 1-9.1 1-7.9 1-5.7 1-2.5 1 1 1 4.5 1 7.4 1 9.2 1 10 1 10.1 1 9.4 1 8.2 1 6.6 1 4.7 1 2.8 1 .9 1-.9 1-2.5 1-3.7 1-4.4 1-4.7 1-4.3 1-3.5 1-2.1 1-.3 1 1.5 1 3.3 1 4.6 1 5.6 1 6.2 1 6.2 1 5.9 1 5.3 1 4.7 1 3.8 1 3.2 1 2.4 1 1.9 1 1.3 1 1 1 .8 1 .5 1 .4 1 .2 1 .3 1 .1 1 .2 1 .1 1 .2 1 .1 1 .1 1 0 1 .1 1 .1 1 0 1 0 1-.1 1-.2 1-.3 1-.3 1-.6 1-.6 1-.7 1-.8 1-.8 1-.7 1-.5 1-.3 1 0 1 .3 1 .5 1 .7 1 .8 1 .8 1 .8 1 .7 1 .6 1 .5 1 .4 1 .2 1 .2 1 .2 1 0 1 .1 1 0 1 .1 1 0 1 0 1 0 1 0 1 .1 1 0 1 0 1 0 1 0 1 0 1 0 1 0 1 0 1 0 1 0 1 0 1 0 1 0 1 0 1 .1 1 0 1 0 1 0 1 0 1 0 1 0 1 0 1 0 1 0 1 0 1 0 1 0 1 0 1 0 1 0 1 0 1 0 1 0 1 0 0 .6" stroke="none" stroke-width="1" fill="#fff"/>
<path d="M455.2 224.9l1 0 1 0 1-.1 1 0 1-.1 1-.1 1-.1 1-.1 1-.1 1-.1 1-.1 1-.1 1-.1 1-.2 1-.1 1-.2 1-.2 1-.2 1-.2 1-.2 1-.2 1-.2 1-.2 1-.2 1-.3 1-.2 1-.3 1-.2 1-.3 1-.3 1-.2 1-.3 1-.3 1-.3 1-.3 1-.3 1-.3 1-.4 1-.3 1-.4 1-.3 1-.4 1-.4 1-.5 1-.5 1-.5 1-.6 1-.7 1-.8 1-.9 1-1.1 1-1.3 1-1.6 1-1.9 1-2.3 1-2.7 1-3.4 1-4.1 1-4.9 1-5.8 1-6.6 1-7.6 1-8.5 1-9.1 1-9.5 1-9.1 1-7.9 1-5.7 1-2.5 1 1 1 4.5 1 7.4 1 9.2 1 10 1 10.1 1 9.4 1 8.2 1 6.6 1 4.7 1 2.8 1 .9 1-.9 1-2.5 1-3.7 1-4.4 1-4.7 1-4.3 1-3.5 1-2.1 1-.3 1 1.5 1 3.3 1 4.6 1 5.6 1 6.2 1 6.2 1 5.9 1 5.3 1 4.7 1 3.8 1 3.2 1 2.4 1 1.9 1 1.3 1 1 1 .8 1 .5 1 .4 1 .2 1 .3 1 .1 1 .2 1 .1 1 .2 1 .1 1 .1 1 0 1 .1 1 .1 1 0 1 0 1-.1 1-.2 1-.3 1-.3 1-.6 1-.6 1-.7 1-.8 1-.8 1-.7 1-.5 1-.3 1 0 1 .3 1 .5 1 .7 1 .8 1 .8 1 .8 1 .7 1 .6 1 .5 1 .4 1 .2 1 .2 1 .2 1 0 1 .1 1 0 1 .1 1 0 1 0 1 0 1 0 1 .1 1 0 1 0 1 0 1 0 1 0 1 0 1 0 1 0 1 0 1 0 1 0 1 0 1 0 1 0 1 .1 1 0 1 0 1 0 1 0 1 0 1 0 1 0 1 0 1 0 1 0 1 0 1 0 1 0 1 0 1 0 1 0 1 0 1 0 1 0" stroke="#ff0000" stroke-width="1.0" fill="none" stroke-linejoin="round"/>
<path d="M453.6 227.8l0-1.3 1-.1 1 0 1-.1 1 0 1-.1 1-.1 1-.1 1-.1 1-.1 1-.1 1-.2 1-.1 1-.2 1-.1 1-.2 1-.2 1-.2 1-.2 1-.2 1-.3 1-.2 1-.2 1-.3 1-.2 1-.3 1-.2 1-.3 1-.3 1-.3 1-.3 1-.3 1-.4 1-.3 1-.3 1-.4 1-.4 1-.3 1-.4 1-.4 1-.5 1-.4 1-.4 1-.5 1-.5 1-.6 1-.6 1-.7 1-.7 1-.9 1-1.1 1-1.2 1-1.5 1-1.8 1-2.1 1-2.6 1-3.2 1-3.8 1-4.7 1-5.5 1-6.5 1-7.6 1-8.6 1-9.6 1-10.4 1-10.7 1-10.3 1-9 1-6.5 1-2.9 1 1.2 1 5.1 1 8.4 1 10.5 1 11.4 1 11.5 1 10.6 1 9.3 1 7.5 1 5.4 1 3.2 1 1 1-1 1-2.8 1-4.1 1-5 1-5.3 1-4.9 1-3.9 1-2.4 1-.4 1 1.7 1 3.7 1 5.3 1 6.3 1 6.9 1 7 1 6.7 1 6.1 1 5.2 1 4.4 1 3.6 1 2.7 1 2.1 1 1.6 1 1.1 1 .8 1 .6 1 .5 1 .3 1 .3 1 .2 1 .2 1 .1 1 .2 1 .1 1 .1 1 0 1 .1 1 0 1 0 1 0 1-.2 1-.2 1-.3 1-.5 1-.7 1-.9 1-.9 1-1 1-1 1-.9 1-.7 1-.4 1 0 1 .3 1 .6 1 .9 1 1.1 1 1.1 1 1 1 1 1 .8 1 .6 1 .5 1 .3 1 .3 1 .1 1 .2 1 0 1 .1 1 0 1 0 1 0 1 .1 1 0 1 0 1 0 1 .1 1 0 1 0 1 0 1 0 1 0 1 0 1 0 1-.1 1 0 1 0 1 0 1 0 1 0 1 .1 1 0 1 0 1 0 1 0 1 .1 1 0 1 0 1 0 1-.1 1 0 1 0 1 0 1 0 1 0 1 0 1 0 1 0 1 .1 0 .5" stroke="none" stroke-width="1" fill="#fff"/>
<path d="M453.6 226.5l1-.1 1 0 1-.1 1 0 1-.1 1-.1 1-.1 1-.1 1-.1 1-.1 1-.2 1-.1 1-.2 1-.1 1-.2 1-.2 1-.2 1-.2 1-.2 1-.3 1-.2 1-.2 1-.3 1-.2 1-.3 1-.2 1-.3 1-.3 1-.3 1-.3 1-.3 1-.4 1-.3 1-.3 1-.4 1-.4 1-.3 1-.4 1-.4 1-.5 1-.4 1-.4 1-.5 1-.5 1-.6 1-.6 1-.7 1-.7 1-.9 1-1.1 1-1.2 1-1.5 1-1.8 1-2.1 1-2.6 1-3.2 1-3.8 1-4.7 1-5.5 1-6.5 1-7.6 1-8.6 1-9.6 1-10.4 1-10.7 1-10.3 1-9 1-6.5 1-2.9 1 1.2 1 5.1 1 8.4 1 10.5 1 11.4 1 11.5 1 10.6 1 9.3 1 7.5 1 5.4 1 3.2 1 1 1-1 1-2.8 1-4.1 1-5 1-5.3 1-4.9 1-3.9 1-2.4 1-.4 1 1.7 1 3.7 1 5.3 1 6.3 1 6.9 1 7 1 6.7 1 6.1 1 5.2 1 4.4 1 3.6 1 2.7 1 2.1 1 1.6 1 1.1 1 .8 1 .6 1 .5 1 .3 1 .3 1 .2 1 .2 1 .1 1 .2 1 .1 1 .1 1 0 1 .1 1 0 1 0 1 0 1-.2 1-.2 1-.3 1-.5 1-.7 1-.9 1-.9 1-1 1-1 1-.9 1-.7 1-.4 1 0 1 .3 1 .6 1 .9 1 1.1 1 1.1 1 1 1 1 1 .8 1 .6 1 .5 1 .3 1 .3 1 .1 1 .2 1 0 1 .1 1 0 1 0 1 0 1 .1 1 0 1 0 1 0 1 .1 1 0 1 0 1 0 1 0 1 0 1 0 1 0 1-.1 1 0 1 0 1 0 1 0 1 0 1 .1 1 0 1 0 1 0 1 0 1 .1 1 0 1 0 1 0 1-.1 1 0 1 0 1 0 1 0 1 0 1 0 1 0 1 0 1 .1" stroke="#ff0000" stroke-width="1.0" fill="none" stroke-linejoin="round"/>
<path d="M451.9 229.5l0-1.4 1-.1 1 0 1-.1 1-.1 1-.1 1 0 1-.1 1-.1 1-.2 1-.1 1-.2 1-.1 1-.2 1-.2 1-.2 1-.2 1-.2 1-.2 1-.2 1-.3 1-.2 1-.3 1-.2 1-.3 1-.3 1-.3 1-.3 1-.3 1-.3 1-.3 1-.4 1-.3 1-.4 1-.3 1-.4 1-.4 1-.4 1-.4 1-.4 1-.4 1-.5 1-.5 1-.5 1-.6 1-.6 1-.7 1-.8 1-.9 1-1 1-1.1 1-1.4 1-1.6 1-1.9 1-2.3 1-2.8 1-3.4 1-4.1 1-5 1-6 1-7.1 1-8.2 1-9.3 1-10.4 1-11.2 1-11.6 1-11.2 1-9.7 1-7 1-3.1 1 1.2 1 5.6 1 9 1 11.3 1 12.5 1 12.4 1 11.6 1 10.2 1 8.1 1 6 1 3.5 1 1.3 1-1 1-2.8 1-4.2 1-5.2 1-5.5 1-5.1 1-4.1 1-2.5 1-.4 1 1.8 1 3.8 1 5.6 1 6.6 1 7.3 1 7.4 1 7 1 6.3 1 5.6 1 4.6 1 3.7 1 2.9 1 2.2 1 1.6 1 1.2 1 .9 1 .6 1 .5 1 .3 1 .3 1 .2 1 .2 1 .2 1 .1 1 .1 1 .1 1 .1 1 .1 1 0 1 0 1-.1 1-.1 1-.3 1-.4 1-.6 1-.8 1-1 1-1.1 1-1.2 1-1.1 1-1.1 1-.8 1-.4 1-.1 1 .4 1 .7 1 1 1 1.2 1 1.3 1 1.2 1 1.2 1 .9 1 .8 1 .5 1 .4 1 .3 1 .2 1 .1 1 .1 1 0 1 .1 1 0 1 .1 1 0 1 0 1 .1 1 0 1 0 1 0 1 0 1 0 1 0 1 0 1 0 1 0 1 0 1 0 1 0 1 0 1 0 1 0 1 0 1 0 1 0 1 .1 1 0 1 0 1 0 1 0 1 0 1 0 1 0 1 0 1 0 1 0 1 0 1 0 1 0 1 0 1 0 0 .6" stroke="none" stroke-width="1" fill="#fff"/>
<path d="M451.9 228.1l1-.1 1 0 1-.1 1-.1 1-.1 1 0 1-.1 1-.1 1-.2 1-.1 1-.2 1-.1 1-.2 1-.2 1-.2 1-.2 1-.2 1-.2 1-.2 1-.3 1-.2 1-.3 1-.2 1-.3 1-.3 1-.3 1-.3 1-.3 1-.3 1-.3 1-.4 1-.3 1-.4 1-.3 1-.4 1-.4 1-.4 1-.4 1-.4 1-.4 1-.5 1-.5 1-.5 1-.6 1-.6 1-.7 1-.8 1-.9 1-1 1-1.1 1-1.4 1-1.6 1-1.9 1-2.3 1-2.8 1-3.4 1-4.1 1-5 1-6 1-7.1 1-8.2 1-9.3 1-10.4 1-11.2 1-11.6 1-11.2 1-9.7 1-7 1-3.1 1 1.2 1 5.6 1 9 1 11.3 1 12.5 1 12.4 1 11.6 1 10.2 1 8.1 1 6 1 3.5 1 1.3 1-1 1-2.8 1-4.2 1-5.2 1-5.5 1-5.1 1-4.1 1-2.5 1-.4 1 1.8 1 3.8 1 5.6 1 6.6 1 7.3 1 7.4 1 7 1 6.3 1 5.6 1 4.6 1 3.7 1 2.9 1 2.2 1 1.6 1 1.2 1 .9 1 .6 1 .5 1 .3 1 .3 1 .2 1 .2 1 .2 1 .1 1 .1 1 .1 1 .1 1 .1 1 0 1 0 1-.1 1-.1 1-.3 1-.4 1-.6 1-.8 1-1 1-1.1 1-1.2 1-1.1 1-1.1 1-.8 1-.4 1-.1 1 .4 1 .7 1 1 1 1.2 1 1.3 1 1.2 1 1.2 1 .9 1 .8 1 .5 1 .4 1 .3 1 .2 1 .1 1 .1 1 0 1 .1 1 0 1 .1 1 0 1 0 1 .1 1 0 1 0 1 0 1 0 1 0 1 0 1 0 1 0 1 0 1 0 1 0 1 0 1 0 1 0 1 0 1 0 1 0 1 0 1 .1 1 0 1 0 1 0 1 0 1 0 1 0 1 0 1 0 1 0 1 0 1 0 1 0 1 0 1 0 1 0" stroke="#ff0000" stroke-width="1.0" fill="none" stroke-linejoin="round"/>
<path d="M450.3 231.2l0-1.4 1-.1 1-.1 1-.1 1-.1 1-.1 1-.1 1-.1 1-.1 1-.1 1-.1 1-.2 1-.2 1-.1 1-.2 1-.2 1-.2 1-.2 1-.3 1-.2 1-.2 1-.2 1-.3 1-.3 1-.3 1-.3 1-.3 1-.3 1-.4 1-.3 1-.4 1-.3 1-.4 1-.3 1-.4 1-.3 1-.4 1-.4 1-.5 1-.4 1-.5 1-.4 1-.6 1-.5 1-.6 1-.6 1-.7 1-.8 1-.8 1-1 1-1.2 1-1.4 1-1.6 1-2 1-2.4 1-2.9 1-3.6 1-4.3 1-5.2 1-6.2 1-7.3 1-8.4 .9-9.6 1-10.7 1-11.6 1-11.9 1-11.6 1-10 1-7.2 1-3.2 1 1.3 1 5.7 1 9.4 1 11.7 1 12.9 1 12.9 1 12 1 10.5 1 8.6 1 6.3 1 3.9 1 1.5 1-.6 1-2.6 1-4 1-4.9 1-5.3 1-4.9 1-4 1-2.3 1-.4 1 1.8 1 3.8 1 5.4 1 6.5 1 7.2 1 7.1 1 6.9 1 6.2 1 5.4 1 4.5 1 3.6 1 2.9 1 2.1 1 1.6 1 1.1 1 .9 1 .6 1 .4 1 .4 1 .2 1 .3 1 .2 1 .1 1 .1 1 .2 1 .1 1 .1 1 0 1 .1 1 0 1-.1 1-.2 1-.3 1-.4 1-.6 1-.8 1-1 1-1.2 1-1.2 1-1.2 1-1.1 1-.8 1-.5 1 0 1 .3 1 .8 1 1.1 1 1.2 1 1.3 1 1.3 1 1.1 1 .9 1 .8 1 .6 1 .4 1 .2 1 .2 1 .2 1 .1 1 0 1 .1 1 0 1 0 1 0 1 .1 1 0 1 0 1 0 1 0 1 .1 1 0 1 0 1 0 1 0 1 0 1 0 1 0 1 .1 1 0 1 0 1 0 1 0 1 0 1 0 1 0 1 0 1 0 1 .1 1 0 1 0 1 0 1 0 1 0 1 0 1 0 1 0 1-.1 1 0 1 0 1 0 0 .7" stroke="none" stroke-width="1" fill="#fff"/>
<path d="M450.3 229.8l1-.1 1-.1 1-.1 1-.1 1-.1 1-.1 1-.1 1-.1 1-.1 1-.1 1-.2 1-.2 1-.1 1-.2 1-.2 1-.2 1-.2 1-.3 1-.2 1-.2 1-.2 1-.3 1-.3 1-.3 1-.3 1-.3 1-.3 1-.4 1-.3 1-.4 1-.3 1-.4 1-.3 1-.4 1-.3 1-.4 1-.4 1-.5 1-.4 1-.5 1-.4 1-.6 1-.5 1-.6 1-.6 1-.7 1-.8 1-.8 1-1 1-1.2 1-1.4 1-1.6 1-2 1-2.4 1-2.9 1-3.6 1-4.3 1-5.2 1-6.2 1-7.3 1-8.4 .9-9.6 1-10.7 1-11.6 1-11.9 1-11.6 1-10 1-7.2 1-3.2 1 1.3 1 5.7 1 9.4 1 11.7 1 12.9 1 12.9 1 12 1 10.5 1 8.6 1 6.3 1 3.9 1 1.5 1-.6 1-2.6 1-4 1-4.9 1-5.3 1-4.9 1-4 1-2.3 1-.4 1 1.8 1 3.8 1 5.4 1 6.5 1 7.2 1 7.1 1 6.9 1 6.2 1 5.4 1 4.5 1 3.6 1 2.9 1 2.1 1 1.6 1 1.1 1 .9 1 .6 1 .4 1 .4 1 .2 1 .3 1 .2 1 .1 1 .1 1 .2 1 .1 1 .1 1 0 1 .1 1 0 1-.1 1-.2 1-.3 1-.4 1-.6 1-.8 1-1 1-1.2 1-1.2 1-1.2 1-1.1 1-.8 1-.5 1 0 1 .3 1 .8 1 1.1 1 1.2 1 1.3 1 1.3 1 1.1 1 .9 1 .8 1 .6 1 .4 1 .2 1 .2 1 .2 1 .1 1 0 1 .1 1 0 1 0 1 0 1 .1 1 0 1 0 1 0 1 0 1 .1 1 0 1 0 1 0 1 0 1 0 1 0 1 0 1 .1 1 0 1 0 1 0 1 0 1 0 1 0 1 0 1 0 1 0 1 .1 1 0 1 0 1 0 1 0 1 0 1 0 1 0 1 0 1-.1 1 0 1 0 1 0" stroke="#ff0000" stroke-width="1.0" fill="none" stroke-linejoin="round"/>
<path d="M448.6 232.8l0-1.4 1 0 1-.1 1-.1 1-.1 1-.1 1-.1 1-.1 1-.2 1-.1 1-.2 1-.1 1-.2 1-.2 1-.2 1-.2 1-.2 1-.3 1-.2 1-.3 1-.2 1-.3 1-.2 1-.3 1-.3 1-.3 1-.3 1-.3 1-.4 1-.3 1-.4 1-.3 1-.4 1-.4 1-.4 1-.4 1-.4 1-.4 1-.5 1-.5 1-.5 1-.5 1-.5 1-.5 1-.6 1-.7 1-.7 1-.9 1-.9 1-1 1-1.3 1-1.4 1-1.7 1-2.1 1-2.5 1-3.1 1-3.7 1-4.5 1-5.4 1-6.5 1-7.6 1-8.9 1-10.1 1-11.2 1-12.1 1-12.5 1-12.1 1-10.5 1-7.6 1-3.3 1 1.4 1 6 1 9.9 1 12.3 1 13.6 1 13.6 1 12.8 1 11.2 1 9.3 1 7 1 4.6 1 2.2 1 .1 1-1.8 1-3.3 1-4.2 1-4.6 1-4.3 1-3.5 1-2 1-.2 1 1.6 1 3.5 1 5 1 6 1 6.5 1 6.6 1 6.3 1 5.7 1 4.9 1 4.1 1 3.3 1 2.6 1 2 1 1.5 1 1 1 .8 1 .6 1 .4 1 .4 1 .2 1 .2 1 .2 1 .1 1 .2 1 .1 1 .1 1 .1 1 0 1 .1 1 0 1-.1 1-.1 1-.3 1-.4 1-.6 1-.7 1-.9 1-1 1-1.1 1-1.1 1-1 1-.7 1-.4 1 0 1 .3 1 .7 1 1 1 1.1 1 1.2 1 1.1 1 1.1 1 .8 1 .7 1 .6 1 .3 1 .3 1 .1 1 .1 1 .1 1 0 1 .1 1 0 1 0 1 0 1 0 1 .1 1 0 1 0 1 0 1 0 1 0 1 0 1 0 1 .1 1 0 1 0 1 0 1 0 1 0 1 0 1 0 1 0 1 0 1 .1 1 0 1 0 1 0 1 .1 1 0 1 0 1-.1 1 0 1 0 1 0 1 0 1 0 1 0 1 0 1 0 1 0 0 .6" stroke="none" stroke-width="1" fill="#fff"/>
<path d="M448.6 231.4l1 0 1-.1 1-.1 1-.1 1-.1 1-.1 1-.1 1-.2 1-.1 1-.2 1-.1 1-.2 1-.2 1-.2 1-.2 1-.2 1-.3 1-.2 1-.3 1-.2 1-.3 1-.2 1-.3 1-.3 1-.3 1-.3 1-.3 1-.4 1-.3 1-.4 1-.3 1-.4 1-.4 1-.4 1-.4 1-.4 1-.4 1-.5 1-.5 1-.5 1-.5 1-.5 1-.5 1-.6 1-.7 1-.7 1-.9 1-.9 1-1 1-1.3 1-1.4 1-1.7 1-2.1 1-2.5 1-3.1 1-3.7 1-4.5 1-5.4 1-6.5 1-7.6 1-8.9 1-10.1 1-11.2 1-12.1 1-12.5 1-12.1 1-10.5 1-7.6 1-3.3 1 1.4 1 6 1 9.9 1 12.3 1 13.6 1 13.6 1 12.8 1 11.2 1 9.3 1 7 1 4.6 1 2.2 1 .1 1-1.8 1-3.3 1-4.2 1-4.6 1-4.3 1-3.5 1-2 1-.2 1 1.6 1 3.5 1 5 1 6 1 6.5 1 6.6 1 6.3 1 5.7 1 4.9 1 4.1 1 3.3 1 2.6 1 2 1 1.5 1 1 1 .8 1 .6 1 .4 1 .4 1 .2 1 .2 1 .2 1 .1 1 .2 1 .1 1 .1 1 .1 1 0 1 .1 1 0 1-.1 1-.1 1-.3 1-.4 1-.6 1-.7 1-.9 1-1 1-1.1 1-1.1 1-1 1-.7 1-.4 1 0 1 .3 1 .7 1 1 1 1.1 1 1.2 1 1.1 1 1.1 1 .8 1 .7 1 .6 1 .3 1 .3 1 .1 1 .1 1 .1 1 0 1 .1 1 0 1 0 1 0 1 0 1 .1 1 0 1 0 1 0 1 0 1 0 1 0 1 0 1 .1 1 0 1 0 1 0 1 0 1 0 1 0 1 0 1 0 1 0 1 .1 1 0 1 0 1 0 1 .1 1 0 1 0 1-.1 1 0 1 0 1 0 1 0 1 0 1 0 1 0 1 0 1 0" stroke="#ff0000" stroke-width="1.0" fill="none" stroke-linejoin="round"/>
<path d="M447 234.4l0-1.3 1-.1 1-.1 1-.1 1-.1 1-.1 1-.1 1-.1 1-.2 1-.1 1-.2 1-.2 1-.2 1-.1 1-.2 1-.2 1-.3 1-.2 1-.2 1-.3 1-.2 1-.3 1-.2 1-.3 1-.3 1-.3 1-.3 1-.3 1-.4 1-.3 1-.3 1-.4 1-.4 1-.3 1-.4 1-.4 1-.4 1-.5 1-.4 1-.5 1-.5 1-.5 1-.5 1-.6 1-.6 1-.7 1-.8 1-.9 1-.9 1-1.2 1-1.3 1-1.5 1-1.9 1-2.2 1-2.8 1-3.3 1-4.1 1-4.9 1-5.9 1-7 1-8.1 1-9.4 1-10.5 1-11.5 1-12.1 1-12.1 1-11 1-8.7 1-5 1-.5 1 4.2 1 8.3 1 11.3 1 13 1 13.5 1 13 1 11.9 1 10.1 1 8.1 1 5.9 1 3.6 1 1.4 1-.6 1-2.2 1-3.6 1-4.4 1-4.6 1-4.4 1-3.4 1-2.1 1-.3 1 1.6 1 3.3 1 4.8 1 5.7 1 6.3 1 6.3 1 6 1 5.5 1 4.8 1 3.9 1 3.3 1 2.5 1 1.9 1 1.4 1 1 1 .8 1 .5 1 .4 1 .4 1 .2 1 .2 1 .2 1 .1 1 .2 1 .1 1 .1 1 .1 1 0 1 0 1 0 1 0 1-.2 1-.2 1-.3 1-.5 1-.7 1-.8 1-.9 1-1 1-.9 1-.9 1-.6 1-.4 1 0 1 .3 1 .6 1 .8 1 1.1 1 1 1 1 1 1 1 .7 1 .6 1 .5 1 .3 1 .3 1 .1 1 .1 1 0 1 .1 1 0 1 0 1 0 1 0 1 0 1 0 1 0 1 0 1 0 1 0 1 .1 1 0 1 0 1 0 1 .1 1 0 1 0 1 0 1 .1 1 0 1 0 1 0 1 0 1 0 1 0 1 0 1 0 1 0 1 0 1 0 1 0 1 0 1 .1 1 0 1 0 1 0 1 0 1 0 1 0 1-.1 0 .6" stroke="none" stroke-width="1" fill="#fff"/>
<path d="M447 233.1l1-.1 1-.1 1-.1 1-.1 1-.1 1-.1 1-.1 1-.2 1-.1 1-.2 1-.2 1-.2 1-.1 1-.2 1-.2 1-.3 1-.2 1-.2 1-.3 1-.2 1-.3 1-.2 1-.3 1-.3 1-.3 1-.3 1-.3 1-.4 1-.3 1-.3 1-.4 1-.4 1-.3 1-.4 1-.4 1-.4 1-.5 1-.4 1-.5 1-.5 1-.5 1-.5 1-.6 1-.6 1-.7 1-.8 1-.9 1-.9 1-1.2 1-1.3 1-1.5 1-1.9 1-2.2 1-2.8 1-3.3 1-4.1 1-4.9 1-5.9 1-7 1-8.1 1-9.4 1-10.5 1-11.5 1-12.1 1-12.1 1-11 1-8.7 1-5 1-.5 1 4.2 1 8.3 1 11.3 1 13 1 13.5 1 13 1 11.9 1 10.1 1 8.1 1 5.9 1 3.6 1 1.4 1-.6 1-2.2 1-3.6 1-4.4 1-4.6 1-4.4 1-3.4 1-2.1 1-.3 1 1.6 1 3.3 1 4.8 1 5.7 1 6.3 1 6.3 1 6 1 5.5 1 4.8 1 3.9 1 3.3 1 2.5 1 1.9 1 1.4 1 1 1 .8 1 .5 1 .4 1 .4 1 .2 1 .2 1 .2 1 .1 1 .2 1 .1 1 .1 1 .1 1 0 1 0 1 0 1 0 1-.2 1-.2 1-.3 1-.5 1-.7 1-.8 1-.9 1-1 1-.9 1-.9 1-.6 1-.4 1 0 1 .3 1 .6 1 .8 1 1.1 1 1 1 1 1 1 1 .7 1 .6 1 .5 1 .3 1 .3 1 .1 1 .1 1 0 1 .1 1 0 1 0 1 0 1 0 1 0 1 0 1 0 1 0 1 0 1 0 1 .1 1 0 1 0 1 0 1 .1 1 0 1 0 1 0 1 .1 1 0 1 0 1 0 1 0 1 0 1 0 1 0 1 0 1 0 1 0 1 0 1 0 1 0 1 .1 1 0 1 0 1 0 1 0 1 0 1 0 1-.1" stroke="#ff0000" stroke-width="1.0" fill="none" stroke-linejoin="round"/>
<path d="M445.3 236.1l0-1.4 1 0 1-.1 1-.1 1-.1 1-.1 1-.1 1-.1 1-.1 1-.2 1-.1 1-.2 1-.2 1-.2 1-.1 1-.2 1-.2 1-.2 1-.2 1-.2 1-.2 1-.2 1-.3 1-.2 1-.3 1-.2 1-.3 1-.2 1-.3 1-.3 1-.3 1-.3 1-.3 1-.4 1-.3 1-.4 1-.4 1-.4 1-.3 1-.5 1-.4 1-.5 1-.5 1-.5 1-.6 1-.6 1-.8 1-.8 1-.9 1-1.1 1-1.3 1-1.5 1-1.8 1-2.3 1-2.7 1-3.3 1-4 1-4.8 1-5.7 1-6.7 1-7.8 1-8.8 1-9.7 1-10.5 1-10.7 1-10.1 1-8.6 1-5.8 1-2 1 2 1 6 1 9 1 10.9 1 11.9 1 11.7 1 11 1 9.8 1 8 1 6.2 1 4.2 1 2.3 1 .4 1-1.2 1-2.6 1-3.7 1-4.2 1-4.5 1-4.1 1-3.2 1-1.9 1-.3 1 1.3 1 3 1 4.3 1 5.2 1 5.7 1 5.7 1 5.4 1 5 1 4.3 1 3.6 1 2.9 1 2.2 1 1.7 1 1.3 1 .9 1 .7 1 .5 1 .3 1 .3 1 .2 1 .2 1 .2 1 .1 1 .2 1 .1 1 0 1 .1 1 .1 1 0 1 0 1 0 1-.2 1-.1 1-.4 1-.4 1-.6 1-.7 1-.8 1-.9 1-.9 1-.8 1-.6 1-.3 1-.1 1 .3 1 .5 1 .7 1 .9 1 1 1 .9 1 .9 1 .7 1 .6 1 .4 1 .3 1 .2 1 .2 1 .1 1 0 1 .1 1 0 1 0 1 .1 1 0 1 0 1-.1 1 0 1 0 1 0 1 0 1 0 1 .1 1 0 1 0 1 0 1 .1 1 0 1 0 1 0 1 0 1 0 1 0 1 0 1 0 1 0 1 0 1 0 1 0 1 0 1 0 1 0 1 0 1 0 1 0 1 0 1 0 1 0 1 .1 1 0 1 0 0 .5" stroke="none" stroke-width="1" fill="#fff"/>
<path d="M445.3 234.7l1 0 1-.1 1-.1 1-.1 1-.1 1-.1 1-.1 1-.1 1-.2 1-.1 1-.2 1-.2 1-.2 1-.1 1-.2 1-.2 1-.2 1-.2 1-.2 1-.2 1-.2 1-.3 1-.2 1-.3 1-.2 1-.3 1-.2 1-.3 1-.3 1-.3 1-.3 1-.3 1-.4 1-.3 1-.4 1-.4 1-.4 1-.3 1-.5 1-.4 1-.5 1-.5 1-.5 1-.6 1-.6 1-.8 1-.8 1-.9 1-1.1 1-1.3 1-1.5 1-1.8 1-2.3 1-2.7 1-3.3 1-4 1-4.8 1-5.7 1-6.7 1-7.8 1-8.8 1-9.7 1-10.5 1-10.7 1-10.1 1-8.6 1-5.8 1-2 1 2 1 6 1 9 1 10.9 1 11.9 1 11.7 1 11 1 9.8 1 8 1 6.2 1 4.2 1 2.3 1 .4 1-1.2 1-2.6 1-3.7 1-4.2 1-4.5 1-4.1 1-3.2 1-1.9 1-.3 1 1.3 1 3 1 4.3 1 5.2 1 5.7 1 5.7 1 5.4 1 5 1 4.3 1 3.6 1 2.9 1 2.2 1 1.7 1 1.3 1 .9 1 .7 1 .5 1 .3 1 .3 1 .2 1 .2 1 .2 1 .1 1 .2 1 .1 1 0 1 .1 1 .1 1 0 1 0 1 0 1-.2 1-.1 1-.4 1-.4 1-.6 1-.7 1-.8 1-.9 1-.9 1-.8 1-.6 1-.3 1-.1 1 .3 1 .5 1 .7 1 .9 1 1 1 .9 1 .9 1 .7 1 .6 1 .4 1 .3 1 .2 1 .2 1 .1 1 0 1 .1 1 0 1 0 1 .1 1 0 1 0 1-.1 1 0 1 0 1 0 1 0 1 0 1 .1 1 0 1 0 1 0 1 .1 1 0 1 0 1 0 1 0 1 0 1 0 1 0 1 0 1 0 1 0 1 0 1 0 1 0 1 0 1 0 1 0 1 0 1 0 1 0 1 0 1 0 1 .1 1 0 1 0" stroke="#ff0000" stroke-width="1.0" fill="none" stroke-linejoin="round"/>
<path d="M443.6 237.8l0-1.3 1-.1 1-.1 1 0 1-.1 1-.1 1-.1 1-.1 1-.1 1-.1 1-.1 1-.1 1-.2 1-.1 1-.2 1-.1 1-.2 1-.2 1-.2 1-.1 1-.2 1-.2 1-.2 1-.2 1-.2 1-.2 1-.3 1-.2 1-.2 1-.3 1-.3 1-.3 1-.3 1-.3 1-.3 1-.3 1-.3 1-.3 1-.3 1-.3 1-.4 1-.4 1-.4 1-.5 1-.5 1-.6 1-.6 1-.8 1-.8 1-1 1-1.2 1-1.4 1-1.8 1-2.1 1-2.5 1-3.2 1-3.7 1-4.5 1-5.3 1-6.1 1-7.1 1-7.8 1-8.6 1-8.9 1-8.8 1-7.8 1-5.8 1-3.1 1 .4 1 3.7 1 6.7 1 8.6 1 9.7 1 10 1 9.6 1 8.7 1 7.5 1 6 1 4.4 1 2.9 1 1.2 1-.2 1-1.5 1-2.5 1-3.4 1-3.9 1-4 1-3.6 1-2.8 1-1.8 1-.3 1 1.2 1 2.5 1 3.7 1 4.4 1 4.8 1 4.9 1 4.7 1 4.2 1 3.7 1 3.1 1 2.5 1 1.9 1 1.5 1 1.1 1 .7 1 .6 1 .5 1 .3 1 .2 1 .2 1 .1 1 .2 1 .1 1 .1 1 0 1 .1 1 .1 1 0 1 0 1 0 1 0 1-.1 1-.2 1-.3 1-.4 1.1-.5 1-.6 1-.7 1-.8 1-.8 1-.7 1-.6 1-.3 1 0 1 .2 1 .5 1 .7 1 .8 1 .8 1 .8 1 .8 1 .6 1 .5 1 .4 1 .2 1 .2 1 .1 1 .1 1 0 1 .1 1 0 1 0 1 0 1 .1 1 0 1 0 1 0 1 0 1 0 1 0 1 0 1 0 1 .1 1 0 1 0 1 0 1 0 1 0 1 0 1 0 1 .1 1 0 1 0 1 0 1 0 1 0 1 0 1 0 1 0 1 0 1 0 1 0 1 0 1 0 1 0 1 0 1 .1 1 0 1 0 1 0 0 .5" stroke="none" stroke-width="1" fill="#fff"/>
<path d="M443.6 236.5l1-.1 1-.1 1 0 1-.1 1-.1 1-.1 1-.1 1-.1 1-.1 1-.1 1-.1 1-.2 1-.1 1-.2 1-.1 1-.2 1-.2 1-.2 1-.1 1-.2 1-.2 1-.2 1-.2 1-.2 1-.2 1-.3 1-.2 1-.2 1-.3 1-.3 1-.3 1-.3 1-.3 1-.3 1-.3 1-.3 1-.3 1-.3 1-.3 1-.4 1-.4 1-.4 1-.5 1-.5 1-.6 1-.6 1-.8 1-.8 1-1 1-1.2 1-1.4 1-1.8 1-2.1 1-2.5 1-3.2 1-3.7 1-4.5 1-5.3 1-6.1 1-7.1 1-7.8 1-8.6 1-8.9 1-8.8 1-7.8 1-5.8 1-3.1 1 .4 1 3.7 1 6.7 1 8.6 1 9.7 1 10 1 9.6 1 8.7 1 7.5 1 6 1 4.4 1 2.9 1 1.2 1-.2 1-1.5 1-2.5 1-3.4 1-3.9 1-4 1-3.6 1-2.8 1-1.8 1-.3 1 1.2 1 2.5 1 3.7 1 4.4 1 4.8 1 4.9 1 4.7 1 4.2 1 3.7 1 3.1 1 2.5 1 1.9 1 1.5 1 1.1 1 .7 1 .6 1 .5 1 .3 1 .2 1 .2 1 .1 1 .2 1 .1 1 .1 1 0 1 .1 1 .1 1 0 1 0 1 0 1 0 1-.1 1-.2 1-.3 1-.4 1.1-.5 1-.6 1-.7 1-.8 1-.8 1-.7 1-.6 1-.3 1 0 1 .2 1 .5 1 .7 1 .8 1 .8 1 .8 1 .8 1 .6 1 .5 1 .4 1 .2 1 .2 1 .1 1 .1 1 0 1 .1 1 0 1 0 1 0 1 .1 1 0 1 0 1 0 1 0 1 0 1 0 1 0 1 0 1 .1 1 0 1 0 1 0 1 0 1 0 1 0 1 0 1 .1 1 0 1 0 1 0 1 0 1 0 1 0 1 0 1 0 1 0 1 0 1 0 1 0 1 0 1 0 1 0 1 .1 1 0 1 0 1 0" stroke="#ff0000" stroke-width="1.0" fill="none" stroke-linejoin="round"/>
<path d="M442 239.4l0-1.1 1-.1 1 0 1-.1 1-.1 1 0 1-.1 1-.1 1-.1 1 0 1-.1 1-.2 1-.1 1-.1 1-.1 1-.2 1-.1 1-.1 1-.2 1-.2 1-.1 1-.2 1-.2 1-.1 1-.2 1-.2 1-.2 1-.2 1-.2 1-.2 1-.2 1-.2 1-.2 1-.2 1-.2 1-.3 1-.2 1-.3 1-.3 1-.3 1-.3 1-.3 1-.4 1-.4 1-.4 1-.5 1-.5 1-.6 1-.8 1-.8 1-1 1-1.3 1-1.5 1-1.8 1-2.3 1-2.7 1-3.3 1-3.9 1-4.6 1-5.2 1-6 1-6.5 1-6.9 1-7 1-6.5 1-5.3 1-3.3 1-.8 1 1.9 1 4.4 1 6.2 1 7.4 1 7.9 1 7.7 1 7.2 1 6.4 1 5.3 1 4.1 1 3 1 1.7 1 .5 1-.6 1-1.5 1-2.4 1-2.9 1-3.3 1-3.3 1-3 1-2.4 1-1.4 1-.3 1 .9 1 2 1 2.9 1 3.6 1 3.9 1 4 1 3.8 1 3.4 1 3 1 2.5 1 2 1 1.5 1 1.2 1 .9 1 .7 1 .4 1 .4 1 .2 1 .2 1 .1 1 .2 1 .1 1 .1 1 .1 1 0 1 .1 1 0 1 0 1 0 1 0 1-.1 1-.1 1-.1 1-.3 1-.3 1-.5 1-.6 1-.7 1-.7 1-.7 1-.6 1-.5 1-.2 1-.1 1 .3 1 .4 1 .6 1 .7 1 .7 1 .7 1 .7 1 .5 1 .5 1 .3 1 .3 1 .2 1 .1 1 .1 1 0 1 .1 1 0 1 0 1 0 1 0 1 .1 1 0 1 0 1 0 1 0 1 0 1 .1 1 0 1 0 1 0 1 0 1 0 1 0 1 0 1 0 1 0 1 0 1 0 1 0 1 0 1 0 1 0 1-.1 1 0 1 .1 1 0 1 0 1 0 1 0 1 0 1 0 1 0 1 0 1 0 1 0 1 0 0 .5" stroke="none" stroke-width="1" fill="#fff"/>
<path d="M442 238.3l1-.1 1 0 1-.1 1-.1 1 0 1-.1 1-.1 1-.1 1 0 1-.1 1-.2 1-.1 1-.1 1-.1 1-.2 1-.1 1-.1 1-.2 1-.2 1-.1 1-.2 1-.2 1-.1 1-.2 1-.2 1-.2 1-.2 1-.2 1-.2 1-.2 1-.2 1-.2 1-.2 1-.2 1-.3 1-.2 1-.3 1-.3 1-.3 1-.3 1-.3 1-.4 1-.4 1-.4 1-.5 1-.5 1-.6 1-.8 1-.8 1-1 1-1.3 1-1.5 1-1.8 1-2.3 1-2.7 1-3.3 1-3.9 1-4.6 1-5.2 1-6 1-6.5 1-6.9 1-7 1-6.5 1-5.3 1-3.3 1-.8 1 1.9 1 4.4 1 6.2 1 7.4 1 7.9 1 7.7 1 7.2 1 6.4 1 5.3 1 4.1 1 3 1 1.7 1 .5 1-.6 1-1.5 1-2.4 1-2.9 1-3.3 1-3.3 1-3 1-2.4 1-1.4 1-.3 1 .9 1 2 1 2.9 1 3.6 1 3.9 1 4 1 3.8 1 3.4 1 3 1 2.5 1 2 1 1.5 1 1.2 1 .9 1 .7 1 .4 1 .4 1 .2 1 .2 1 .1 1 .2 1 .1 1 .1 1 .1 1 0 1 .1 1 0 1 0 1 0 1 0 1-.1 1-.1 1-.1 1-.3 1-.3 1-.5 1-.6 1-.7 1-.7 1-.7 1-.6 1-.5 1-.2 1-.1 1 .3 1 .4 1 .6 1 .7 1 .7 1 .7 1 .7 1 .5 1 .5 1 .3 1 .3 1 .2 1 .1 1 .1 1 0 1 .1 1 0 1 0 1 0 1 0 1 .1 1 0 1 0 1 0 1 0 1 0 1 .1 1 0 1 0 1 0 1 0 1 0 1 0 1 0 1 0 1 0 1 0 1 0 1 0 1 0 1 0 1 0 1-.1 1 0 1 .1 1 0 1 0 1 0 1 0 1 0 1 0 1 0 1 0 1 0 1 0 1 0" stroke="#ff0000" stroke-width="1.0" fill="none" stroke-linejoin="round"/>
<path d="M440.4 241l0-1 1 0 1-.1 1 0 1-.1 1-.1 1 0 1-.1 1-.1 1 0 1-.1 1-.1 1-.1 1-.1 1 0 1-.1 1-.1 1-.1 1-.1 1-.2 1-.1 1-.1 1-.1 1-.2 1-.1 1-.1 1-.2 1-.1 1-.2 1-.2 1-.1 1-.2 1-.2 1-.2 1-.2 1-.2 1-.2 1-.2 1-.2 1-.3 1-.2 1-.3 1-.3 1-.3 1-.3 1-.4 1-.5 1-.5 1-.7 1-.7 1-.9 1-1.2 1-1.3 1-1.6 1-2 1-2.4 1-2.8 1-3.4 1-3.8 1-4.4 1-5 1-5.3 1-5.4 1-5.3 1-4.6 1-3.3 1-1.5 1 .7 1 2.7 1 4.4 1 5.5 1 6.1 1 6.1 1 5.9 1 5.4 1 4.6 1 3.7 1 2.9 1 1.9 1 1.1 1 .2 1-.6 1-1.2 1-1.8 1-2.2 1-2.4 1-2.4 1-2.2 1-1.8 1-1 1-.3 1 .7 1 1.5 1 2.2 1 2.6 1 2.8 1 2.9 1 2.8 1 2.5 1 2.2 1 1.8 1 1.4 1 1.2 1 .8 1 .6 1 .5 1 .3 1 .3 1 .2 1 .1 1 .1 1 .1 1 .1 1 .1 1 0 1 .1 1 0 1 0 1 0 1 0 1 0 1 0 1-.1 1-.1 1-.2 1-.4 1-.4 1-.5 1-.6 1-.7 1-.6 1-.6 1-.5 1-.3 1 0 1 .2 1 .4 1 .5 1 .7 1 .7 1 .6 1 .6 1 .5 1 .4 1 .3 1 .3 1 .1 1 .1 1 .1 1 0 1 .1 1 0 1 0 1 0 1 0 1 0 1 0 1 0 1 0 1 0 1 0 1 0 1 0 1 0 1 0 1 0 1 0 1 0 1 0 1 0 1 0 1 .1 1 0 1 0 1 0 1 0 1 0 1 0 1 0 1 0 1 0 1 0 1 0 1 0 1-.1 1 0 1 0 1 0 1 0 1 0 1 0 0 .5" stroke="none" stroke-width="1" fill="#fff"/>
<path d="M440.4 240l1 0 1-.1 1 0 1-.1 1-.1 1 0 1-.1 1-.1 1 0 1-.1 1-.1 1-.1 1-.1 1 0 1-.1 1-.1 1-.1 1-.1 1-.2 1-.1 1-.1 1-.1 1-.2 1-.1 1-.1 1-.2 1-.1 1-.2 1-.2 1-.1 1-.2 1-.2 1-.2 1-.2 1-.2 1-.2 1-.2 1-.2 1-.3 1-.2 1-.3 1-.3 1-.3 1-.3 1-.4 1-.5 1-.5 1-.7 1-.7 1-.9 1-1.2 1-1.3 1-1.6 1-2 1-2.4 1-2.8 1-3.4 1-3.8 1-4.4 1-5 1-5.3 1-5.4 1-5.3 1-4.6 1-3.3 1-1.5 1 .7 1 2.7 1 4.4 1 5.5 1 6.1 1 6.1 1 5.9 1 5.4 1 4.6 1 3.7 1 2.9 1 1.9 1 1.1 1 .2 1-.6 1-1.2 1-1.8 1-2.2 1-2.4 1-2.4 1-2.2 1-1.8 1-1 1-.3 1 .7 1 1.5 1 2.2 1 2.6 1 2.8 1 2.9 1 2.8 1 2.5 1 2.2 1 1.8 1 1.4 1 1.2 1 .8 1 .6 1 .5 1 .3 1 .3 1 .2 1 .1 1 .1 1 .1 1 .1 1 .1 1 0 1 .1 1 0 1 0 1 0 1 0 1 0 1 0 1-.1 1-.1 1-.2 1-.4 1-.4 1-.5 1-.6 1-.7 1-.6 1-.6 1-.5 1-.3 1 0 1 .2 1 .4 1 .5 1 .7 1 .7 1 .6 1 .6 1 .5 1 .4 1 .3 1 .3 1 .1 1 .1 1 .1 1 0 1 .1 1 0 1 0 1 0 1 0 1 0 1 0 1 0 1 0 1 0 1 0 1 0 1 0 1 0 1 0 1 0 1 0 1 0 1 0 1 0 1 0 1 .1 1 0 1 0 1 0 1 0 1 0 1 0 1 0 1 0 1 0 1 0 1 0 1 0 1-.1 1 0 1 0 1 0 1 0 1 0 1 0" stroke="#ff0000" stroke-width="1.0" fill="none" stroke-linejoin="round"/>
<path d="M438.7 242.7l0-.9 1-.1 1 0 1 0 1 0 1-.1 1 0 1-.1 1 0 1-.1 1-.1 1 0 1-.1 1-.1 1-.1 1-.1 1 0 1-.1 1-.1 1-.1 1-.1 1-.1 1-.1 1-.1 1-.1 1-.1 1-.1 1-.1 1-.1 1-.2 1-.1 1-.1 1-.2 1-.1 1-.1 1-.2 1-.1 1-.2 1-.1 1-.2 1-.2 1-.2 1-.2 1-.3 1-.2 1-.3 1-.4 1-.4 1-.5 1-.6 1-.7 1-.9 1-1.1 1-1.4 1-1.6 1-2 1-2.3 1-2.6 1-3.1 1-3.5 1-3.8 1-4 1-4 1-3.6 1-2.9 1-1.6 1-.2 1 1.4 1 2.8 1 3.8 1 4.3 1 4.6 1 4.5 1 4.1 1 3.7 1 3.1 1 2.5 1 1.8 1 1.2 1 .6 1 0 1-.4 1-.9 1-1.2 1-1.5 1-1.7 1-1.6 1-1.5 1-1.2 1-.7 1-.1 1 .4 1 1 1 1.5 1 1.7 1 1.9 1 2 1 1.8 1 1.7 1 1.5 1 1.2 1 .9 1 .8 1 .6 1 .4 1 .3 1 .2 1 .2 1 .1 1 .1 1 .1 1 .1 1 0 1 0 1 .1 1 0 1 0 1 0 1 .1 1 0 1 0 1-.1 1-.1 1-.1 1-.2 1-.3 1-.4 1-.5 1-.5 1-.6 1-.6 1-.5 1-.4 1-.2 1 0 1 .1 1 .4 1 .4 1 .6 1 .6 1 .6 1 .5 1 .5 1 .3 1 .3 1 .2 1 .2 1 .1 1 0 1 .1 1 0 1 0 1 0 1 0 1 0 1 0 1 0 1 0 1 0 1 0 1 0 1 .1 1 0 1 0 1 0 1 0 1 0 1-.1 1 0 1 0 1 0 1 0 1 0 1 0 1 0 1 0 1 0 1 0 1 0 1 .1 1 0 1 0 1 0 1 .1 1 0 1 0 1-.1 1 0 1 0 1 0 1 0 0 .4" stroke="none" stroke-width="1" fill="#fff"/>
<path d="M438.7 241.8l1-.1 1 0 1 0 1 0 1-.1 1 0 1-.1 1 0 1-.1 1-.1 1 0 1-.1 1-.1 1-.1 1-.1 1 0 1-.1 1-.1 1-.1 1-.1 1-.1 1-.1 1-.1 1-.1 1-.1 1-.1 1-.1 1-.1 1-.2 1-.1 1-.1 1-.2 1-.1 1-.1 1-.2 1-.1 1-.2 1-.1 1-.2 1-.2 1-.2 1-.2 1-.3 1-.2 1-.3 1-.4 1-.4 1-.5 1-.6 1-.7 1-.9 1-1.1 1-1.4 1-1.6 1-2 1-2.3 1-2.6 1-3.1 1-3.5 1-3.8 1-4 1-4 1-3.6 1-2.9 1-1.6 1-.2 1 1.4 1 2.8 1 3.8 1 4.3 1 4.6 1 4.5 1 4.1 1 3.7 1 3.1 1 2.5 1 1.8 1 1.2 1 .6 1 0 1-.4 1-.9 1-1.2 1-1.5 1-1.7 1-1.6 1-1.5 1-1.2 1-.7 1-.1 1 .4 1 1 1 1.5 1 1.7 1 1.9 1 2 1 1.8 1 1.7 1 1.5 1 1.2 1 .9 1 .8 1 .6 1 .4 1 .3 1 .2 1 .2 1 .1 1 .1 1 .1 1 .1 1 0 1 0 1 .1 1 0 1 0 1 0 1 .1 1 0 1 0 1-.1 1-.1 1-.1 1-.2 1-.3 1-.4 1-.5 1-.5 1-.6 1-.6 1-.5 1-.4 1-.2 1 0 1 .1 1 .4 1 .4 1 .6 1 .6 1 .6 1 .5 1 .5 1 .3 1 .3 1 .2 1 .2 1 .1 1 0 1 .1 1 0 1 0 1 0 1 0 1 0 1 0 1 0 1 0 1 0 1 0 1 0 1 .1 1 0 1 0 1 0 1 0 1 0 1-.1 1 0 1 0 1 0 1 0 1 0 1 0 1 0 1 0 1 0 1 0 1 0 1 .1 1 0 1 0 1 0 1 .1 1 0 1 0 1-.1 1 0 1 0 1 0 1 0" stroke="#ff0000" stroke-width="1.0" fill="none" stroke-linejoin="round"/>
<path d="M437 244.4l0-1 1 0 1 0 1-.1 1 0 1 0 1 0 1-.1 1 0 1 0 1-.1 1 0 1 0 1-.1 1-.1 1 0 1-.1 1-.1 1 0 1-.1 1-.1 1-.1 1-.1 1-.1 1 0 1-.1 1-.1 1-.1 1 0 1-.1 1-.2 1-.1 1-.1 1-.1 1-.1 1-.1 1-.1 1-.2 1-.1 1-.1 1-.1 1-.2 1-.1 1-.2 1-.3 1-.2 1-.3 1-.4 1-.4 1-.5 1-.6 1-.7 1-.9 1-1.1 1-1.3 1-1.5 1-1.9 1-2.2 1-2.4 1-2.8 1-3 1-3.2 1-3.1 1-2.9 1-2.2 1-1.2 1-.1 1 1.2 1 2.3 1 3 1 3.5 1 3.7 1 3.5 1 3.3 1 2.9 1 2.4 1 2 1 1.4 1 1 1 .6 1 .1 1-.2 1-.5 1-.8 1-1 1-1.1 1-1.1 1-1 1-.8 1-.4 1-.1 1 .3 1 .7 1 1 1 1.2 1 1.3 1 1.3 1 1.3 1 1.1 1 1 1 .9 1 .6 1 .6 1 .4 1 .3 1 .2 1 .1 1 .1 1 .1 1 .1 1 .1 1 .1 1 0 1 .1 1 0 1 0 1 0 1 0 1 0 1 0 1 0 1 0 1-.1 1-.2 1-.2 1-.3 1-.3 1-.5 1-.5 1-.5 1-.6 1-.4 1-.4 1-.2 1-.1 1 .2 1 .3 1 .5 1 .5 1 .6 1 .5 1 .5 1 .4 1 .4 1 .2 1 .2 1 .1 1 .1 1 0 1 0 1 .1 1-.1 1 0 1 0 1 0 1 0 1 0 1 0 1 0 1 0 1 .1 1 0 1 0 1 0 1 0 1 0 1 0 1 0 1 0 1 0 1 0 1 0 1 0 1 0 1 0 1 0 1 0 1 0 1 0 1 0 1 .1 1 0 1 0 1 0 1 0 1-.1 1 0 1 0 1 0 1 0 1 0 0 .5" stroke="none" stroke-width="1" fill="#fff"/>
<path d="M437 243.4l1 0 1 0 1-.1 1 0 1 0 1 0 1-.1 1 0 1 0 1-.1 1 0 1 0 1-.1 1-.1 1 0 1-.1 1-.1 1 0 1-.1 1-.1 1-.1 1-.1 1-.1 1 0 1-.1 1-.1 1-.1 1 0 1-.1 1-.2 1-.1 1-.1 1-.1 1-.1 1-.1 1-.1 1-.2 1-.1 1-.1 1-.1 1-.2 1-.1 1-.2 1-.3 1-.2 1-.3 1-.4 1-.4 1-.5 1-.6 1-.7 1-.9 1-1.1 1-1.3 1-1.5 1-1.9 1-2.2 1-2.4 1-2.8 1-3 1-3.2 1-3.1 1-2.9 1-2.2 1-1.2 1-.1 1 1.2 1 2.3 1 3 1 3.5 1 3.7 1 3.5 1 3.3 1 2.9 1 2.4 1 2 1 1.4 1 1 1 .6 1 .1 1-.2 1-.5 1-.8 1-1 1-1.1 1-1.1 1-1 1-.8 1-.4 1-.1 1 .3 1 .7 1 1 1 1.2 1 1.3 1 1.3 1 1.3 1 1.1 1 1 1 .9 1 .6 1 .6 1 .4 1 .3 1 .2 1 .1 1 .1 1 .1 1 .1 1 .1 1 .1 1 0 1 .1 1 0 1 0 1 0 1 0 1 0 1 0 1 0 1 0 1-.1 1-.2 1-.2 1-.3 1-.3 1-.5 1-.5 1-.5 1-.6 1-.4 1-.4 1-.2 1-.1 1 .2 1 .3 1 .5 1 .5 1 .6 1 .5 1 .5 1 .4 1 .4 1 .2 1 .2 1 .1 1 .1 1 0 1 0 1 .1 1-.1 1 0 1 0 1 0 1 0 1 0 1 0 1 0 1 0 1 .1 1 0 1 0 1 0 1 0 1 0 1 0 1 0 1 0 1 0 1 0 1 0 1 0 1 0 1 0 1 0 1 0 1 0 1 0 1 0 1 .1 1 0 1 0 1 0 1 0 1-.1 1 0 1 0 1 0 1 0 1 0" stroke="#ff0000" stroke-width="1.0" fill="none" stroke-linejoin="round"/>
<path d="M435.4 246l0-.8 1-.1 1 0 1 0 1 0 1-.1 1 0 1 0 1 0 1 0 1-.1 1 0 1 0 1-.1 1 0 1-.1 1 0 1-.1 1 0 1 0 1-.1 1-.1 1 0 1-.1 1-.1 1 0 1-.1 1-.1 1 0 1-.1 1-.1 1 0 1-.1 1-.1 1-.1 1-.1 1-.1 1 0 1-.1 1-.1 1-.2 1-.1 1-.1 1-.2 1-.2 1-.2 1-.3 1-.2 1-.4 1-.3 1-.5 1-.5 1-.7 1-.8 1-1 1-1.1 1-1.4 1-1.7 1-1.9 1-2.1 1-2.3 1-2.4 1-2.4 1-2.2 1-1.7 1-.9 1 .1 1 .9 1 1.8 1 2.3 1 2.7 1 2.8 1 2.7 1 2.5 1 2.2 1 1.9 1 1.5 1 1.1 1 .8 1 .4 1 .2 1-.1 1-.4 1-.5 1-.6 1-.7 1-.7 1-.7 1-.5 1-.3 1 0 1 .2 1 .5 1 .6 1 .8 1 .9 1 .9 1 .8 1 .8 1 .7 1 .5 1 .5 1 .4 1 .2 1 .2 1 .2 1 .1 1 .1 1 0 1 0 1 .1 1 0 1 0 1 0 1 0 1 .1 1 0 1 0 1 0 1 0 1 0 1 0 1-.1 1-.1 1-.2 1-.3 1-.3 1-.4 1-.4 1-.5 1-.4 1-.5 1-.3 1-.2 1 0 1 .2 1 .2 1 .4 1 .5 1 .4 1 .5 1 .4 1 .3 1 .3 1 .3 1 .2 1 .1 1 .1 1 0 1 0 1 0 1 0 1 0 1 0 1 0 1 0 1 0 1 0 1 0 1 0 1 0 1 0 1 .1 1 0 1 0 1 0 1 0 1 0 1 0 1 0 1 0 1 0 1-.1 1 0 1 0 1 0 1 0 1 .1 1 0 1 0 1 0 1 0 1 0 1 0 1 0 1 0 1 0 1 0 1 0 1 0 1 0 0 .4" stroke="none" stroke-width="1" fill="#fff"/>
<path d="M435.4 245.2l1-.1 1 0 1 0 1 0 1-.1 1 0 1 0 1 0 1 0 1-.1 1 0 1 0 1-.1 1 0 1-.1 1 0 1-.1 1 0 1 0 1-.1 1-.1 1 0 1-.1 1-.1 1 0 1-.1 1-.1 1 0 1-.1 1-.1 1 0 1-.1 1-.1 1-.1 1-.1 1-.1 1 0 1-.1 1-.1 1-.2 1-.1 1-.1 1-.2 1-.2 1-.2 1-.3 1-.2 1-.4 1-.3 1-.5 1-.5 1-.7 1-.8 1-1 1-1.1 1-1.4 1-1.7 1-1.9 1-2.1 1-2.3 1-2.4 1-2.4 1-2.2 1-1.7 1-.9 1 .1 1 .9 1 1.8 1 2.3 1 2.7 1 2.8 1 2.7 1 2.5 1 2.2 1 1.9 1 1.5 1 1.1 1 .8 1 .4 1 .2 1-.1 1-.4 1-.5 1-.6 1-.7 1-.7 1-.7 1-.5 1-.3 1 0 1 .2 1 .5 1 .6 1 .8 1 .9 1 .9 1 .8 1 .8 1 .7 1 .5 1 .5 1 .4 1 .2 1 .2 1 .2 1 .1 1 .1 1 0 1 0 1 .1 1 0 1 0 1 0 1 0 1 .1 1 0 1 0 1 0 1 0 1 0 1 0 1-.1 1-.1 1-.2 1-.3 1-.3 1-.4 1-.4 1-.5 1-.4 1-.5 1-.3 1-.2 1 0 1 .2 1 .2 1 .4 1 .5 1 .4 1 .5 1 .4 1 .3 1 .3 1 .3 1 .2 1 .1 1 .1 1 0 1 0 1 0 1 0 1 0 1 0 1 0 1 0 1 0 1 0 1 0 1 0 1 0 1 0 1 .1 1 0 1 0 1 0 1 0 1 0 1 0 1 0 1 0 1 0 1-.1 1 0 1 0 1 0 1 0 1 .1 1 0 1 0 1 0 1 0 1 0 1 0 1 0 1 0 1 0 1 0 1 0 1 0 1 0" stroke="#ff0000" stroke-width="1.0" fill="none" stroke-linejoin="round"/>
<path d="M433.8 247.6l0-.7 1 0 1 0 1 0 1 0 1-.1 1 0 1 0 1 0 1-.1 1 0 1 0 1-.1 1 0 1 0 1 0 1 0 1 0 1-.1 1 0 1 0 1-.1 1 0 1-.1 1 0 1-.1 1-.1 1 0 1-.1 1 0 1-.1 1 0 1-.1 1 0 1-.1 1 0 1-.1 1 0 1-.1 1-.1 1 0 1-.1 1-.1 1-.1 1-.1 1-.1 1-.2 1-.2 1-.2 1-.2 1-.4 1-.3 1-.5 1-.6 1-.6 1-.9 1-.9 1-1.1 1-1.3 1-1.4 1-1.6 1-1.6 1-1.6 1-1.5 1-1.1 1-.5 1 0 1 .6 1 1.2 1 1.6 1 1.8 1 1.9 1 1.9 1 1.6 1 1.5 1 1.3 1 1 1 .8 1 .5 1 .3 1 .2 1-.1 1-.2 1-.3 1-.3 1-.5 1-.4 1-.4 1-.3 1-.2 1-.1 1 .2 1 .3 1 .4 1 .5 1 .5 1 .6 1 .5 1 .5 1 .4 1 .3 1 .3 1 .3 1 .1 1 .2 1 .1 1 .1 1 0 1 .1 1 0 1 0 1 0 1 0 1 .1 1 0 1 0 1-.1 1 0 1 0 1 0 1 0 1-.1 1 0 1-.1 1-.2 1-.2 1-.3 1-.4 1-.4 1-.4 1-.4 1-.3 1-.3 1-.1 1 0 1 .1 1 .2 1 .4 1 .4 1 .4 1 .4 1 .4 1 .3 1 .2 1 .2 1 .1 1 .1 1 .1 1 0 1 0 1 0 1 .1 1 0 1 0 1 0 1 .1 1 0 1 0 1 0 1 0 1 0 1 0 1 0 1 0 1-.1 1 .1 1 0 1 0 1 0 1 .1 1 0 1 0 1 0 1-.1 1 0 1 0 1 0 1 0 1 0 1 0 1 0 1 0 1 0 1 0 1 0 1 0 1 0 1 0 1 0 1 0 1 0 0 .3" stroke="none" stroke-width="1" fill="#fff"/>
<path d="M433.8 246.9l1 0 1 0 1 0 1 0 1-.1 1 0 1 0 1 0 1-.1 1 0 1 0 1-.1 1 0 1 0 1 0 1 0 1 0 1-.1 1 0 1 0 1-.1 1 0 1-.1 1 0 1-.1 1-.1 1 0 1-.1 1 0 1-.1 1 0 1-.1 1 0 1-.1 1 0 1-.1 1 0 1-.1 1-.1 1 0 1-.1 1-.1 1-.1 1-.1 1-.1 1-.2 1-.2 1-.2 1-.2 1-.4 1-.3 1-.5 1-.6 1-.6 1-.9 1-.9 1-1.1 1-1.3 1-1.4 1-1.6 1-1.6 1-1.6 1-1.5 1-1.1 1-.5 1 0 1 .6 1 1.2 1 1.6 1 1.8 1 1.9 1 1.9 1 1.6 1 1.5 1 1.3 1 1 1 .8 1 .5 1 .3 1 .2 1-.1 1-.2 1-.3 1-.3 1-.5 1-.4 1-.4 1-.3 1-.2 1-.1 1 .2 1 .3 1 .4 1 .5 1 .5 1 .6 1 .5 1 .5 1 .4 1 .3 1 .3 1 .3 1 .1 1 .2 1 .1 1 .1 1 0 1 .1 1 0 1 0 1 0 1 0 1 .1 1 0 1 0 1-.1 1 0 1 0 1 0 1 0 1-.1 1 0 1-.1 1-.2 1-.2 1-.3 1-.4 1-.4 1-.4 1-.4 1-.3 1-.3 1-.1 1 0 1 .1 1 .2 1 .4 1 .4 1 .4 1 .4 1 .4 1 .3 1 .2 1 .2 1 .1 1 .1 1 .1 1 0 1 0 1 0 1 .1 1 0 1 0 1 0 1 .1 1 0 1 0 1 0 1 0 1 0 1 0 1 0 1 0 1-.1 1 .1 1 0 1 0 1 0 1 .1 1 0 1 0 1 0 1-.1 1 0 1 0 1 0 1 0 1 0 1 0 1 0 1 0 1 0 1 0 1 0 1 0 1 0 1 0 1 0 1 0 1 0" stroke="#ff0000" stroke-width="1.0" fill="none" stroke-linejoin="round"/>
<path d="M432.1 249.3l0-.8 1 0 1 0 1 0 1 0 1 0 1 0 1 0 1 0 1 0 1 0 1 0 1 0 1-.1 1 0 1 0 1 0 1-.1 1 0 1 0 1-.1 1 0 1 0 1 0 1-.1 1 0 1 0 1-.1 1 0 1 0 1-.1 1 0 1 0 1-.1 1 0 1 0 1 0 1-.1 1 0 1-.1 1 0 1-.1 1 0 1-.1 1-.1 1-.1 1-.1 1-.1 1-.2 1-.1 1-.3 1-.2 1-.4 1-.4 1-.5 1-.6 1-.7 1-.8 1-1 1-1 1-1.2 1-1.2 1-1.2 1-1 1-.8 1-.4 1 .1 1 .5 1 .9 1 1.2 1 1.3 1 1.4 1 1.3 1 1.2 1 1.1 1 .9 1 .7 1 .6 1 .4 1 .2 1 .1 1 0 1-.1 1-.2 1-.3 1-.3 1-.3 1-.2 1-.2 1-.1 1 0 1 0 1 .2 1 .3 1 .4 1 .3 1 .4 1 .3 1 .3 1 .3 1 .2 1 .2 1 .2 1 .1 1 .1 1 .1 1 .1 1 0 1 0 1 0 1 0 1 0 1 0 1 0 1 0 1 0 1 0 1 .1 1 0 1 0 1-.1 1 0 1-.1 1-.1 1-.1 1-.2 1-.3 1-.3 1-.4 1-.3 1-.4 1-.3 1-.3 1-.1 1-.1 1 .2 1 .2 1 .3 1 .4 1 .4 1 .3 1 .4 1 .3 1 .2 1 .1 1 .1 1 .1 1 .1 1 0 1 0 1 0 1 0 1 0 1 0 1 0 1 .1 1 0 1 0 1 0 1 0 1 0 1 0 1 0 1 0 1 0 1 0 1 0 1 .1 1 0 1 0 1 0 1 0 1 0 1 0 1 0 1 0 1-.1 1 0 1 0 1 0 1 0 1 0 1 0 1 0 1 0 1 0 1 0 1 0 1 0 1 0 1 0 0 .4" stroke="none" stroke-width="1" fill="#fff"/>
<path d="M432.1 248.5l1 0 1 0 1 0 1 0 1 0 1 0 1 0 1 0 1 0 1 0 1 0 1 0 1-.1 1 0 1 0 1 0 1-.1 1 0 1 0 1-.1 1 0 1 0 1 0 1-.1 1 0 1 0 1-.1 1 0 1 0 1-.1 1 0 1 0 1-.1 1 0 1 0 1 0 1-.1 1 0 1-.1 1 0 1-.1 1 0 1-.1 1-.1 1-.1 1-.1 1-.1 1-.2 1-.1 1-.3 1-.2 1-.4 1-.4 1-.5 1-.6 1-.7 1-.8 1-1 1-1 1-1.2 1-1.2 1-1.2 1-1 1-.8 1-.4 1 .1 1 .5 1 .9 1 1.2 1 1.3 1 1.4 1 1.3 1 1.2 1 1.1 1 .9 1 .7 1 .6 1 .4 1 .2 1 .1 1 0 1-.1 1-.2 1-.3 1-.3 1-.3 1-.2 1-.2 1-.1 1 0 1 0 1 .2 1 .3 1 .4 1 .3 1 .4 1 .3 1 .3 1 .3 1 .2 1 .2 1 .2 1 .1 1 .1 1 .1 1 .1 1 0 1 0 1 0 1 0 1 0 1 0 1 0 1 0 1 0 1 0 1 .1 1 0 1 0 1-.1 1 0 1-.1 1-.1 1-.1 1-.2 1-.3 1-.3 1-.4 1-.3 1-.4 1-.3 1-.3 1-.1 1-.1 1 .2 1 .2 1 .3 1 .4 1 .4 1 .3 1 .4 1 .3 1 .2 1 .1 1 .1 1 .1 1 .1 1 0 1 0 1 0 1 0 1 0 1 0 1 0 1 .1 1 0 1 0 1 0 1 0 1 0 1 0 1 0 1 0 1 0 1 0 1 0 1 .1 1 0 1 0 1 0 1 0 1 0 1 0 1 0 1 0 1-.1 1 0 1 0 1 0 1 0 1 0 1 0 1 0 1 0 1 0 1 0 1 0 1 0 1 0 1 0" stroke="#ff0000" stroke-width="1.0" fill="none" stroke-linejoin="round"/>
<path d="M430.4 251l0-.8 1 0 1 0 1 0 1 .1 1 0 1 0 1 0 1 0 1-.1 1 0 1 0 1 0 1 0 1 0 1-.1 1 0 1 0 1 0 1-.1 1 0 1 0 1 0 1 0 1 0 1-.1 1 0 1 0 1 0 1 0 1-.1 1 0 1 0 1-.1 1 0 1 0 1-.1 1 0 1-.1 1 0 1-.1 1 0 1 0 1-.1 1 0 1-.1 1-.1 1-.1 1-.1 1-.2 1-.1 1-.3 1-.2 1-.4 1-.3 1-.5 1-.5 1-.6 1-.7 1-.8 1-.9 1-.9 1-.8 1-.8 1-.6 1-.3 1 .1 1 .4 1 .7 1 .8 1 1.1 1 1 1 1 1 .9 1 .9 1 .7 1 .5 1 .4 1 .4 1 .1 1 .1 1 0 1-.1 1-.1 1-.2 1-.2 1-.2 1-.2 1-.1 1-.1 1 0 1 .1 1 .1 1 .3 1 .2 1 .3 1 .2 1 .3 1 .2 1 .2 1 .1 1 .2 1 .1 1 .1 1 0 1 .1 1 0 1 0 1 0 1 0 1 0 1 0 1 0 1 0 1 0 1 0 1 0 1 0 1 0 1 0 1 0 1 0 1-.1 1-.1 1-.1 1-.2 1-.2 1-.3 1-.4 1-.3 1-.3 1-.3 1-.2 1-.2 1 0 1 .1 1 .2 1 .3 1 .4 1 .3 1 .4 1 .3 1 .2 1 .2 1 .2 1 .1 1 .1 1 0 1 0 1 0 1 .1 1 0 1 0 1 0 1 0 1 0 1 0 1 0 1 0 1 0 1 0 1 0 1 0 1 0 1 0 1-.1 1 0 1 0 1 0 1 0 1 0 1 0 1 0 1 0 1 0 1 0 1 .1 1 0 1 0 1 0 1 0 1 0 1 0 1 .1 1 0 1 0 1 0 1 0 1 0 1 0 1 0 0 .3" stroke="none" stroke-width="1" fill="#fff"/>
<path d="M430.4 250.2l1 0 1 0 1 0 1 .1 1 0 1 0 1 0 1 0 1-.1 1 0 1 0 1 0 1 0 1 0 1-.1 1 0 1 0 1 0 1-.1 1 0 1 0 1 0 1 0 1 0 1-.1 1 0 1 0 1 0 1 0 1-.1 1 0 1 0 1-.1 1 0 1 0 1-.1 1 0 1-.1 1 0 1-.1 1 0 1 0 1-.1 1 0 1-.1 1-.1 1-.1 1-.1 1-.2 1-.1 1-.3 1-.2 1-.4 1-.3 1-.5 1-.5 1-.6 1-.7 1-.8 1-.9 1-.9 1-.8 1-.8 1-.6 1-.3 1 .1 1 .4 1 .7 1 .8 1 1.1 1 1 1 1 1 .9 1 .9 1 .7 1 .5 1 .4 1 .4 1 .1 1 .1 1 0 1-.1 1-.1 1-.2 1-.2 1-.2 1-.2 1-.1 1-.1 1 0 1 .1 1 .1 1 .3 1 .2 1 .3 1 .2 1 .3 1 .2 1 .2 1 .1 1 .2 1 .1 1 .1 1 0 1 .1 1 0 1 0 1 0 1 0 1 0 1 0 1 0 1 0 1 0 1 0 1 0 1 0 1 0 1 0 1 0 1 0 1-.1 1-.1 1-.1 1-.2 1-.2 1-.3 1-.4 1-.3 1-.3 1-.3 1-.2 1-.2 1 0 1 .1 1 .2 1 .3 1 .4 1 .3 1 .4 1 .3 1 .2 1 .2 1 .2 1 .1 1 .1 1 0 1 0 1 0 1 .1 1 0 1 0 1 0 1 0 1 0 1 0 1 0 1 0 1 0 1 0 1 0 1 0 1 0 1 0 1-.1 1 0 1 0 1 0 1 0 1 0 1 0 1 0 1 0 1 0 1 0 1 .1 1 0 1 0 1 0 1 0 1 0 1 0 1 .1 1 0 1 0 1 0 1 0 1 0 1 0 1 0" stroke="#ff0000" stroke-width="1.0" fill="none" stroke-linejoin="round"/>
<path d="M428.8 252.6l0-.7 1 0 1 0 1 0 1 0 1 0 1 0 1 0 1 0 1 0 1 0 1-.1 1 0 1 0 1 0 1 0 1 0 1 0 1 0 1 0 1 0 1 0 1 0 1 0 1 0 1 0 1-.1 1 0 1 0 1-.1 1 0 1-.1 1 0 1 0 1 0 1 0 1-.1 1 0 1 0 1 0 1 0 1-.1 1 0 1 0 1-.1 1 0 1-.1 1-.1 1-.1 1-.1 1-.1 1-.2 1-.2 1-.2 1-.3 1-.4 1-.4 1-.5 1-.5 1-.6 1-.7 1-.7 1-.6 1-.6 1-.4 1-.2 1 0 1 .4 1 .5 1 .7 1 .7 1 .8 1 .8 1 .7 1 .6 1 .5 1 .4 1 .3 1 .3 1 .1 1 .1 1 0 1 0 1-.1 1-.1 1-.2 1-.1 1-.1 1-.1 1-.1 1 0 1 0 1 .1 1 .1 1 .2 1 .2 1 .2 1 .2 1 .2 1 .1 1 .1 1 .1 1 .1 1 .1 1 0 1 0 1 0 1 0 1 0 1 0 1 0 1 0 1 0 1 .1 1 0 1 0 1 0 1 .1 1 0 1 0 1-.1 1 0 1 0 1-.1 1-.1 1-.2 1-.2 1-.3 1-.3 1-.3 1-.3 1-.3 1-.2 1-.1 1 0 1 .1 1 .1 1 .3 1 .3 1 .3 1 .3 1 .3 1 .2 1 .2 1 .1 1 .1 1 .1 1 0 1 .1 1 0 1 0 1 0 1 0 1 0 1 0 1 0 1 0 1 0 1 0 1 0 1 0 1 0 1 0 1 0 1 0 1 0 1 0 1 0 1 0 1 0 1 0 1 0 1 0 1 0 1 0 1 0 1 0 1 0 1 0 1 0 1 0 1 0 1 0 1 0 1 0 1 0 1 0 1 0 1 0 1-.1 1 0 0 .5" stroke="none" stroke-width="1" fill="#fff"/>
<path d="M428.8 251.9l1 0 1 0 1 0 1 0 1 0 1 0 1 0 1 0 1 0 1 0 1-.1 1 0 1 0 1 0 1 0 1 0 1 0 1 0 1 0 1 0 1 0 1 0 1 0 1 0 1 0 1-.1 1 0 1 0 1-.1 1 0 1-.1 1 0 1 0 1 0 1 0 1-.1 1 0 1 0 1 0 1 0 1-.1 1 0 1 0 1-.1 1 0 1-.1 1-.1 1-.1 1-.1 1-.1 1-.2 1-.2 1-.2 1-.3 1-.4 1-.4 1-.5 1-.5 1-.6 1-.7 1-.7 1-.6 1-.6 1-.4 1-.2 1 0 1 .4 1 .5 1 .7 1 .7 1 .8 1 .8 1 .7 1 .6 1 .5 1 .4 1 .3 1 .3 1 .1 1 .1 1 0 1 0 1-.1 1-.1 1-.2 1-.1 1-.1 1-.1 1-.1 1 0 1 0 1 .1 1 .1 1 .2 1 .2 1 .2 1 .2 1 .2 1 .1 1 .1 1 .1 1 .1 1 .1 1 0 1 0 1 0 1 0 1 0 1 0 1 0 1 0 1 0 1 .1 1 0 1 0 1 0 1 .1 1 0 1 0 1-.1 1 0 1 0 1-.1 1-.1 1-.2 1-.2 1-.3 1-.3 1-.3 1-.3 1-.3 1-.2 1-.1 1 0 1 .1 1 .1 1 .3 1 .3 1 .3 1 .3 1 .3 1 .2 1 .2 1 .1 1 .1 1 .1 1 0 1 .1 1 0 1 0 1 0 1 0 1 0 1 0 1 0 1 0 1 0 1 0 1 0 1 0 1 0 1 0 1 0 1 0 1 0 1 0 1 0 1 0 1 0 1 0 1 0 1 0 1 0 1 0 1 0 1 0 1 0 1 0 1 0 1 0 1 0 1 0 1 0 1 0 1 0 1 0 1 0 1 0 1-.1 1 0" stroke="#ff0000" stroke-width="1.0" fill="none" stroke-linejoin="round"/>
<path d="M427.2 254.2l0-.7 1 0 1 0 1 0 1 .1 1 0 1 0 1 0 1 0 1 0 1 0 1-.1 1 0 1 0 1 0 1 0 1 0 1 0 1 0 1 0 1 0 1 0 1 0 1 0 1 0 1 0 1 0 1 0 1 0 1-.1 1 0 1 0 1 0 1 0 1 0 1 0 1 0 1-.1 1 0 1 0 1-.1 1 0 1 0 1-.1 1 0 1-.1 1 0 1-.1 1-.1 1-.1 1-.1 1-.1 1-.1 1-.2 1-.3 1-.2 1-.4 1-.4 1-.4 1-.5 1-.5 1-.6 1-.5 1-.5 1-.3 1-.2 1 .1 1 .3 1 .4 1 .6 1 .6 1 .6 1 .6 1 .6 1 .5 1 .4 1 .3 1 .3 1 .1 1 .1 1 .1 1 0 1-.1 1-.1 1-.1 1-.1 1-.1 1-.1 1 0 1 0 1 0 1 0 1 .1 1 .1 1 .2 1 .1 1 .1 1 .2 1 .1 1 .1 1 .1 1 0 1 .1 1 0 1 .1 1 0 1 0 1 0 1 0 1 .1 1 0 1 0 1 0 1 .1 1 0 1 0 1 0 1 0 1 0 1 0 1-.1 1 0 1-.1 1 0 1-.2 1-.1 1-.2 1-.2 1-.3 1-.3 1-.2 1-.3 1-.2 1-.1 1 0 1 0 1 .2 1 .2 1 .2 1 .3 1 .3 1 .3 1 .2 1 .2 1 .1 1 .1 1 .1 1 0 1 0 1 0 1 0 1 0 1 0 1 0 1 0 1 0 1 0 1 0 1 .1 1 0 1 0 1 0 1 0 1 0 1 0 1 0 1 0 1 0 1 0 1 0 1 0 1 0 1 0 1 0 1 0 1 0 1 0 1 0 1 0 1 0 1 0 1 0 1 0 1 0 1 0 1 0 1 0 1 0 1 0 1 0 1-.1 0 .4" stroke="none" stroke-width="1" fill="#fff"/>
<path d="M427.2 253.5l1 0 1 0 1 0 1 .1 1 0 1 0 1 0 1 0 1 0 1 0 1-.1 1 0 1 0 1 0 1 0 1 0 1 0 1 0 1 0 1 0 1 0 1 0 1 0 1 0 1 0 1 0 1 0 1 0 1-.1 1 0 1 0 1 0 1 0 1 0 1 0 1 0 1-.1 1 0 1 0 1-.1 1 0 1 0 1-.1 1 0 1-.1 1 0 1-.1 1-.1 1-.1 1-.1 1-.1 1-.1 1-.2 1-.3 1-.2 1-.4 1-.4 1-.4 1-.5 1-.5 1-.6 1-.5 1-.5 1-.3 1-.2 1 .1 1 .3 1 .4 1 .6 1 .6 1 .6 1 .6 1 .6 1 .5 1 .4 1 .3 1 .3 1 .1 1 .1 1 .1 1 0 1-.1 1-.1 1-.1 1-.1 1-.1 1-.1 1 0 1 0 1 0 1 0 1 .1 1 .1 1 .2 1 .1 1 .1 1 .2 1 .1 1 .1 1 .1 1 0 1 .1 1 0 1 .1 1 0 1 0 1 0 1 0 1 .1 1 0 1 0 1 0 1 .1 1 0 1 0 1 0 1 0 1 0 1 0 1-.1 1 0 1-.1 1 0 1-.2 1-.1 1-.2 1-.2 1-.3 1-.3 1-.2 1-.3 1-.2 1-.1 1 0 1 0 1 .2 1 .2 1 .2 1 .3 1 .3 1 .3 1 .2 1 .2 1 .1 1 .1 1 .1 1 0 1 0 1 0 1 0 1 0 1 0 1 0 1 0 1 0 1 0 1 0 1 .1 1 0 1 0 1 0 1 0 1 0 1 0 1 0 1 0 1 0 1 0 1 0 1 0 1 0 1 0 1 0 1 0 1 0 1 0 1 0 1 0 1 0 1 0 1 0 1 0 1 0 1 0 1 0 1 0 1 0 1 0 1 0 1-.1" stroke="#ff0000" stroke-width="1.0" fill="none" stroke-linejoin="round"/>
<path d="M425.5 255.9l0-.6 1-.1 1 0 1 0 1 0 1 0 1 0 1 0 1 0 1 0 1 0 1 0 1 0 1 0 1 0 1 0 1 0 1 0 1-.1 1 0 1 0 1 0 1 0 1 0 1 0 1 0 1 0 1 0 1 0 1 0 1 0 1 0 1 0 1 0 1 0 1-.1 1 0 1 0 1-.1 1 0 1 0 1 0 1 0 1 0 1-.1 1 0 1 0 1-.1 1 0 1-.1 1-.1 1-.1 1-.1 1-.2 1-.1 1-.2 1-.3 1-.2 1-.4 1-.4 1-.4 1-.4 1-.5 1-.4 1-.2 1-.2 1 .1 1 .2 1 .3 1 .5 1 .5 1 .5 1 .5 1 .4 1 .4 1 .3 1 .2 1 .2 1 .2 1 .1 1 0 1 0 1 0 1 0 1-.1 1-.1 1-.1 1-.1 1 0 1-.1 1 0 1 .1 1 0 1 .1 1 .1 1 .1 1 .2 1 .1 1 .1 1 0 1 .1 1 .1 1 0 1 0 1 .1 1 0 1 0 1 0 1 0 1 0 1 .1 1 0 1 0 1 0 1 0 1 0 1 0 1 0 1 0 1 0 1 0 1 0 1-.1 1 0 1-.1 1-.1 1-.2 1-.2 1-.2 1-.3 1-.2 1-.3 1-.1 1-.1 1-.1 1 .1 1 .1 1 .2 1 .2 1 .3 1 .2 1 .3 1 .2 1 .1 1 .1 1 .1 1 .1 1 0 1 0 1 0 1 0 1 0 1 0 1 0 1 0 1 0 1 0 1 0 1 .1 1 0 1 0 1 0 1 0 1 .1 1 0 1-.1 1 0 1 0 1-.1 1 0 1 0 1 0 1 0 1 0 1 0 1 0 1 0 1 0 1 0 1 0 1 0 1 0 1 0 1 0 1 0 1 0 1 0 1 0 1 0 1 0 1 0 0 .4" stroke="none" stroke-width="1" fill="#fff"/>
<path d="M425.5 255.3l1-.1 1 0 1 0 1 0 1 0 1 0 1 0 1 0 1 0 1 0 1 0 1 0 1 0 1 0 1 0 1 0 1 0 1-.1 1 0 1 0 1 0 1 0 1 0 1 0 1 0 1 0 1 0 1 0 1 0 1 0 1 0 1 0 1 0 1 0 1-.1 1 0 1 0 1-.1 1 0 1 0 1 0 1 0 1 0 1-.1 1 0 1 0 1-.1 1 0 1-.1 1-.1 1-.1 1-.1 1-.2 1-.1 1-.2 1-.3 1-.2 1-.4 1-.4 1-.4 1-.4 1-.5 1-.4 1-.2 1-.2 1 .1 1 .2 1 .3 1 .5 1 .5 1 .5 1 .5 1 .4 1 .4 1 .3 1 .2 1 .2 1 .2 1 .1 1 0 1 0 1 0 1 0 1-.1 1-.1 1-.1 1-.1 1 0 1-.1 1 0 1 .1 1 0 1 .1 1 .1 1 .1 1 .2 1 .1 1 .1 1 0 1 .1 1 .1 1 0 1 0 1 .1 1 0 1 0 1 0 1 0 1 0 1 .1 1 0 1 0 1 0 1 0 1 0 1 0 1 0 1 0 1 0 1 0 1 0 1-.1 1 0 1-.1 1-.1 1-.2 1-.2 1-.2 1-.3 1-.2 1-.3 1-.1 1-.1 1-.1 1 .1 1 .1 1 .2 1 .2 1 .3 1 .2 1 .3 1 .2 1 .1 1 .1 1 .1 1 .1 1 0 1 0 1 0 1 0 1 0 1 0 1 0 1 0 1 0 1 0 1 0 1 .1 1 0 1 0 1 0 1 0 1 .1 1 0 1-.1 1 0 1 0 1-.1 1 0 1 0 1 0 1 0 1 0 1 0 1 0 1 0 1 0 1 0 1 0 1 0 1 0 1 0 1 0 1 0 1 0 1 0 1 0 1 0 1 0 1 0" stroke="#ff0000" stroke-width="1.0" fill="none" stroke-linejoin="round"/>
<path d="M423.8 257.6l0-.8 1 .1 1 0 1 0 1 0 1 0 1 0 1 0 1 0 1 0 1 0 1 0 1 0 1 0 1 0 1 0 1 0 1 0 1-.1 1 0 1 0 1 0 1 0 1 0 1 0 1 0 1 0 1 0 1 0 1 0 1 0 1 0 1-.1 1 0 1 0 1 0 1 0 1-.1 1 0 1 0 1 0 1 0 1 0 1 0 1-.1 1 0 1 0 1-.1 1 0 1 0 1-.1 1-.1 1-.1 1-.1 1-.2 1-.1 1-.3 1-.2 1-.3 1-.3 1-.4 1-.3 1-.4 1-.3 1-.2 1-.1 1 .1 1 .2 1 .2 1 .4 1 .4 1 .4 1 .4 1 .3 1 .4 1 .2 1 .3 1 .1 1 .2 1 .1 1 0 1 0 1 0 1 0 1-.1 1-.1 1 0 1-.1 1 0 1-.1 1 0 1 0 1 .1 1 0 1 .1 1 .1 1 .1 1 .1 1 .1 1 .1 1 0 1 .1 1 0 1 .1 1 0 1 0 1 0 1 0 1 0 1 0 1 0 1 0 1 0 1 0 1 0 1 0 1 0 1 0 1 0 1 0 1 0 1-.1 1 0 1 0 1-.1 1-.1 1-.2 1-.1 1-.2 1-.2 1-.3 1-.1 1-.2 1-.1 1 0 1 0 1 .1 1 .2 1 .2 1 .3 1 .2 1 .2 1 .2 1 .1 1 .1 1 0 1 .1 1 0 1 0 1 0 1 0 1 .1 1 0 1 0 1 0 1 0 1 0 1 0 1 0 1 0 1 0 1 0 1 0 1 0 1 0 1-.1 1 0 1 0 1 .1 1 0 1 0 1 0 1 0 1 0 1 0 1 0 1 0 1 0 1 0 1 0 1 0 1 0 1 0 1 0 1 0 1 0 1 0 1 0 1 0 1 0 1 0 0 .4" stroke="none" stroke-width="1" fill="#fff"/>
<path d="M423.8 256.8l1 .1 1 0 1 0 1 0 1 0 1 0 1 0 1 0 1 0 1 0 1 0 1 0 1 0 1 0 1 0 1 0 1 0 1-.1 1 0 1 0 1 0 1 0 1 0 1 0 1 0 1 0 1 0 1 0 1 0 1 0 1 0 1-.1 1 0 1 0 1 0 1 0 1-.1 1 0 1 0 1 0 1 0 1 0 1 0 1-.1 1 0 1 0 1-.1 1 0 1 0 1-.1 1-.1 1-.1 1-.1 1-.2 1-.1 1-.3 1-.2 1-.3 1-.3 1-.4 1-.3 1-.4 1-.3 1-.2 1-.1 1 .1 1 .2 1 .2 1 .4 1 .4 1 .4 1 .4 1 .3 1 .4 1 .2 1 .3 1 .1 1 .2 1 .1 1 0 1 0 1 0 1 0 1-.1 1-.1 1 0 1-.1 1 0 1-.1 1 0 1 0 1 .1 1 0 1 .1 1 .1 1 .1 1 .1 1 .1 1 .1 1 0 1 .1 1 0 1 .1 1 0 1 0 1 0 1 0 1 0 1 0 1 0 1 0 1 0 1 0 1 0 1 0 1 0 1 0 1 0 1 0 1 0 1-.1 1 0 1 0 1-.1 1-.1 1-.2 1-.1 1-.2 1-.2 1-.3 1-.1 1-.2 1-.1 1 0 1 0 1 .1 1 .2 1 .2 1 .3 1 .2 1 .2 1 .2 1 .1 1 .1 1 0 1 .1 1 0 1 0 1 0 1 0 1 .1 1 0 1 0 1 0 1 0 1 0 1 0 1 0 1 0 1 0 1 0 1 0 1 0 1 0 1-.1 1 0 1 0 1 .1 1 0 1 0 1 0 1 0 1 0 1 0 1 0 1 0 1 0 1 0 1 0 1 0 1 0 1 0 1 0 1 0 1 0 1 0 1 0 1 0 1 0 1 0" stroke="#ff0000" stroke-width="1.0" fill="none" stroke-linejoin="round"/>
<path d="M422.2 259.2l0-.7 1 0 1 0 1 0 1 0 1 0 1 0 1 0 1 0 1 0 1 0 1 0 1 0 1 0 1 0 1 .1 1 0 1 0 1-.1 1 0 1 0 1 0 1 0 1 0 1 0 1 0 1-.1 1 0 1 0 1 0 1 0 1 0 1 0 1 0 1 0 1 0 1 0 1 0 1 0 1 0 1 0 1 0 1 0 1 0 1 0 1-.1 1 0 1-.1 1 0 1-.1 1 0 1-.1 1-.1 1-.1 1-.2 1-.1 1-.2 1-.3 1-.2 1-.3 1-.3 1-.4 1-.3 1-.2 1-.2 1-.1 1 .1 1 .1 1 .3 1 .3 1 .4 1 .4 1 .3 1 .4 1 .2 1 .3 1 .2 1 .1 1 .1 1 .1 1 .1 1 0 1 0 1-.1 1 0 1-.1 1 0 1-.1 1 0 1 0 1 0 1 0 1 0 1 .1 1 0 1 .1 1 .1 1 0 1 .1 1 0 1 .1 1 0 1 .1 1 0 1 0 1 0 1 0 1 0 1 .1 1 0 1 0 1 0 1 0 1 0 1 0 1 0 1 0 1 0 1 0 1 0 1 0 1-.1 1 0 1-.1 1 0 1-.1 1-.2 1-.1 1-.2 1-.2 1-.2 1-.2 1-.1 1-.1 1 0 1 0 1 .1 1 .2 1 .2 1 .2 1 .2 1 .1 1 .2 1 .1 1 .1 1 .1 1 .1 1 0 1 0 1 0 1-.1 1 0 1 0 1 0 1 0 1 0 1 .1 1 0 1 0 1 .1 1 0 1 0 1 0 1 0 1 0 1 0 1 0 1 0 1-.1 1 0 1 0 1 0 1 0 1 .1 1 0 1 0 1-.1 1 0 1 0 1 0 1 0 1 0 1 0 1 0 1 0 1 .1 1 0 1 0 1 0 1 0 1 0 0 .3" stroke="none" stroke-width="1" fill="#fff"/>
<path d="M422.2 258.5l1 0 1 0 1 0 1 0 1 0 1 0 1 0 1 0 1 0 1 0 1 0 1 0 1 0 1 0 1 .1 1 0 1 0 1-.1 1 0 1 0 1 0 1 0 1 0 1 0 1 0 1-.1 1 0 1 0 1 0 1 0 1 0 1 0 1 0 1 0 1 0 1 0 1 0 1 0 1 0 1 0 1 0 1 0 1 0 1 0 1-.1 1 0 1-.1 1 0 1-.1 1 0 1-.1 1-.1 1-.1 1-.2 1-.1 1-.2 1-.3 1-.2 1-.3 1-.3 1-.4 1-.3 1-.2 1-.2 1-.1 1 .1 1 .1 1 .3 1 .3 1 .4 1 .4 1 .3 1 .4 1 .2 1 .3 1 .2 1 .1 1 .1 1 .1 1 .1 1 0 1 0 1-.1 1 0 1-.1 1 0 1-.1 1 0 1 0 1 0 1 0 1 0 1 .1 1 0 1 .1 1 .1 1 0 1 .1 1 0 1 .1 1 0 1 .1 1 0 1 0 1 0 1 0 1 0 1 .1 1 0 1 0 1 0 1 0 1 0 1 0 1 0 1 0 1 0 1 0 1 0 1 0 1-.1 1 0 1-.1 1 0 1-.1 1-.2 1-.1 1-.2 1-.2 1-.2 1-.2 1-.1 1-.1 1 0 1 0 1 .1 1 .2 1 .2 1 .2 1 .2 1 .1 1 .2 1 .1 1 .1 1 .1 1 .1 1 0 1 0 1 0 1-.1 1 0 1 0 1 0 1 0 1 0 1 .1 1 0 1 0 1 .1 1 0 1 0 1 0 1 0 1 0 1 0 1 0 1 0 1-.1 1 0 1 0 1 0 1 0 1 .1 1 0 1 0 1-.1 1 0 1 0 1 0 1 0 1 0 1 0 1 0 1 0 1 .1 1 0 1 0 1 0 1 0 1 0" stroke="#ff0000" stroke-width="1.0" fill="none" stroke-linejoin="round"/>
<path d="M420.6 260.8l0-.6 1 0 1 0 1 0 1 0 1 0 1 0 1 0 1 0 1 0 1 0 1 0 1 0 1 0 1 0 1 0 1 0 1-.1 1 0 1 0 1 0 1 .1 1 0 1 0 1 0 1 0 1 0 1 0 1 0 1 0 1 0 1 0 1 0 1 0 1 0 1 0 1 0 1 0 1 0 1-.1 1 0 1 0 1 0 1-.1 1 0 1 0 1-.1 1 0 1 0 1-.1 1 0 1-.1 1-.1 1-.1 1-.1 1-.1 1-.1 1-.2 1-.2 1-.3 1-.2 1-.2 1-.3 1-.2 1-.1 1 0 1 0 1 .2 1 .2 1 .2 1 .3 1 .3 1 .3 1 .3 1 .2 1 .2 1 .1 1 .1 1 .1 1 0 1 0 1 0 1 0 1 0 1-.1 1 0 1 0 1-.1 1 0 1 0 1 0 1 0 1 0 1 .1 1 0 1 .1 1 0 1 .1 1 0 1 .1 1 0 1 .1 1 0 1 .1 1 0 1 0 1 0 1 0 1 0 1 0 1 0 1-.1 1 0 1 0 1 0 1 .1 1 0 1 0 1 0 1 0 1 0 1 0 1 0 1-.1 1 0 1-.1 1-.1 1-.2 1-.1 1-.2 1-.2 1-.1 1-.2 1-.1 1 0 1 0 1 .2 1 .1 1 .2 1 .2 1 .1 1 .2 1 .1 1 .1 1 .1 1 .1 1 0 1 .1 1 0 1 0 1 0 1 0 1 0 1 0 1 0 1 0 1 0 1 0 1 0 1 0 1 0 1 0 1 0 1 0 1 0 1 0 1 0 1 0 1 0 1 0 1-.1 1 0 1 0 1 0 1 0 1 0 1 .1 1 0 1 0 1 0 1 0 1 0 1 0 1 0 1 0 1 0 1 0 1 0 1 0 1-.1 1 0 0 .4" stroke="none" stroke-width="1" fill="#fff"/>
<path d="M420.6 260.2l1 0 1 0 1 0 1 0 1 0 1 0 1 0 1 0 1 0 1 0 1 0 1 0 1 0 1 0 1 0 1 0 1-.1 1 0 1 0 1 0 1 .1 1 0 1 0 1 0 1 0 1 0 1 0 1 0 1 0 1 0 1 0 1 0 1 0 1 0 1 0 1 0 1 0 1 0 1-.1 1 0 1 0 1 0 1-.1 1 0 1 0 1-.1 1 0 1 0 1-.1 1 0 1-.1 1-.1 1-.1 1-.1 1-.1 1-.1 1-.2 1-.2 1-.3 1-.2 1-.2 1-.3 1-.2 1-.1 1 0 1 0 1 .2 1 .2 1 .2 1 .3 1 .3 1 .3 1 .3 1 .2 1 .2 1 .1 1 .1 1 .1 1 0 1 0 1 0 1 0 1 0 1-.1 1 0 1 0 1-.1 1 0 1 0 1 0 1 0 1 0 1 .1 1 0 1 .1 1 0 1 .1 1 0 1 .1 1 0 1 .1 1 0 1 .1 1 0 1 0 1 0 1 0 1 0 1 0 1 0 1-.1 1 0 1 0 1 0 1 .1 1 0 1 0 1 0 1 0 1 0 1 0 1 0 1-.1 1 0 1-.1 1-.1 1-.2 1-.1 1-.2 1-.2 1-.1 1-.2 1-.1 1 0 1 0 1 .2 1 .1 1 .2 1 .2 1 .1 1 .2 1 .1 1 .1 1 .1 1 .1 1 0 1 .1 1 0 1 0 1 0 1 0 1 0 1 0 1 0 1 0 1 0 1 0 1 0 1 0 1 0 1 0 1 0 1 0 1 0 1 0 1 0 1 0 1 0 1 0 1-.1 1 0 1 0 1 0 1 0 1 0 1 .1 1 0 1 0 1 0 1 0 1 0 1 0 1 0 1 0 1 0 1 0 1 0 1 0 1-.1 1 0" stroke="#ff0000" stroke-width="1.0" fill="none" stroke-linejoin="round"/>
<path d="M418.9 262.5l0-.7 1 .1 1 0 1-.1 1 0 1 0 1 0 1 0 1 0 1 0 1 0 1 0 1 0 1 0 1 0 1 0 1 0 1 0 1 0 1 0 1 0 1 0 1 0 1 0 1 0 1 0 1 0 1 0 1 0 1 0 1 0 1 .1 1 0 1 0 1-.1 1 0 1 0 1 0 1 0 1 0 1 0 1 0 1 0 1 0 1-.1 1 0 1 0 1 0 1-.1 1 0 1 0 1-.1 1 0 1-.1 1-.1 1-.1 1-.1 1-.2 1-.2 1-.2 1-.2 1-.2 1-.2 1-.2 1-.1 1 0 1 .1 1 .1 1 .2 1 .2 1 .3 1 .2 1 .3 1 .1 1 .2 1 .2 1 .1 1 .1 1 0 1 .1 1 0 1 0 1 0 1 0 1-.1 1 0 1 0 1 0 1-.1 1 0 1 0 1 0 1 .1 1 0 1 0 1 .1 1 0 1 0 1 .1 1 0 1 0 1 .1 1 0 1 0 1 0 1 .1 1 0 1 0 1 0 1 0 1 0 1 0 1 0 1 0 1 0 1 0 1 0 1 0 1 0 1 0 1 0 1-.1 1 0 1 0 1-.1 1-.1 1-.1 1-.1 1-.2 1-.1 1-.2 1-.1 1-.2 1 0 1 0 1 0 1 .1 1 .1 1 .2 1 .2 1 .1 1 .2 1 .1 1 .1 1 0 1 .1 1 0 1 .1 1 0 1 0 1 0 1 0 1 0 1 0 1 0 1 0 1 0 1 0 1 0 1 0 1 0 1 0 1 0 1 0 1 0 1 0 1 0 1 0 1 0 1 0 1 .1 1 0 1 0 1 0 1 0 1 0 1 0 1 0 1 0 1 0 1 0 1 0 1 0 1 0 1 0 1-.1 1 0 1 0 1 0 1 0 1 0 0 .4" stroke="none" stroke-width="1" fill="#fff"/>
<path d="M418.9 261.8l1 .1 1 0 1-.1 1 0 1 0 1 0 1 0 1 0 1 0 1 0 1 0 1 0 1 0 1 0 1 0 1 0 1 0 1 0 1 0 1 0 1 0 1 0 1 0 1 0 1 0 1 0 1 0 1 0 1 0 1 0 1 .1 1 0 1 0 1-.1 1 0 1 0 1 0 1 0 1 0 1 0 1 0 1 0 1 0 1-.1 1 0 1 0 1 0 1-.1 1 0 1 0 1-.1 1 0 1-.1 1-.1 1-.1 1-.1 1-.2 1-.2 1-.2 1-.2 1-.2 1-.2 1-.2 1-.1 1 0 1 .1 1 .1 1 .2 1 .2 1 .3 1 .2 1 .3 1 .1 1 .2 1 .2 1 .1 1 .1 1 0 1 .1 1 0 1 0 1 0 1 0 1-.1 1 0 1 0 1 0 1-.1 1 0 1 0 1 0 1 .1 1 0 1 0 1 .1 1 0 1 0 1 .1 1 0 1 0 1 .1 1 0 1 0 1 0 1 .1 1 0 1 0 1 0 1 0 1 0 1 0 1 0 1 0 1 0 1 0 1 0 1 0 1 0 1 0 1 0 1-.1 1 0 1 0 1-.1 1-.1 1-.1 1-.1 1-.2 1-.1 1-.2 1-.1 1-.2 1 0 1 0 1 0 1 .1 1 .1 1 .2 1 .2 1 .1 1 .2 1 .1 1 .1 1 0 1 .1 1 0 1 .1 1 0 1 0 1 0 1 0 1 0 1 0 1 0 1 0 1 0 1 0 1 0 1 0 1 0 1 0 1 0 1 0 1 0 1 0 1 0 1 0 1 0 1 0 1 .1 1 0 1 0 1 0 1 0 1 0 1 0 1 0 1 0 1 0 1 0 1 0 1 0 1 0 1 0 1-.1 1 0 1 0 1 0 1 0 1 0" stroke="#ff0000" stroke-width="1.0" fill="none" stroke-linejoin="round"/>
<path d="M417.3 264.2l0-.7 1 0 1 0 1 0 1 0 1 0 1 0 1 0 1 0 1 0 1 .1 1 0 1 0 1 0 1 0 1 0 1 0 1-.1 1 0 1 0 1 0 1 0 1 0 1 0 1 0 1 0 1 0 1 0 1 .1 1-.1 1 0 1 0 1 0 1 0 1 0 1 0 1 0 1 0 1 0 1 0 1 0 1 0 1 0 1 0 1 0 1-.1 1 0 1 0 1 0 1-.1 1 0 1-.1 1 0 1-.1 1-.1 1 0 1-.2 1-.1 1-.1 1-.2 1-.2 1-.1 1-.2 1-.2 1 0 1-.1 1 0 1 .1 1 .2 1 .2 1 .2 1 .2 1 .2 1 .2 1 .1 1 .2 1 .1 1 0 1 .1 1 0 1 .1 1 0 1-.1 1 0 1 0 1 0 1-.1 1 0 1 0 1 0 1 0 1 0 1 0 1 .1 1 0 .9 0 1 .1 1 0 1 0 1 .1 1 0 1 0 1 0 1 .1 1 0 1 0 1 0 1 0 1 0 1 0 1 0 1 0 1 0 1 0 1 .1 1 0 1 0 1 0 1 0 1 0 1 0 1 0 1 0 1-.1 1-.1 1 0 1-.1 1-.1 1-.2 1-.1 1-.1 1-.2 1-.1 1 0 1 0 1 0 1 .1 1 .1 1 .2 1 .1 1 .1 1 .2 1 .1 1 0 1 .1 1 0 1 .1 1 0 1 0 1 0 1 0 1 0 1 0 1 0 1 0 1 0 1 0 1 0 1 0 1 0 1 0 1 0 1 0 1-.1 1 0 1 0 1 0 1 0 1 0 1 .1 1 0 1 0 1 0 1 0 1 0 1 0 1-.1 1 0 1 0 1 0 1 0 1 0 1 0 1 0 1 0 1 0 1 .1 1 0 1 0 1 0 1 0 0 .4" stroke="none" stroke-width="1" fill="#fff"/>
<path d="M417.3 263.5l1 0 1 0 1 0 1 0 1 0 1 0 1 0 1 0 1 0 1 .1 1 0 1 0 1 0 1 0 1 0 1 0 1-.1 1 0 1 0 1 0 1 0 1 0 1 0 1 0 1 0 1 0 1 0 1 .1 1-.1 1 0 1 0 1 0 1 0 1 0 1 0 1 0 1 0 1 0 1 0 1 0 1 0 1 0 1 0 1 0 1-.1 1 0 1 0 1 0 1-.1 1 0 1-.1 1 0 1-.1 1-.1 1 0 1-.2 1-.1 1-.1 1-.2 1-.2 1-.1 1-.2 1-.2 1 0 1-.1 1 0 1 .1 1 .2 1 .2 1 .2 1 .2 1 .2 1 .2 1 .1 1 .2 1 .1 1 0 1 .1 1 0 1 .1 1 0 1-.1 1 0 1 0 1 0 1-.1 1 0 1 0 1 0 1 0 1 0 1 0 1 .1 1 0 .9 0 1 .1 1 0 1 0 1 .1 1 0 1 0 1 0 1 .1 1 0 1 0 1 0 1 0 1 0 1 0 1 0 1 0 1 0 1 0 1 .1 1 0 1 0 1 0 1 0 1 0 1 0 1 0 1 0 1-.1 1-.1 1 0 1-.1 1-.1 1-.2 1-.1 1-.1 1-.2 1-.1 1 0 1 0 1 0 1 .1 1 .1 1 .2 1 .1 1 .1 1 .2 1 .1 1 0 1 .1 1 0 1 .1 1 0 1 0 1 0 1 0 1 0 1 0 1 0 1 0 1 0 1 0 1 0 1 0 1 0 1 0 1 0 1 0 1-.1 1 0 1 0 1 0 1 0 1 0 1 .1 1 0 1 0 1 0 1 0 1 0 1 0 1-.1 1 0 1 0 1 0 1 0 1 0 1 0 1 0 1 0 1 0 1 .1 1 0 1 0 1 0 1 0" stroke="#ff0000" stroke-width="1.0" fill="none" stroke-linejoin="round"/>
<path d="M415.6 265.8l0-.6 1 0 1 0 1 0 1 0 1 0 1 0 1 0 1 0 1 .1 1 0 1 0 1 0 1 0 1 0 1 0 1 0 1-.1 1 0 1 0 1 0 1-.1 1 0 1 0 1 0 1 0 1 0 1 0 1 0 1 0 1 0 1 0 1 0 1 0 1 .1 1 0 1 0 1-.1 1 0 1 0 1 0 1 0 1 0 1 0 1 0 1-.1 1 0 1 0 1 0 1 0 1 0 1-.1 1 0 1 0 1-.1 1-.1 1 0 1-.1 1-.2 1-.1 1-.1 1-.2 1-.1 1-.2 1 0 1-.1 1 .1 1 .1 1 .1 1 .2 1 .1 1 .2 1 .2 1 .1 1 .1 1 .1 1 .1 1 0 1 .1 1 0 1 0 1 0 1 0 1 0 1 0 1 0 1-.1 1 0 1 0 1 0 1 0 1 0 1 0 1 0 1 .1 1 0 1 .1 1 0 1 .1 1 0 1 0 1 0 1 0 1 0 1 0 1 0 1 0 1 0 1 0 1 0 1 0 1 0 1 0 1 0 1 .1 1 0 1 0 1 0 1 0 1 0 1 0 1 0 1 0 1 0 1 0 1-.1 1-.1 1-.1 1-.2 1-.1 1-.1 1-.2 1-.1 1 0 1 0 1 0 1 .1 1 .1 1 .1 1 .1 1 .1 1 .2 1 .1 1 0 1 .1 1 .1 1 0 1 0 1 0 1 0 1 0 1 0 1 0 1 0 1 0 1 0 1 0 1 0 1 0 1 0 1 0 1 0 1 0 1 0 1 0 1 0 1 0 1 0 1 0 1 0 1 0 1 .1 1 0 1-.1 1 0 1 0 1 0 1 0 1 0 1 0 1 0 1 0 1 0 1 0 1 0 1 0 1 0 1 0 1 0 1 0 1 0 0 .4" stroke="none" stroke-width="1" fill="#fff"/>
<path d="M415.6 265.2l1 0 1 0 1 0 1 0 1 0 1 0 1 0 1 0 1 .1 1 0 1 0 1 0 1 0 1 0 1 0 1 0 1-.1 1 0 1 0 1 0 1-.1 1 0 1 0 1 0 1 0 1 0 1 0 1 0 1 0 1 0 1 0 1 0 1 0 1 .1 1 0 1 0 1-.1 1 0 1 0 1 0 1 0 1 0 1 0 1 0 1-.1 1 0 1 0 1 0 1 0 1 0 1-.1 1 0 1 0 1-.1 1-.1 1 0 1-.1 1-.2 1-.1 1-.1 1-.2 1-.1 1-.2 1 0 1-.1 1 .1 1 .1 1 .1 1 .2 1 .1 1 .2 1 .2 1 .1 1 .1 1 .1 1 .1 1 0 1 .1 1 0 1 0 1 0 1 0 1 0 1 0 1 0 1-.1 1 0 1 0 1 0 1 0 1 0 1 0 1 0 1 .1 1 0 1 .1 1 0 1 .1 1 0 1 0 1 0 1 0 1 0 1 0 1 0 1 0 1 0 1 0 1 0 1 0 1 0 1 0 1 0 1 .1 1 0 1 0 1 0 1 0 1 0 1 0 1 0 1 0 1 0 1 0 1-.1 1-.1 1-.1 1-.2 1-.1 1-.1 1-.2 1-.1 1 0 1 0 1 0 1 .1 1 .1 1 .1 1 .1 1 .1 1 .2 1 .1 1 0 1 .1 1 .1 1 0 1 0 1 0 1 0 1 0 1 0 1 0 1 0 1 0 1 0 1 0 1 0 1 0 1 0 1 0 1 0 1 0 1 0 1 0 1 0 1 0 1 0 1 0 1 0 1 0 1 .1 1 0 1-.1 1 0 1 0 1 0 1 0 1 0 1 0 1 0 1 0 1 0 1 0 1 0 1 0 1 0 1 0 1 0 1 0 1 0" stroke="#ff0000" stroke-width="1.0" fill="none" stroke-linejoin="round"/>
<line x1="457.7" y1="220.5" x2="483.5" y2="220.5" stroke="#000" stroke-width="1.2"/>
<line x1="562" y1="220.5" x2="577" y2="220.5" stroke="#000" stroke-width="1.2"/>
<line x1="597.5" y1="220.5" x2="657.7" y2="220.5" stroke="#000" stroke-width="1.2"/>
<line x1="408.1" y1="270.4" x2="608.2" y2="270.4" stroke="#000" stroke-width="1.15"/>
<line x1="408.6" y1="270" x2="408.6" y2="264.5" stroke="#222" stroke-width="1"/>
<text x="408.6" y="287.6" font-size="12" fill="#000" text-anchor="middle">1.0</text>
<line x1="475.15" y1="270" x2="475.15" y2="264.5" stroke="#222" stroke-width="1"/>
<text x="475.15" y="287.6" font-size="12" fill="#000" text-anchor="middle">1.5</text>
<line x1="541.7" y1="270" x2="541.7" y2="264.5" stroke="#222" stroke-width="1"/>
<text x="541.7" y="287.6" font-size="12" fill="#000" text-anchor="middle">2.0</text>
<line x1="608.25" y1="270" x2="608.25" y2="264.5" stroke="#222" stroke-width="1"/>
<text x="608.25" y="287.6" font-size="12" fill="#000" text-anchor="middle">2.5</text>
<text x="422.6" y="305" font-size="12.3">Final state energy E – E<tspan dy="2.6" font-size="9.2">vac</tspan><tspan dy="-2.6"> (eV)</tspan></text>
<line x1="608.2" y1="270" x2="657.7" y2="220.5" stroke="#000" stroke-width="1.1"/>
<line x1="657.7" y1="220.5" x2="675" y2="202.4" stroke="#000" stroke-width="1.1" stroke-dasharray="6.5 4"/>
<line x1="608.2" y1="270" x2="614.7" y2="270" stroke="#444" stroke-width="0.9"/>
<text x="620" y="274.9" font-size="12" fill="#000" text-anchor="start">300</text>
<line x1="620.58" y1="257.62" x2="627.08" y2="257.62" stroke="#444" stroke-width="0.9"/>
<text x="632.38" y="262.52" font-size="12" fill="#000" text-anchor="start">200</text>
<line x1="632.95" y1="245.25" x2="639.45" y2="245.25" stroke="#444" stroke-width="0.9"/>
<text x="644.75" y="250.15" font-size="12" fill="#000" text-anchor="start">100</text>
<line x1="645.33" y1="232.88" x2="651.83" y2="232.88" stroke="#444" stroke-width="0.9"/>
<text x="657.12" y="237.78" font-size="12" fill="#000" text-anchor="start">0</text>
<line x1="657.7" y1="220.5" x2="664.2" y2="220.5" stroke="#444" stroke-width="0.9"/>
<text x="669.5" y="225.4" font-size="12" fill="#000" text-anchor="start">−100</text>
<text x="655.8" y="281.3" font-size="12.3" fill="#000" text-anchor="start" transform="rotate(-45 655.8 281.3)">Time delay (fs)</text>
<rect x="756.8" y="3.4" width="50.40000000000009" height="129.1" fill="#d2d2d2"/>
<rect x="756.8" y="292.5" width="50.40000000000009" height="9.699999999999989" fill="#7f7f7f"/>
<line x1="756.8" y1="113.5" x2="807.2" y2="113.5" stroke="#555" stroke-width="0.9"/>
<line x1="769.8" y1="136" x2="769.8" y2="63.9" stroke="#1aa35c" stroke-width="1"/>
<path d="M767.5 66.5 769.8 60 772.1 66.5 769.8 64.7 Z" stroke="none" stroke-width="1" fill="#1aa35c"/>
<line x1="782.6" y1="136.5" x2="782.6" y2="68.9" stroke="#1aa35c" stroke-width="1"/>
<path d="M780.3 71.5 782.6 65 784.9 71.5 782.6 69.7 Z" stroke="none" stroke-width="1" fill="#1aa35c"/>
<line x1="795.2" y1="121" x2="795.2" y2="53.5" stroke="#1aa35c" stroke-width="1"/>
<path d="M792.9 56.1 795.2 49.6 797.5 56.1 795.2 54.3 Z" stroke="none" stroke-width="1" fill="#1aa35c"/>
<line x1="769.8" y1="274.5" x2="769.8" y2="139" stroke="#3c3cae" stroke-width="1"/>
<path d="M767.5 140.5 769.8 133.3 772.1 140.5 769.8 138.7 Z" stroke="none" stroke-width="1" fill="#3c3cae"/>
<line x1="756.8" y1="121.1" x2="807.2" y2="121.1" stroke="#000" stroke-width="1.9"/>
<line x1="756.8" y1="136.7" x2="807.2" y2="136.7" stroke="#000" stroke-width="1.9"/>
<line x1="756.8" y1="262.1" x2="807.2" y2="262.1" stroke="#000" stroke-width="1" stroke-dasharray="2.4 2.6"/>
<line x1="756.8" y1="274.5" x2="807.2" y2="274.5" stroke="#000" stroke-width="1.9"/>
<line x1="756.8" y1="3.4" x2="807.2" y2="3.4" stroke="#444" stroke-width="1"/>
<line x1="756.8" y1="3.4" x2="756.8" y2="302.2" stroke="#555" stroke-width="1.3"/>
<line x1="807.2" y1="3.4" x2="807.2" y2="302.2" stroke="#555" stroke-width="1.3"/>
<line x1="756.8" y1="302.2" x2="807.2" y2="302.2" stroke="#555" stroke-width="1"/>
<text x="764.3" y="23.9" font-size="12.3" fill="#000" text-anchor="start">(c)</text>
<text x="763.3" y="53.8" font-size="12" fill="#1aa35c">ħω<tspan dy="3" font-size="8.7">vis</tspan></text>
<text x="775.3" y="208" font-size="12" fill="#3c3cae">ħω<tspan dy="2.4" font-size="7.2">UV</tspan></text>
<text x="732.5" y="109" font-size="12">E<tspan dy="3" font-size="8.4">vac</tspan></text>
<text x="733.2" y="125.7" font-size="12.0" fill="#2222ff" text-anchor="start">n=2</text>
<text x="733.2" y="141.1" font-size="12.0" fill="#00bebe" text-anchor="start">n=1</text>
<text x="740.5" y="257.8" font-size="12">E<tspan dy="3" font-size="8.8">F</tspan></text>
<text x="738.6" y="279.1" font-size="12" fill="#ff0000" text-anchor="start">SS</text>
<text x="766" y="288.1" font-size="8.9" fill="#000" text-anchor="start">Cu(111)</text>
</svg>
</body></html>
